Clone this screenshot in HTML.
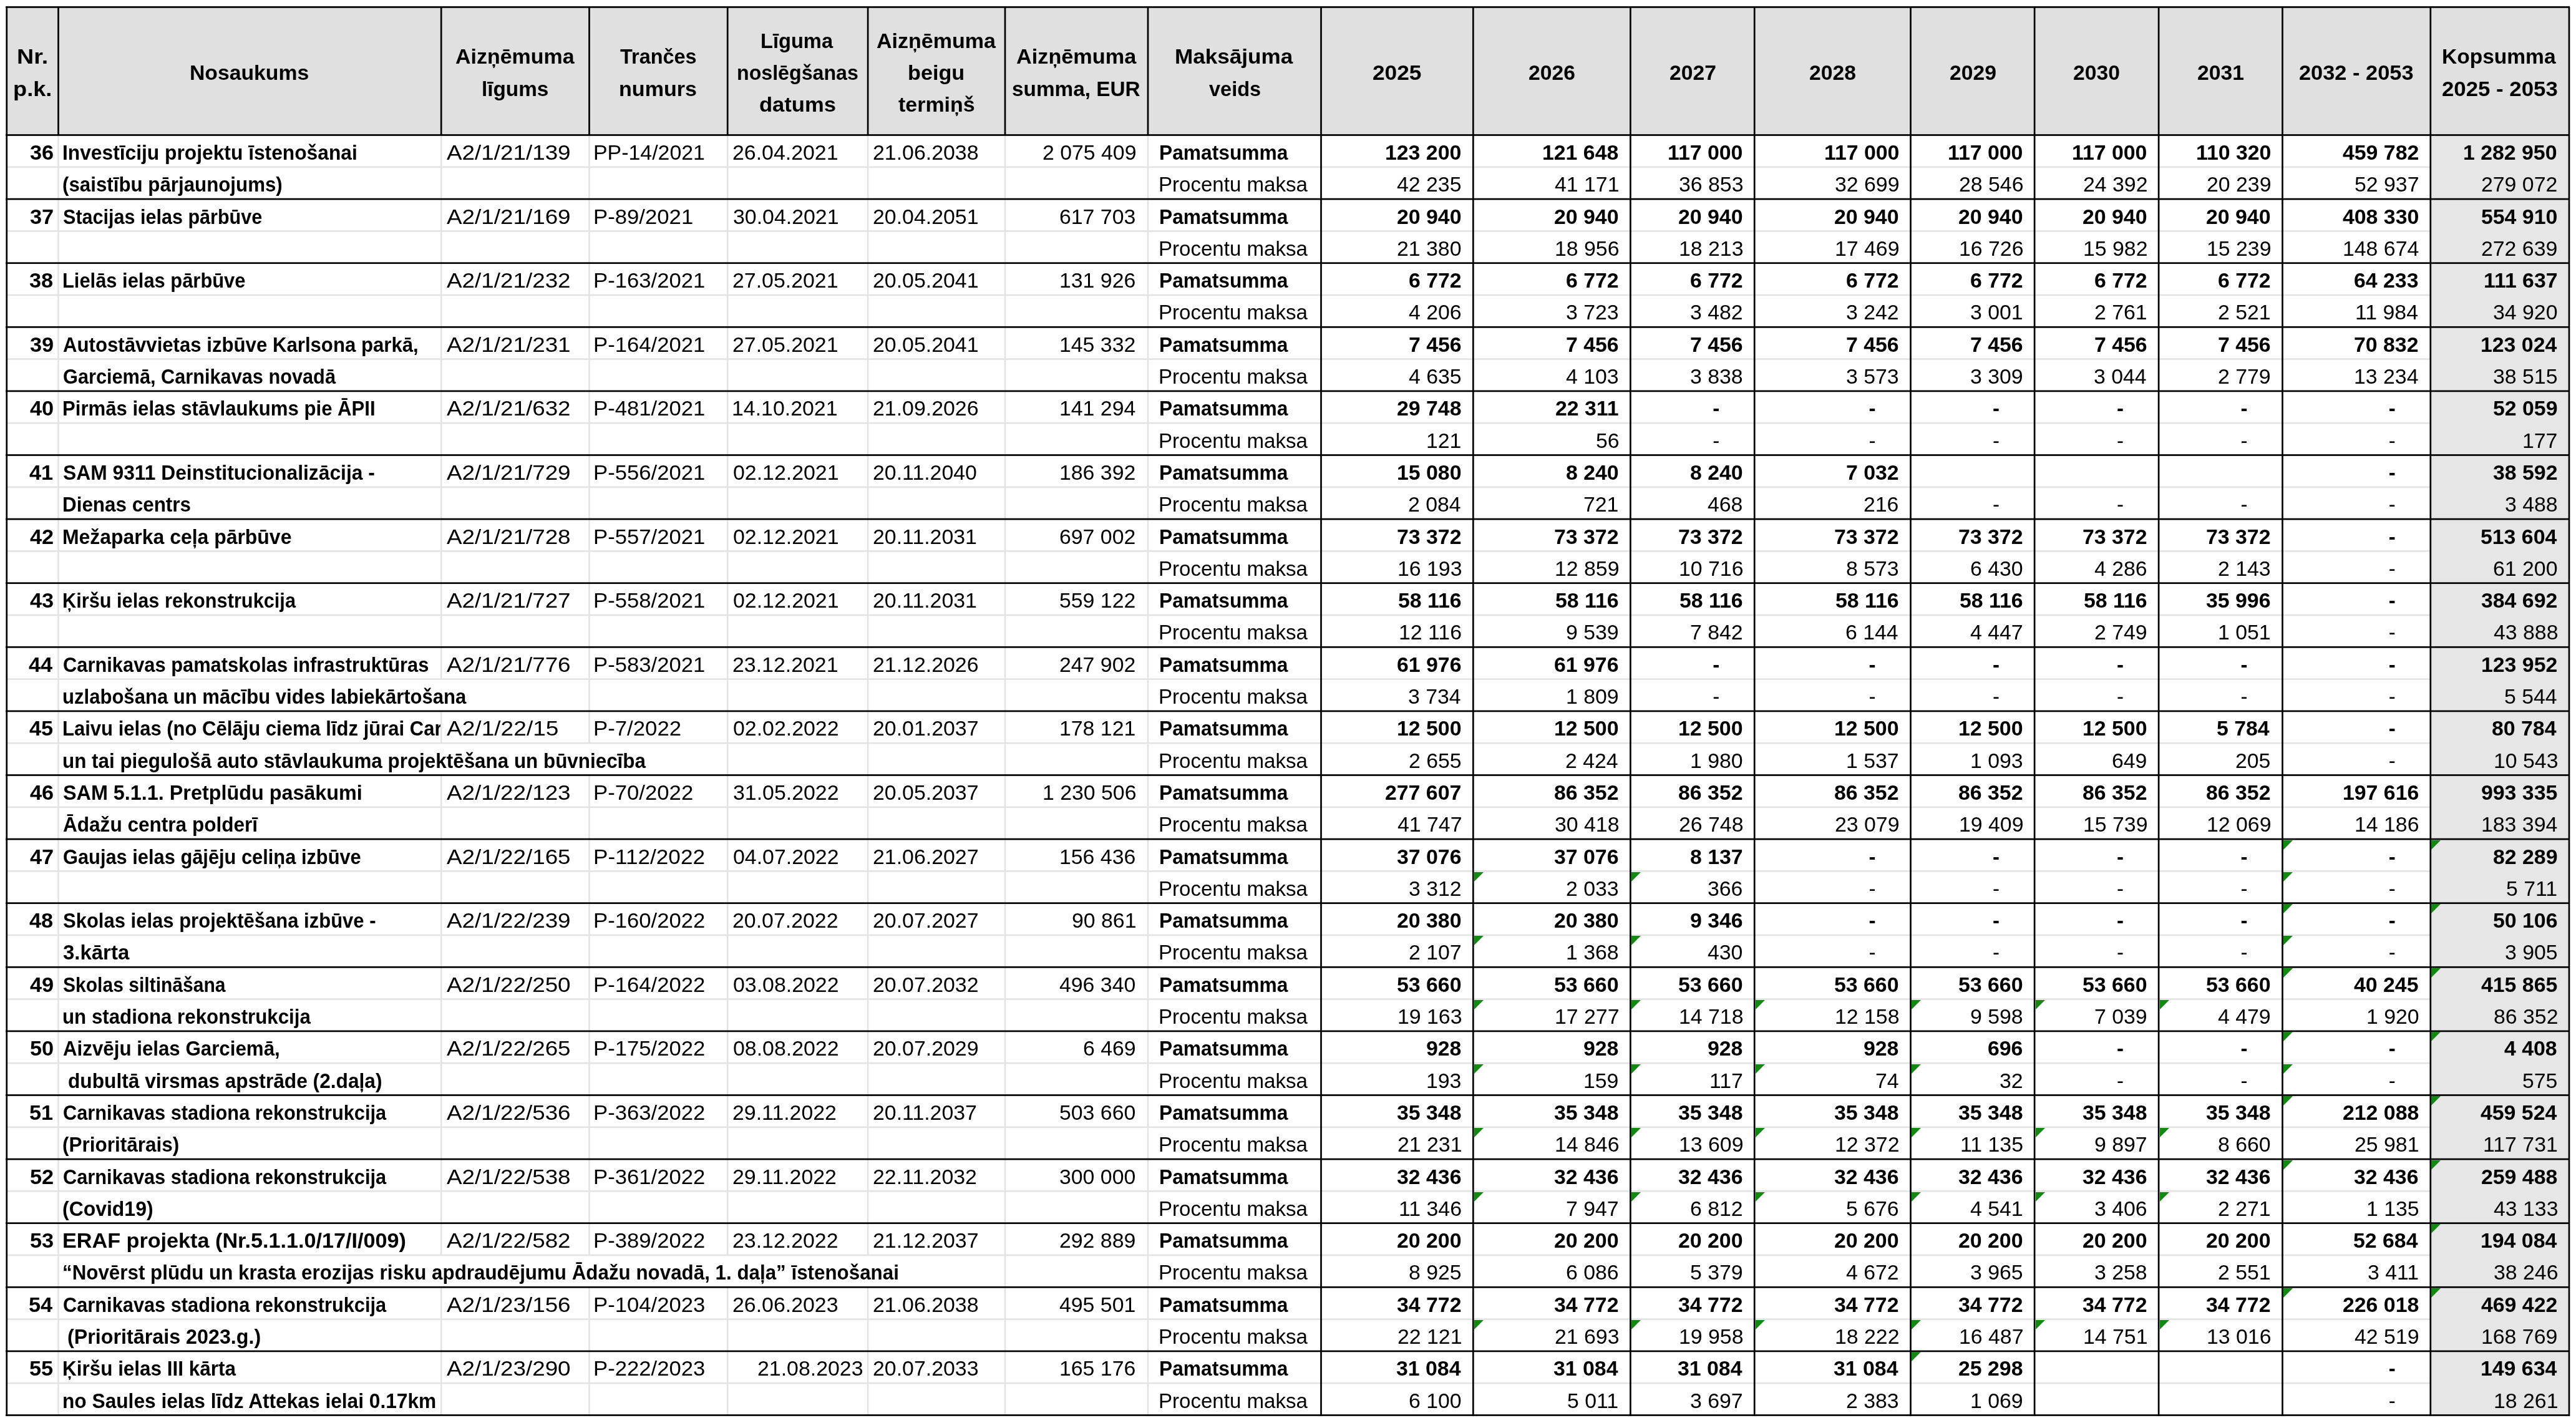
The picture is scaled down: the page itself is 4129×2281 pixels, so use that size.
<!DOCTYPE html>
<html><head><meta charset="utf-8"><style>
html,body{margin:0;padding:0;background:#fff}
body{width:4129px;height:2281px;position:relative;overflow:hidden}
body>div,.clip>div{position:absolute}
.clip{overflow:hidden}
.t{white-space:nowrap;font-family:"Liberation Sans",sans-serif;font-size:33px;line-height:40px;height:40px;color:#000;transform-origin:0 0}
.b{font-weight:bold}
.r{font-weight:normal}
</style></head><body>
<div style="left:11px;top:11px;width:4107px;height:206px;background:#e0e0e0"></div>
<div style="left:3896px;top:217px;width:222px;height:2052px;background:#e6e6e6"></div>
<div style="left:9px;top:10px;width:4110px;height:1px;background:rgba(0,0,0,0.950)"></div>
<div style="left:9px;top:11px;width:4110px;height:1px;background:rgba(0,0,0,1.000)"></div>
<div style="left:9px;top:12px;width:4110px;height:1px;background:rgba(0,0,0,0.750)"></div>
<div style="left:9px;top:215px;width:4110px;height:1px;background:rgba(0,0,0,0.850)"></div>
<div style="left:9px;top:216px;width:4110px;height:1px;background:rgba(0,0,0,1.000)"></div>
<div style="left:9px;top:217px;width:4110px;height:1px;background:rgba(0,0,0,0.850)"></div>
<div style="left:11px;top:266px;width:3885px;height:1px;background:rgb(241,241,241);mix-blend-mode:darken"></div>
<div style="left:11px;top:267px;width:3885px;height:2px;background:rgb(227,227,227);mix-blend-mode:darken"></div>
<div style="left:11px;top:269px;width:3885px;height:1px;background:rgb(252,252,252);mix-blend-mode:darken"></div>
<div style="left:11px;top:369px;width:3885px;height:1px;background:rgb(230,230,230);mix-blend-mode:darken"></div>
<div style="left:11px;top:370px;width:3885px;height:1px;background:rgb(227,227,227);mix-blend-mode:darken"></div>
<div style="left:11px;top:371px;width:3885px;height:1px;background:rgb(235,235,235);mix-blend-mode:darken"></div>
<div style="left:11px;top:471px;width:3885px;height:1px;background:rgb(247,247,247);mix-blend-mode:darken"></div>
<div style="left:11px;top:472px;width:3885px;height:2px;background:rgb(227,227,227);mix-blend-mode:darken"></div>
<div style="left:11px;top:474px;width:3885px;height:1px;background:rgb(247,247,247);mix-blend-mode:darken"></div>
<div style="left:11px;top:574px;width:3885px;height:1px;background:rgb(235,235,235);mix-blend-mode:darken"></div>
<div style="left:11px;top:575px;width:3885px;height:1px;background:rgb(227,227,227);mix-blend-mode:darken"></div>
<div style="left:11px;top:576px;width:3885px;height:1px;background:rgb(230,230,230);mix-blend-mode:darken"></div>
<div style="left:11px;top:676px;width:3885px;height:1px;background:rgb(252,252,252);mix-blend-mode:darken"></div>
<div style="left:11px;top:677px;width:3885px;height:2px;background:rgb(227,227,227);mix-blend-mode:darken"></div>
<div style="left:11px;top:679px;width:3885px;height:1px;background:rgb(241,241,241);mix-blend-mode:darken"></div>
<div style="left:11px;top:779px;width:3885px;height:1px;background:rgb(241,241,241);mix-blend-mode:darken"></div>
<div style="left:11px;top:780px;width:3885px;height:2px;background:rgb(227,227,227);mix-blend-mode:darken"></div>
<div style="left:11px;top:782px;width:3885px;height:1px;background:rgb(252,252,252);mix-blend-mode:darken"></div>
<div style="left:11px;top:882px;width:3885px;height:1px;background:rgb(230,230,230);mix-blend-mode:darken"></div>
<div style="left:11px;top:883px;width:3885px;height:1px;background:rgb(227,227,227);mix-blend-mode:darken"></div>
<div style="left:11px;top:884px;width:3885px;height:1px;background:rgb(235,235,235);mix-blend-mode:darken"></div>
<div style="left:11px;top:984px;width:3885px;height:1px;background:rgb(247,247,247);mix-blend-mode:darken"></div>
<div style="left:11px;top:985px;width:3885px;height:2px;background:rgb(227,227,227);mix-blend-mode:darken"></div>
<div style="left:11px;top:987px;width:3885px;height:1px;background:rgb(247,247,247);mix-blend-mode:darken"></div>
<div style="left:11px;top:1087px;width:3885px;height:1px;background:rgb(235,235,235);mix-blend-mode:darken"></div>
<div style="left:11px;top:1088px;width:3885px;height:1px;background:rgb(227,227,227);mix-blend-mode:darken"></div>
<div style="left:11px;top:1089px;width:3885px;height:1px;background:rgb(230,230,230);mix-blend-mode:darken"></div>
<div style="left:11px;top:1189px;width:3885px;height:1px;background:rgb(252,252,252);mix-blend-mode:darken"></div>
<div style="left:11px;top:1190px;width:3885px;height:2px;background:rgb(227,227,227);mix-blend-mode:darken"></div>
<div style="left:11px;top:1192px;width:3885px;height:1px;background:rgb(241,241,241);mix-blend-mode:darken"></div>
<div style="left:11px;top:1292px;width:3885px;height:1px;background:rgb(241,241,241);mix-blend-mode:darken"></div>
<div style="left:11px;top:1293px;width:3885px;height:2px;background:rgb(227,227,227);mix-blend-mode:darken"></div>
<div style="left:11px;top:1295px;width:3885px;height:1px;background:rgb(252,252,252);mix-blend-mode:darken"></div>
<div style="left:11px;top:1395px;width:3885px;height:1px;background:rgb(230,230,230);mix-blend-mode:darken"></div>
<div style="left:11px;top:1396px;width:3885px;height:1px;background:rgb(227,227,227);mix-blend-mode:darken"></div>
<div style="left:11px;top:1397px;width:3885px;height:1px;background:rgb(235,235,235);mix-blend-mode:darken"></div>
<div style="left:11px;top:1497px;width:3885px;height:1px;background:rgb(247,247,247);mix-blend-mode:darken"></div>
<div style="left:11px;top:1498px;width:3885px;height:2px;background:rgb(227,227,227);mix-blend-mode:darken"></div>
<div style="left:11px;top:1500px;width:3885px;height:1px;background:rgb(247,247,247);mix-blend-mode:darken"></div>
<div style="left:11px;top:1600px;width:3885px;height:1px;background:rgb(235,235,235);mix-blend-mode:darken"></div>
<div style="left:11px;top:1601px;width:3885px;height:1px;background:rgb(227,227,227);mix-blend-mode:darken"></div>
<div style="left:11px;top:1602px;width:3885px;height:1px;background:rgb(230,230,230);mix-blend-mode:darken"></div>
<div style="left:11px;top:1702px;width:3885px;height:1px;background:rgb(252,252,252);mix-blend-mode:darken"></div>
<div style="left:11px;top:1703px;width:3885px;height:2px;background:rgb(227,227,227);mix-blend-mode:darken"></div>
<div style="left:11px;top:1705px;width:3885px;height:1px;background:rgb(241,241,241);mix-blend-mode:darken"></div>
<div style="left:11px;top:1805px;width:3885px;height:1px;background:rgb(241,241,241);mix-blend-mode:darken"></div>
<div style="left:11px;top:1806px;width:3885px;height:2px;background:rgb(227,227,227);mix-blend-mode:darken"></div>
<div style="left:11px;top:1808px;width:3885px;height:1px;background:rgb(252,252,252);mix-blend-mode:darken"></div>
<div style="left:11px;top:1908px;width:3885px;height:1px;background:rgb(230,230,230);mix-blend-mode:darken"></div>
<div style="left:11px;top:1909px;width:3885px;height:1px;background:rgb(227,227,227);mix-blend-mode:darken"></div>
<div style="left:11px;top:1910px;width:3885px;height:1px;background:rgb(235,235,235);mix-blend-mode:darken"></div>
<div style="left:11px;top:2010px;width:3885px;height:1px;background:rgb(247,247,247);mix-blend-mode:darken"></div>
<div style="left:11px;top:2011px;width:3885px;height:2px;background:rgb(227,227,227);mix-blend-mode:darken"></div>
<div style="left:11px;top:2013px;width:3885px;height:1px;background:rgb(247,247,247);mix-blend-mode:darken"></div>
<div style="left:11px;top:2113px;width:3885px;height:1px;background:rgb(235,235,235);mix-blend-mode:darken"></div>
<div style="left:11px;top:2114px;width:3885px;height:1px;background:rgb(227,227,227);mix-blend-mode:darken"></div>
<div style="left:11px;top:2115px;width:3885px;height:1px;background:rgb(230,230,230);mix-blend-mode:darken"></div>
<div style="left:11px;top:2215px;width:3885px;height:1px;background:rgb(252,252,252);mix-blend-mode:darken"></div>
<div style="left:11px;top:2216px;width:3885px;height:2px;background:rgb(227,227,227);mix-blend-mode:darken"></div>
<div style="left:11px;top:2218px;width:3885px;height:1px;background:rgb(241,241,241);mix-blend-mode:darken"></div>
<div style="left:92px;top:217px;width:1px;height:51px;background:rgb(233,233,233);mix-blend-mode:darken"></div>
<div style="left:93px;top:217px;width:1px;height:51px;background:rgb(227,227,227);mix-blend-mode:darken"></div>
<div style="left:94px;top:217px;width:1px;height:51px;background:rgb(233,233,233);mix-blend-mode:darken"></div>
<div style="left:92px;top:268px;width:1px;height:51px;background:rgb(233,233,233);mix-blend-mode:darken"></div>
<div style="left:93px;top:268px;width:1px;height:51px;background:rgb(227,227,227);mix-blend-mode:darken"></div>
<div style="left:94px;top:268px;width:1px;height:51px;background:rgb(233,233,233);mix-blend-mode:darken"></div>
<div style="left:92px;top:319px;width:1px;height:51px;background:rgb(233,233,233);mix-blend-mode:darken"></div>
<div style="left:93px;top:319px;width:1px;height:51px;background:rgb(227,227,227);mix-blend-mode:darken"></div>
<div style="left:94px;top:319px;width:1px;height:51px;background:rgb(233,233,233);mix-blend-mode:darken"></div>
<div style="left:92px;top:370px;width:1px;height:52px;background:rgb(233,233,233);mix-blend-mode:darken"></div>
<div style="left:93px;top:370px;width:1px;height:52px;background:rgb(227,227,227);mix-blend-mode:darken"></div>
<div style="left:94px;top:370px;width:1px;height:52px;background:rgb(233,233,233);mix-blend-mode:darken"></div>
<div style="left:92px;top:422px;width:1px;height:51px;background:rgb(233,233,233);mix-blend-mode:darken"></div>
<div style="left:93px;top:422px;width:1px;height:51px;background:rgb(227,227,227);mix-blend-mode:darken"></div>
<div style="left:94px;top:422px;width:1px;height:51px;background:rgb(233,233,233);mix-blend-mode:darken"></div>
<div style="left:92px;top:473px;width:1px;height:51px;background:rgb(233,233,233);mix-blend-mode:darken"></div>
<div style="left:93px;top:473px;width:1px;height:51px;background:rgb(227,227,227);mix-blend-mode:darken"></div>
<div style="left:94px;top:473px;width:1px;height:51px;background:rgb(233,233,233);mix-blend-mode:darken"></div>
<div style="left:92px;top:524px;width:1px;height:52px;background:rgb(233,233,233);mix-blend-mode:darken"></div>
<div style="left:93px;top:524px;width:1px;height:52px;background:rgb(227,227,227);mix-blend-mode:darken"></div>
<div style="left:94px;top:524px;width:1px;height:52px;background:rgb(233,233,233);mix-blend-mode:darken"></div>
<div style="left:92px;top:576px;width:1px;height:51px;background:rgb(233,233,233);mix-blend-mode:darken"></div>
<div style="left:93px;top:576px;width:1px;height:51px;background:rgb(227,227,227);mix-blend-mode:darken"></div>
<div style="left:94px;top:576px;width:1px;height:51px;background:rgb(233,233,233);mix-blend-mode:darken"></div>
<div style="left:92px;top:627px;width:1px;height:51px;background:rgb(233,233,233);mix-blend-mode:darken"></div>
<div style="left:93px;top:627px;width:1px;height:51px;background:rgb(227,227,227);mix-blend-mode:darken"></div>
<div style="left:94px;top:627px;width:1px;height:51px;background:rgb(233,233,233);mix-blend-mode:darken"></div>
<div style="left:92px;top:678px;width:1px;height:52px;background:rgb(233,233,233);mix-blend-mode:darken"></div>
<div style="left:93px;top:678px;width:1px;height:52px;background:rgb(227,227,227);mix-blend-mode:darken"></div>
<div style="left:94px;top:678px;width:1px;height:52px;background:rgb(233,233,233);mix-blend-mode:darken"></div>
<div style="left:92px;top:730px;width:1px;height:51px;background:rgb(233,233,233);mix-blend-mode:darken"></div>
<div style="left:93px;top:730px;width:1px;height:51px;background:rgb(227,227,227);mix-blend-mode:darken"></div>
<div style="left:94px;top:730px;width:1px;height:51px;background:rgb(233,233,233);mix-blend-mode:darken"></div>
<div style="left:92px;top:781px;width:1px;height:51px;background:rgb(233,233,233);mix-blend-mode:darken"></div>
<div style="left:93px;top:781px;width:1px;height:51px;background:rgb(227,227,227);mix-blend-mode:darken"></div>
<div style="left:94px;top:781px;width:1px;height:51px;background:rgb(233,233,233);mix-blend-mode:darken"></div>
<div style="left:92px;top:832px;width:1px;height:51px;background:rgb(233,233,233);mix-blend-mode:darken"></div>
<div style="left:93px;top:832px;width:1px;height:51px;background:rgb(227,227,227);mix-blend-mode:darken"></div>
<div style="left:94px;top:832px;width:1px;height:51px;background:rgb(233,233,233);mix-blend-mode:darken"></div>
<div style="left:92px;top:883px;width:1px;height:52px;background:rgb(233,233,233);mix-blend-mode:darken"></div>
<div style="left:93px;top:883px;width:1px;height:52px;background:rgb(227,227,227);mix-blend-mode:darken"></div>
<div style="left:94px;top:883px;width:1px;height:52px;background:rgb(233,233,233);mix-blend-mode:darken"></div>
<div style="left:92px;top:935px;width:1px;height:51px;background:rgb(233,233,233);mix-blend-mode:darken"></div>
<div style="left:93px;top:935px;width:1px;height:51px;background:rgb(227,227,227);mix-blend-mode:darken"></div>
<div style="left:94px;top:935px;width:1px;height:51px;background:rgb(233,233,233);mix-blend-mode:darken"></div>
<div style="left:92px;top:986px;width:1px;height:51px;background:rgb(233,233,233);mix-blend-mode:darken"></div>
<div style="left:93px;top:986px;width:1px;height:51px;background:rgb(227,227,227);mix-blend-mode:darken"></div>
<div style="left:94px;top:986px;width:1px;height:51px;background:rgb(233,233,233);mix-blend-mode:darken"></div>
<div style="left:92px;top:1037px;width:1px;height:52px;background:rgb(233,233,233);mix-blend-mode:darken"></div>
<div style="left:93px;top:1037px;width:1px;height:52px;background:rgb(227,227,227);mix-blend-mode:darken"></div>
<div style="left:94px;top:1037px;width:1px;height:52px;background:rgb(233,233,233);mix-blend-mode:darken"></div>
<div style="left:92px;top:1089px;width:1px;height:51px;background:rgb(233,233,233);mix-blend-mode:darken"></div>
<div style="left:93px;top:1089px;width:1px;height:51px;background:rgb(227,227,227);mix-blend-mode:darken"></div>
<div style="left:94px;top:1089px;width:1px;height:51px;background:rgb(233,233,233);mix-blend-mode:darken"></div>
<div style="left:92px;top:1140px;width:1px;height:51px;background:rgb(233,233,233);mix-blend-mode:darken"></div>
<div style="left:93px;top:1140px;width:1px;height:51px;background:rgb(227,227,227);mix-blend-mode:darken"></div>
<div style="left:94px;top:1140px;width:1px;height:51px;background:rgb(233,233,233);mix-blend-mode:darken"></div>
<div style="left:92px;top:1191px;width:1px;height:52px;background:rgb(233,233,233);mix-blend-mode:darken"></div>
<div style="left:93px;top:1191px;width:1px;height:52px;background:rgb(227,227,227);mix-blend-mode:darken"></div>
<div style="left:94px;top:1191px;width:1px;height:52px;background:rgb(233,233,233);mix-blend-mode:darken"></div>
<div style="left:92px;top:1243px;width:1px;height:51px;background:rgb(233,233,233);mix-blend-mode:darken"></div>
<div style="left:93px;top:1243px;width:1px;height:51px;background:rgb(227,227,227);mix-blend-mode:darken"></div>
<div style="left:94px;top:1243px;width:1px;height:51px;background:rgb(233,233,233);mix-blend-mode:darken"></div>
<div style="left:92px;top:1294px;width:1px;height:51px;background:rgb(233,233,233);mix-blend-mode:darken"></div>
<div style="left:93px;top:1294px;width:1px;height:51px;background:rgb(227,227,227);mix-blend-mode:darken"></div>
<div style="left:94px;top:1294px;width:1px;height:51px;background:rgb(233,233,233);mix-blend-mode:darken"></div>
<div style="left:92px;top:1345px;width:1px;height:51px;background:rgb(233,233,233);mix-blend-mode:darken"></div>
<div style="left:93px;top:1345px;width:1px;height:51px;background:rgb(227,227,227);mix-blend-mode:darken"></div>
<div style="left:94px;top:1345px;width:1px;height:51px;background:rgb(233,233,233);mix-blend-mode:darken"></div>
<div style="left:92px;top:1396px;width:1px;height:52px;background:rgb(233,233,233);mix-blend-mode:darken"></div>
<div style="left:93px;top:1396px;width:1px;height:52px;background:rgb(227,227,227);mix-blend-mode:darken"></div>
<div style="left:94px;top:1396px;width:1px;height:52px;background:rgb(233,233,233);mix-blend-mode:darken"></div>
<div style="left:92px;top:1448px;width:1px;height:51px;background:rgb(233,233,233);mix-blend-mode:darken"></div>
<div style="left:93px;top:1448px;width:1px;height:51px;background:rgb(227,227,227);mix-blend-mode:darken"></div>
<div style="left:94px;top:1448px;width:1px;height:51px;background:rgb(233,233,233);mix-blend-mode:darken"></div>
<div style="left:92px;top:1499px;width:1px;height:51px;background:rgb(233,233,233);mix-blend-mode:darken"></div>
<div style="left:93px;top:1499px;width:1px;height:51px;background:rgb(227,227,227);mix-blend-mode:darken"></div>
<div style="left:94px;top:1499px;width:1px;height:51px;background:rgb(233,233,233);mix-blend-mode:darken"></div>
<div style="left:92px;top:1550px;width:1px;height:52px;background:rgb(233,233,233);mix-blend-mode:darken"></div>
<div style="left:93px;top:1550px;width:1px;height:52px;background:rgb(227,227,227);mix-blend-mode:darken"></div>
<div style="left:94px;top:1550px;width:1px;height:52px;background:rgb(233,233,233);mix-blend-mode:darken"></div>
<div style="left:92px;top:1602px;width:1px;height:51px;background:rgb(233,233,233);mix-blend-mode:darken"></div>
<div style="left:93px;top:1602px;width:1px;height:51px;background:rgb(227,227,227);mix-blend-mode:darken"></div>
<div style="left:94px;top:1602px;width:1px;height:51px;background:rgb(233,233,233);mix-blend-mode:darken"></div>
<div style="left:92px;top:1653px;width:1px;height:51px;background:rgb(233,233,233);mix-blend-mode:darken"></div>
<div style="left:93px;top:1653px;width:1px;height:51px;background:rgb(227,227,227);mix-blend-mode:darken"></div>
<div style="left:94px;top:1653px;width:1px;height:51px;background:rgb(233,233,233);mix-blend-mode:darken"></div>
<div style="left:92px;top:1704px;width:1px;height:52px;background:rgb(233,233,233);mix-blend-mode:darken"></div>
<div style="left:93px;top:1704px;width:1px;height:52px;background:rgb(227,227,227);mix-blend-mode:darken"></div>
<div style="left:94px;top:1704px;width:1px;height:52px;background:rgb(233,233,233);mix-blend-mode:darken"></div>
<div style="left:92px;top:1756px;width:1px;height:51px;background:rgb(233,233,233);mix-blend-mode:darken"></div>
<div style="left:93px;top:1756px;width:1px;height:51px;background:rgb(227,227,227);mix-blend-mode:darken"></div>
<div style="left:94px;top:1756px;width:1px;height:51px;background:rgb(233,233,233);mix-blend-mode:darken"></div>
<div style="left:92px;top:1807px;width:1px;height:51px;background:rgb(233,233,233);mix-blend-mode:darken"></div>
<div style="left:93px;top:1807px;width:1px;height:51px;background:rgb(227,227,227);mix-blend-mode:darken"></div>
<div style="left:94px;top:1807px;width:1px;height:51px;background:rgb(233,233,233);mix-blend-mode:darken"></div>
<div style="left:92px;top:1858px;width:1px;height:51px;background:rgb(233,233,233);mix-blend-mode:darken"></div>
<div style="left:93px;top:1858px;width:1px;height:51px;background:rgb(227,227,227);mix-blend-mode:darken"></div>
<div style="left:94px;top:1858px;width:1px;height:51px;background:rgb(233,233,233);mix-blend-mode:darken"></div>
<div style="left:92px;top:1909px;width:1px;height:52px;background:rgb(233,233,233);mix-blend-mode:darken"></div>
<div style="left:93px;top:1909px;width:1px;height:52px;background:rgb(227,227,227);mix-blend-mode:darken"></div>
<div style="left:94px;top:1909px;width:1px;height:52px;background:rgb(233,233,233);mix-blend-mode:darken"></div>
<div style="left:92px;top:1961px;width:1px;height:51px;background:rgb(233,233,233);mix-blend-mode:darken"></div>
<div style="left:93px;top:1961px;width:1px;height:51px;background:rgb(227,227,227);mix-blend-mode:darken"></div>
<div style="left:94px;top:1961px;width:1px;height:51px;background:rgb(233,233,233);mix-blend-mode:darken"></div>
<div style="left:92px;top:2012px;width:1px;height:51px;background:rgb(233,233,233);mix-blend-mode:darken"></div>
<div style="left:93px;top:2012px;width:1px;height:51px;background:rgb(227,227,227);mix-blend-mode:darken"></div>
<div style="left:94px;top:2012px;width:1px;height:51px;background:rgb(233,233,233);mix-blend-mode:darken"></div>
<div style="left:92px;top:2063px;width:1px;height:52px;background:rgb(233,233,233);mix-blend-mode:darken"></div>
<div style="left:93px;top:2063px;width:1px;height:52px;background:rgb(227,227,227);mix-blend-mode:darken"></div>
<div style="left:94px;top:2063px;width:1px;height:52px;background:rgb(233,233,233);mix-blend-mode:darken"></div>
<div style="left:92px;top:2115px;width:1px;height:51px;background:rgb(233,233,233);mix-blend-mode:darken"></div>
<div style="left:93px;top:2115px;width:1px;height:51px;background:rgb(227,227,227);mix-blend-mode:darken"></div>
<div style="left:94px;top:2115px;width:1px;height:51px;background:rgb(233,233,233);mix-blend-mode:darken"></div>
<div style="left:92px;top:2166px;width:1px;height:51px;background:rgb(233,233,233);mix-blend-mode:darken"></div>
<div style="left:93px;top:2166px;width:1px;height:51px;background:rgb(227,227,227);mix-blend-mode:darken"></div>
<div style="left:94px;top:2166px;width:1px;height:51px;background:rgb(233,233,233);mix-blend-mode:darken"></div>
<div style="left:92px;top:2217px;width:1px;height:52px;background:rgb(233,233,233);mix-blend-mode:darken"></div>
<div style="left:93px;top:2217px;width:1px;height:52px;background:rgb(227,227,227);mix-blend-mode:darken"></div>
<div style="left:94px;top:2217px;width:1px;height:52px;background:rgb(233,233,233);mix-blend-mode:darken"></div>
<div style="left:705px;top:217px;width:1px;height:51px;background:rgb(252,252,252);mix-blend-mode:darken"></div>
<div style="left:706px;top:217px;width:2px;height:51px;background:rgb(227,227,227);mix-blend-mode:darken"></div>
<div style="left:708px;top:217px;width:1px;height:51px;background:rgb(241,241,241);mix-blend-mode:darken"></div>
<div style="left:705px;top:268px;width:1px;height:51px;background:rgb(252,252,252);mix-blend-mode:darken"></div>
<div style="left:706px;top:268px;width:2px;height:51px;background:rgb(227,227,227);mix-blend-mode:darken"></div>
<div style="left:708px;top:268px;width:1px;height:51px;background:rgb(241,241,241);mix-blend-mode:darken"></div>
<div style="left:705px;top:319px;width:1px;height:51px;background:rgb(252,252,252);mix-blend-mode:darken"></div>
<div style="left:706px;top:319px;width:2px;height:51px;background:rgb(227,227,227);mix-blend-mode:darken"></div>
<div style="left:708px;top:319px;width:1px;height:51px;background:rgb(241,241,241);mix-blend-mode:darken"></div>
<div style="left:705px;top:370px;width:1px;height:52px;background:rgb(252,252,252);mix-blend-mode:darken"></div>
<div style="left:706px;top:370px;width:2px;height:52px;background:rgb(227,227,227);mix-blend-mode:darken"></div>
<div style="left:708px;top:370px;width:1px;height:52px;background:rgb(241,241,241);mix-blend-mode:darken"></div>
<div style="left:705px;top:422px;width:1px;height:51px;background:rgb(252,252,252);mix-blend-mode:darken"></div>
<div style="left:706px;top:422px;width:2px;height:51px;background:rgb(227,227,227);mix-blend-mode:darken"></div>
<div style="left:708px;top:422px;width:1px;height:51px;background:rgb(241,241,241);mix-blend-mode:darken"></div>
<div style="left:705px;top:473px;width:1px;height:51px;background:rgb(252,252,252);mix-blend-mode:darken"></div>
<div style="left:706px;top:473px;width:2px;height:51px;background:rgb(227,227,227);mix-blend-mode:darken"></div>
<div style="left:708px;top:473px;width:1px;height:51px;background:rgb(241,241,241);mix-blend-mode:darken"></div>
<div style="left:705px;top:524px;width:1px;height:52px;background:rgb(252,252,252);mix-blend-mode:darken"></div>
<div style="left:706px;top:524px;width:2px;height:52px;background:rgb(227,227,227);mix-blend-mode:darken"></div>
<div style="left:708px;top:524px;width:1px;height:52px;background:rgb(241,241,241);mix-blend-mode:darken"></div>
<div style="left:705px;top:576px;width:1px;height:51px;background:rgb(252,252,252);mix-blend-mode:darken"></div>
<div style="left:706px;top:576px;width:2px;height:51px;background:rgb(227,227,227);mix-blend-mode:darken"></div>
<div style="left:708px;top:576px;width:1px;height:51px;background:rgb(241,241,241);mix-blend-mode:darken"></div>
<div style="left:705px;top:627px;width:1px;height:51px;background:rgb(252,252,252);mix-blend-mode:darken"></div>
<div style="left:706px;top:627px;width:2px;height:51px;background:rgb(227,227,227);mix-blend-mode:darken"></div>
<div style="left:708px;top:627px;width:1px;height:51px;background:rgb(241,241,241);mix-blend-mode:darken"></div>
<div style="left:705px;top:678px;width:1px;height:52px;background:rgb(252,252,252);mix-blend-mode:darken"></div>
<div style="left:706px;top:678px;width:2px;height:52px;background:rgb(227,227,227);mix-blend-mode:darken"></div>
<div style="left:708px;top:678px;width:1px;height:52px;background:rgb(241,241,241);mix-blend-mode:darken"></div>
<div style="left:705px;top:730px;width:1px;height:51px;background:rgb(252,252,252);mix-blend-mode:darken"></div>
<div style="left:706px;top:730px;width:2px;height:51px;background:rgb(227,227,227);mix-blend-mode:darken"></div>
<div style="left:708px;top:730px;width:1px;height:51px;background:rgb(241,241,241);mix-blend-mode:darken"></div>
<div style="left:705px;top:781px;width:1px;height:51px;background:rgb(252,252,252);mix-blend-mode:darken"></div>
<div style="left:706px;top:781px;width:2px;height:51px;background:rgb(227,227,227);mix-blend-mode:darken"></div>
<div style="left:708px;top:781px;width:1px;height:51px;background:rgb(241,241,241);mix-blend-mode:darken"></div>
<div style="left:705px;top:832px;width:1px;height:51px;background:rgb(252,252,252);mix-blend-mode:darken"></div>
<div style="left:706px;top:832px;width:2px;height:51px;background:rgb(227,227,227);mix-blend-mode:darken"></div>
<div style="left:708px;top:832px;width:1px;height:51px;background:rgb(241,241,241);mix-blend-mode:darken"></div>
<div style="left:705px;top:883px;width:1px;height:52px;background:rgb(252,252,252);mix-blend-mode:darken"></div>
<div style="left:706px;top:883px;width:2px;height:52px;background:rgb(227,227,227);mix-blend-mode:darken"></div>
<div style="left:708px;top:883px;width:1px;height:52px;background:rgb(241,241,241);mix-blend-mode:darken"></div>
<div style="left:705px;top:935px;width:1px;height:51px;background:rgb(252,252,252);mix-blend-mode:darken"></div>
<div style="left:706px;top:935px;width:2px;height:51px;background:rgb(227,227,227);mix-blend-mode:darken"></div>
<div style="left:708px;top:935px;width:1px;height:51px;background:rgb(241,241,241);mix-blend-mode:darken"></div>
<div style="left:705px;top:986px;width:1px;height:51px;background:rgb(252,252,252);mix-blend-mode:darken"></div>
<div style="left:706px;top:986px;width:2px;height:51px;background:rgb(227,227,227);mix-blend-mode:darken"></div>
<div style="left:708px;top:986px;width:1px;height:51px;background:rgb(241,241,241);mix-blend-mode:darken"></div>
<div style="left:705px;top:1037px;width:1px;height:52px;background:rgb(252,252,252);mix-blend-mode:darken"></div>
<div style="left:706px;top:1037px;width:2px;height:52px;background:rgb(227,227,227);mix-blend-mode:darken"></div>
<div style="left:708px;top:1037px;width:1px;height:52px;background:rgb(241,241,241);mix-blend-mode:darken"></div>
<div style="left:705px;top:1140px;width:1px;height:51px;background:rgb(252,252,252);mix-blend-mode:darken"></div>
<div style="left:706px;top:1140px;width:2px;height:51px;background:rgb(227,227,227);mix-blend-mode:darken"></div>
<div style="left:708px;top:1140px;width:1px;height:51px;background:rgb(241,241,241);mix-blend-mode:darken"></div>
<div style="left:705px;top:1243px;width:1px;height:51px;background:rgb(252,252,252);mix-blend-mode:darken"></div>
<div style="left:706px;top:1243px;width:2px;height:51px;background:rgb(227,227,227);mix-blend-mode:darken"></div>
<div style="left:708px;top:1243px;width:1px;height:51px;background:rgb(241,241,241);mix-blend-mode:darken"></div>
<div style="left:705px;top:1294px;width:1px;height:51px;background:rgb(252,252,252);mix-blend-mode:darken"></div>
<div style="left:706px;top:1294px;width:2px;height:51px;background:rgb(227,227,227);mix-blend-mode:darken"></div>
<div style="left:708px;top:1294px;width:1px;height:51px;background:rgb(241,241,241);mix-blend-mode:darken"></div>
<div style="left:705px;top:1345px;width:1px;height:51px;background:rgb(252,252,252);mix-blend-mode:darken"></div>
<div style="left:706px;top:1345px;width:2px;height:51px;background:rgb(227,227,227);mix-blend-mode:darken"></div>
<div style="left:708px;top:1345px;width:1px;height:51px;background:rgb(241,241,241);mix-blend-mode:darken"></div>
<div style="left:705px;top:1396px;width:1px;height:52px;background:rgb(252,252,252);mix-blend-mode:darken"></div>
<div style="left:706px;top:1396px;width:2px;height:52px;background:rgb(227,227,227);mix-blend-mode:darken"></div>
<div style="left:708px;top:1396px;width:1px;height:52px;background:rgb(241,241,241);mix-blend-mode:darken"></div>
<div style="left:705px;top:1448px;width:1px;height:51px;background:rgb(252,252,252);mix-blend-mode:darken"></div>
<div style="left:706px;top:1448px;width:2px;height:51px;background:rgb(227,227,227);mix-blend-mode:darken"></div>
<div style="left:708px;top:1448px;width:1px;height:51px;background:rgb(241,241,241);mix-blend-mode:darken"></div>
<div style="left:705px;top:1499px;width:1px;height:51px;background:rgb(252,252,252);mix-blend-mode:darken"></div>
<div style="left:706px;top:1499px;width:2px;height:51px;background:rgb(227,227,227);mix-blend-mode:darken"></div>
<div style="left:708px;top:1499px;width:1px;height:51px;background:rgb(241,241,241);mix-blend-mode:darken"></div>
<div style="left:705px;top:1550px;width:1px;height:52px;background:rgb(252,252,252);mix-blend-mode:darken"></div>
<div style="left:706px;top:1550px;width:2px;height:52px;background:rgb(227,227,227);mix-blend-mode:darken"></div>
<div style="left:708px;top:1550px;width:1px;height:52px;background:rgb(241,241,241);mix-blend-mode:darken"></div>
<div style="left:705px;top:1602px;width:1px;height:51px;background:rgb(252,252,252);mix-blend-mode:darken"></div>
<div style="left:706px;top:1602px;width:2px;height:51px;background:rgb(227,227,227);mix-blend-mode:darken"></div>
<div style="left:708px;top:1602px;width:1px;height:51px;background:rgb(241,241,241);mix-blend-mode:darken"></div>
<div style="left:705px;top:1653px;width:1px;height:51px;background:rgb(252,252,252);mix-blend-mode:darken"></div>
<div style="left:706px;top:1653px;width:2px;height:51px;background:rgb(227,227,227);mix-blend-mode:darken"></div>
<div style="left:708px;top:1653px;width:1px;height:51px;background:rgb(241,241,241);mix-blend-mode:darken"></div>
<div style="left:705px;top:1704px;width:1px;height:52px;background:rgb(252,252,252);mix-blend-mode:darken"></div>
<div style="left:706px;top:1704px;width:2px;height:52px;background:rgb(227,227,227);mix-blend-mode:darken"></div>
<div style="left:708px;top:1704px;width:1px;height:52px;background:rgb(241,241,241);mix-blend-mode:darken"></div>
<div style="left:705px;top:1756px;width:1px;height:51px;background:rgb(252,252,252);mix-blend-mode:darken"></div>
<div style="left:706px;top:1756px;width:2px;height:51px;background:rgb(227,227,227);mix-blend-mode:darken"></div>
<div style="left:708px;top:1756px;width:1px;height:51px;background:rgb(241,241,241);mix-blend-mode:darken"></div>
<div style="left:705px;top:1807px;width:1px;height:51px;background:rgb(252,252,252);mix-blend-mode:darken"></div>
<div style="left:706px;top:1807px;width:2px;height:51px;background:rgb(227,227,227);mix-blend-mode:darken"></div>
<div style="left:708px;top:1807px;width:1px;height:51px;background:rgb(241,241,241);mix-blend-mode:darken"></div>
<div style="left:705px;top:1858px;width:1px;height:51px;background:rgb(252,252,252);mix-blend-mode:darken"></div>
<div style="left:706px;top:1858px;width:2px;height:51px;background:rgb(227,227,227);mix-blend-mode:darken"></div>
<div style="left:708px;top:1858px;width:1px;height:51px;background:rgb(241,241,241);mix-blend-mode:darken"></div>
<div style="left:705px;top:1909px;width:1px;height:52px;background:rgb(252,252,252);mix-blend-mode:darken"></div>
<div style="left:706px;top:1909px;width:2px;height:52px;background:rgb(227,227,227);mix-blend-mode:darken"></div>
<div style="left:708px;top:1909px;width:1px;height:52px;background:rgb(241,241,241);mix-blend-mode:darken"></div>
<div style="left:705px;top:1961px;width:1px;height:51px;background:rgb(252,252,252);mix-blend-mode:darken"></div>
<div style="left:706px;top:1961px;width:2px;height:51px;background:rgb(227,227,227);mix-blend-mode:darken"></div>
<div style="left:708px;top:1961px;width:1px;height:51px;background:rgb(241,241,241);mix-blend-mode:darken"></div>
<div style="left:705px;top:2063px;width:1px;height:52px;background:rgb(252,252,252);mix-blend-mode:darken"></div>
<div style="left:706px;top:2063px;width:2px;height:52px;background:rgb(227,227,227);mix-blend-mode:darken"></div>
<div style="left:708px;top:2063px;width:1px;height:52px;background:rgb(241,241,241);mix-blend-mode:darken"></div>
<div style="left:705px;top:2115px;width:1px;height:51px;background:rgb(252,252,252);mix-blend-mode:darken"></div>
<div style="left:706px;top:2115px;width:2px;height:51px;background:rgb(227,227,227);mix-blend-mode:darken"></div>
<div style="left:708px;top:2115px;width:1px;height:51px;background:rgb(241,241,241);mix-blend-mode:darken"></div>
<div style="left:705px;top:2166px;width:1px;height:51px;background:rgb(252,252,252);mix-blend-mode:darken"></div>
<div style="left:706px;top:2166px;width:2px;height:51px;background:rgb(227,227,227);mix-blend-mode:darken"></div>
<div style="left:708px;top:2166px;width:1px;height:51px;background:rgb(241,241,241);mix-blend-mode:darken"></div>
<div style="left:705px;top:2217px;width:1px;height:52px;background:rgb(252,252,252);mix-blend-mode:darken"></div>
<div style="left:706px;top:2217px;width:2px;height:52px;background:rgb(227,227,227);mix-blend-mode:darken"></div>
<div style="left:708px;top:2217px;width:1px;height:52px;background:rgb(241,241,241);mix-blend-mode:darken"></div>
<div style="left:943px;top:217px;width:1px;height:51px;background:rgb(233,233,233);mix-blend-mode:darken"></div>
<div style="left:944px;top:217px;width:1px;height:51px;background:rgb(227,227,227);mix-blend-mode:darken"></div>
<div style="left:945px;top:217px;width:1px;height:51px;background:rgb(233,233,233);mix-blend-mode:darken"></div>
<div style="left:943px;top:268px;width:1px;height:51px;background:rgb(233,233,233);mix-blend-mode:darken"></div>
<div style="left:944px;top:268px;width:1px;height:51px;background:rgb(227,227,227);mix-blend-mode:darken"></div>
<div style="left:945px;top:268px;width:1px;height:51px;background:rgb(233,233,233);mix-blend-mode:darken"></div>
<div style="left:943px;top:319px;width:1px;height:51px;background:rgb(233,233,233);mix-blend-mode:darken"></div>
<div style="left:944px;top:319px;width:1px;height:51px;background:rgb(227,227,227);mix-blend-mode:darken"></div>
<div style="left:945px;top:319px;width:1px;height:51px;background:rgb(233,233,233);mix-blend-mode:darken"></div>
<div style="left:943px;top:370px;width:1px;height:52px;background:rgb(233,233,233);mix-blend-mode:darken"></div>
<div style="left:944px;top:370px;width:1px;height:52px;background:rgb(227,227,227);mix-blend-mode:darken"></div>
<div style="left:945px;top:370px;width:1px;height:52px;background:rgb(233,233,233);mix-blend-mode:darken"></div>
<div style="left:943px;top:422px;width:1px;height:51px;background:rgb(233,233,233);mix-blend-mode:darken"></div>
<div style="left:944px;top:422px;width:1px;height:51px;background:rgb(227,227,227);mix-blend-mode:darken"></div>
<div style="left:945px;top:422px;width:1px;height:51px;background:rgb(233,233,233);mix-blend-mode:darken"></div>
<div style="left:943px;top:473px;width:1px;height:51px;background:rgb(233,233,233);mix-blend-mode:darken"></div>
<div style="left:944px;top:473px;width:1px;height:51px;background:rgb(227,227,227);mix-blend-mode:darken"></div>
<div style="left:945px;top:473px;width:1px;height:51px;background:rgb(233,233,233);mix-blend-mode:darken"></div>
<div style="left:943px;top:524px;width:1px;height:52px;background:rgb(233,233,233);mix-blend-mode:darken"></div>
<div style="left:944px;top:524px;width:1px;height:52px;background:rgb(227,227,227);mix-blend-mode:darken"></div>
<div style="left:945px;top:524px;width:1px;height:52px;background:rgb(233,233,233);mix-blend-mode:darken"></div>
<div style="left:943px;top:576px;width:1px;height:51px;background:rgb(233,233,233);mix-blend-mode:darken"></div>
<div style="left:944px;top:576px;width:1px;height:51px;background:rgb(227,227,227);mix-blend-mode:darken"></div>
<div style="left:945px;top:576px;width:1px;height:51px;background:rgb(233,233,233);mix-blend-mode:darken"></div>
<div style="left:943px;top:627px;width:1px;height:51px;background:rgb(233,233,233);mix-blend-mode:darken"></div>
<div style="left:944px;top:627px;width:1px;height:51px;background:rgb(227,227,227);mix-blend-mode:darken"></div>
<div style="left:945px;top:627px;width:1px;height:51px;background:rgb(233,233,233);mix-blend-mode:darken"></div>
<div style="left:943px;top:678px;width:1px;height:52px;background:rgb(233,233,233);mix-blend-mode:darken"></div>
<div style="left:944px;top:678px;width:1px;height:52px;background:rgb(227,227,227);mix-blend-mode:darken"></div>
<div style="left:945px;top:678px;width:1px;height:52px;background:rgb(233,233,233);mix-blend-mode:darken"></div>
<div style="left:943px;top:730px;width:1px;height:51px;background:rgb(233,233,233);mix-blend-mode:darken"></div>
<div style="left:944px;top:730px;width:1px;height:51px;background:rgb(227,227,227);mix-blend-mode:darken"></div>
<div style="left:945px;top:730px;width:1px;height:51px;background:rgb(233,233,233);mix-blend-mode:darken"></div>
<div style="left:943px;top:781px;width:1px;height:51px;background:rgb(233,233,233);mix-blend-mode:darken"></div>
<div style="left:944px;top:781px;width:1px;height:51px;background:rgb(227,227,227);mix-blend-mode:darken"></div>
<div style="left:945px;top:781px;width:1px;height:51px;background:rgb(233,233,233);mix-blend-mode:darken"></div>
<div style="left:943px;top:832px;width:1px;height:51px;background:rgb(233,233,233);mix-blend-mode:darken"></div>
<div style="left:944px;top:832px;width:1px;height:51px;background:rgb(227,227,227);mix-blend-mode:darken"></div>
<div style="left:945px;top:832px;width:1px;height:51px;background:rgb(233,233,233);mix-blend-mode:darken"></div>
<div style="left:943px;top:883px;width:1px;height:52px;background:rgb(233,233,233);mix-blend-mode:darken"></div>
<div style="left:944px;top:883px;width:1px;height:52px;background:rgb(227,227,227);mix-blend-mode:darken"></div>
<div style="left:945px;top:883px;width:1px;height:52px;background:rgb(233,233,233);mix-blend-mode:darken"></div>
<div style="left:943px;top:935px;width:1px;height:51px;background:rgb(233,233,233);mix-blend-mode:darken"></div>
<div style="left:944px;top:935px;width:1px;height:51px;background:rgb(227,227,227);mix-blend-mode:darken"></div>
<div style="left:945px;top:935px;width:1px;height:51px;background:rgb(233,233,233);mix-blend-mode:darken"></div>
<div style="left:943px;top:986px;width:1px;height:51px;background:rgb(233,233,233);mix-blend-mode:darken"></div>
<div style="left:944px;top:986px;width:1px;height:51px;background:rgb(227,227,227);mix-blend-mode:darken"></div>
<div style="left:945px;top:986px;width:1px;height:51px;background:rgb(233,233,233);mix-blend-mode:darken"></div>
<div style="left:943px;top:1037px;width:1px;height:52px;background:rgb(233,233,233);mix-blend-mode:darken"></div>
<div style="left:944px;top:1037px;width:1px;height:52px;background:rgb(227,227,227);mix-blend-mode:darken"></div>
<div style="left:945px;top:1037px;width:1px;height:52px;background:rgb(233,233,233);mix-blend-mode:darken"></div>
<div style="left:943px;top:1089px;width:1px;height:51px;background:rgb(233,233,233);mix-blend-mode:darken"></div>
<div style="left:944px;top:1089px;width:1px;height:51px;background:rgb(227,227,227);mix-blend-mode:darken"></div>
<div style="left:945px;top:1089px;width:1px;height:51px;background:rgb(233,233,233);mix-blend-mode:darken"></div>
<div style="left:943px;top:1140px;width:1px;height:51px;background:rgb(233,233,233);mix-blend-mode:darken"></div>
<div style="left:944px;top:1140px;width:1px;height:51px;background:rgb(227,227,227);mix-blend-mode:darken"></div>
<div style="left:945px;top:1140px;width:1px;height:51px;background:rgb(233,233,233);mix-blend-mode:darken"></div>
<div style="left:943px;top:1243px;width:1px;height:51px;background:rgb(233,233,233);mix-blend-mode:darken"></div>
<div style="left:944px;top:1243px;width:1px;height:51px;background:rgb(227,227,227);mix-blend-mode:darken"></div>
<div style="left:945px;top:1243px;width:1px;height:51px;background:rgb(233,233,233);mix-blend-mode:darken"></div>
<div style="left:943px;top:1294px;width:1px;height:51px;background:rgb(233,233,233);mix-blend-mode:darken"></div>
<div style="left:944px;top:1294px;width:1px;height:51px;background:rgb(227,227,227);mix-blend-mode:darken"></div>
<div style="left:945px;top:1294px;width:1px;height:51px;background:rgb(233,233,233);mix-blend-mode:darken"></div>
<div style="left:943px;top:1345px;width:1px;height:51px;background:rgb(233,233,233);mix-blend-mode:darken"></div>
<div style="left:944px;top:1345px;width:1px;height:51px;background:rgb(227,227,227);mix-blend-mode:darken"></div>
<div style="left:945px;top:1345px;width:1px;height:51px;background:rgb(233,233,233);mix-blend-mode:darken"></div>
<div style="left:943px;top:1396px;width:1px;height:52px;background:rgb(233,233,233);mix-blend-mode:darken"></div>
<div style="left:944px;top:1396px;width:1px;height:52px;background:rgb(227,227,227);mix-blend-mode:darken"></div>
<div style="left:945px;top:1396px;width:1px;height:52px;background:rgb(233,233,233);mix-blend-mode:darken"></div>
<div style="left:943px;top:1448px;width:1px;height:51px;background:rgb(233,233,233);mix-blend-mode:darken"></div>
<div style="left:944px;top:1448px;width:1px;height:51px;background:rgb(227,227,227);mix-blend-mode:darken"></div>
<div style="left:945px;top:1448px;width:1px;height:51px;background:rgb(233,233,233);mix-blend-mode:darken"></div>
<div style="left:943px;top:1499px;width:1px;height:51px;background:rgb(233,233,233);mix-blend-mode:darken"></div>
<div style="left:944px;top:1499px;width:1px;height:51px;background:rgb(227,227,227);mix-blend-mode:darken"></div>
<div style="left:945px;top:1499px;width:1px;height:51px;background:rgb(233,233,233);mix-blend-mode:darken"></div>
<div style="left:943px;top:1550px;width:1px;height:52px;background:rgb(233,233,233);mix-blend-mode:darken"></div>
<div style="left:944px;top:1550px;width:1px;height:52px;background:rgb(227,227,227);mix-blend-mode:darken"></div>
<div style="left:945px;top:1550px;width:1px;height:52px;background:rgb(233,233,233);mix-blend-mode:darken"></div>
<div style="left:943px;top:1602px;width:1px;height:51px;background:rgb(233,233,233);mix-blend-mode:darken"></div>
<div style="left:944px;top:1602px;width:1px;height:51px;background:rgb(227,227,227);mix-blend-mode:darken"></div>
<div style="left:945px;top:1602px;width:1px;height:51px;background:rgb(233,233,233);mix-blend-mode:darken"></div>
<div style="left:943px;top:1653px;width:1px;height:51px;background:rgb(233,233,233);mix-blend-mode:darken"></div>
<div style="left:944px;top:1653px;width:1px;height:51px;background:rgb(227,227,227);mix-blend-mode:darken"></div>
<div style="left:945px;top:1653px;width:1px;height:51px;background:rgb(233,233,233);mix-blend-mode:darken"></div>
<div style="left:943px;top:1704px;width:1px;height:52px;background:rgb(233,233,233);mix-blend-mode:darken"></div>
<div style="left:944px;top:1704px;width:1px;height:52px;background:rgb(227,227,227);mix-blend-mode:darken"></div>
<div style="left:945px;top:1704px;width:1px;height:52px;background:rgb(233,233,233);mix-blend-mode:darken"></div>
<div style="left:943px;top:1756px;width:1px;height:51px;background:rgb(233,233,233);mix-blend-mode:darken"></div>
<div style="left:944px;top:1756px;width:1px;height:51px;background:rgb(227,227,227);mix-blend-mode:darken"></div>
<div style="left:945px;top:1756px;width:1px;height:51px;background:rgb(233,233,233);mix-blend-mode:darken"></div>
<div style="left:943px;top:1807px;width:1px;height:51px;background:rgb(233,233,233);mix-blend-mode:darken"></div>
<div style="left:944px;top:1807px;width:1px;height:51px;background:rgb(227,227,227);mix-blend-mode:darken"></div>
<div style="left:945px;top:1807px;width:1px;height:51px;background:rgb(233,233,233);mix-blend-mode:darken"></div>
<div style="left:943px;top:1858px;width:1px;height:51px;background:rgb(233,233,233);mix-blend-mode:darken"></div>
<div style="left:944px;top:1858px;width:1px;height:51px;background:rgb(227,227,227);mix-blend-mode:darken"></div>
<div style="left:945px;top:1858px;width:1px;height:51px;background:rgb(233,233,233);mix-blend-mode:darken"></div>
<div style="left:943px;top:1909px;width:1px;height:52px;background:rgb(233,233,233);mix-blend-mode:darken"></div>
<div style="left:944px;top:1909px;width:1px;height:52px;background:rgb(227,227,227);mix-blend-mode:darken"></div>
<div style="left:945px;top:1909px;width:1px;height:52px;background:rgb(233,233,233);mix-blend-mode:darken"></div>
<div style="left:943px;top:1961px;width:1px;height:51px;background:rgb(233,233,233);mix-blend-mode:darken"></div>
<div style="left:944px;top:1961px;width:1px;height:51px;background:rgb(227,227,227);mix-blend-mode:darken"></div>
<div style="left:945px;top:1961px;width:1px;height:51px;background:rgb(233,233,233);mix-blend-mode:darken"></div>
<div style="left:943px;top:2063px;width:1px;height:52px;background:rgb(233,233,233);mix-blend-mode:darken"></div>
<div style="left:944px;top:2063px;width:1px;height:52px;background:rgb(227,227,227);mix-blend-mode:darken"></div>
<div style="left:945px;top:2063px;width:1px;height:52px;background:rgb(233,233,233);mix-blend-mode:darken"></div>
<div style="left:943px;top:2115px;width:1px;height:51px;background:rgb(233,233,233);mix-blend-mode:darken"></div>
<div style="left:944px;top:2115px;width:1px;height:51px;background:rgb(227,227,227);mix-blend-mode:darken"></div>
<div style="left:945px;top:2115px;width:1px;height:51px;background:rgb(233,233,233);mix-blend-mode:darken"></div>
<div style="left:943px;top:2166px;width:1px;height:51px;background:rgb(233,233,233);mix-blend-mode:darken"></div>
<div style="left:944px;top:2166px;width:1px;height:51px;background:rgb(227,227,227);mix-blend-mode:darken"></div>
<div style="left:945px;top:2166px;width:1px;height:51px;background:rgb(233,233,233);mix-blend-mode:darken"></div>
<div style="left:943px;top:2217px;width:1px;height:52px;background:rgb(233,233,233);mix-blend-mode:darken"></div>
<div style="left:944px;top:2217px;width:1px;height:52px;background:rgb(227,227,227);mix-blend-mode:darken"></div>
<div style="left:945px;top:2217px;width:1px;height:52px;background:rgb(233,233,233);mix-blend-mode:darken"></div>
<div style="left:1164px;top:217px;width:1px;height:51px;background:rgb(252,252,252);mix-blend-mode:darken"></div>
<div style="left:1165px;top:217px;width:2px;height:51px;background:rgb(227,227,227);mix-blend-mode:darken"></div>
<div style="left:1167px;top:217px;width:1px;height:51px;background:rgb(241,241,241);mix-blend-mode:darken"></div>
<div style="left:1164px;top:268px;width:1px;height:51px;background:rgb(252,252,252);mix-blend-mode:darken"></div>
<div style="left:1165px;top:268px;width:2px;height:51px;background:rgb(227,227,227);mix-blend-mode:darken"></div>
<div style="left:1167px;top:268px;width:1px;height:51px;background:rgb(241,241,241);mix-blend-mode:darken"></div>
<div style="left:1164px;top:319px;width:1px;height:51px;background:rgb(252,252,252);mix-blend-mode:darken"></div>
<div style="left:1165px;top:319px;width:2px;height:51px;background:rgb(227,227,227);mix-blend-mode:darken"></div>
<div style="left:1167px;top:319px;width:1px;height:51px;background:rgb(241,241,241);mix-blend-mode:darken"></div>
<div style="left:1164px;top:370px;width:1px;height:52px;background:rgb(252,252,252);mix-blend-mode:darken"></div>
<div style="left:1165px;top:370px;width:2px;height:52px;background:rgb(227,227,227);mix-blend-mode:darken"></div>
<div style="left:1167px;top:370px;width:1px;height:52px;background:rgb(241,241,241);mix-blend-mode:darken"></div>
<div style="left:1164px;top:422px;width:1px;height:51px;background:rgb(252,252,252);mix-blend-mode:darken"></div>
<div style="left:1165px;top:422px;width:2px;height:51px;background:rgb(227,227,227);mix-blend-mode:darken"></div>
<div style="left:1167px;top:422px;width:1px;height:51px;background:rgb(241,241,241);mix-blend-mode:darken"></div>
<div style="left:1164px;top:473px;width:1px;height:51px;background:rgb(252,252,252);mix-blend-mode:darken"></div>
<div style="left:1165px;top:473px;width:2px;height:51px;background:rgb(227,227,227);mix-blend-mode:darken"></div>
<div style="left:1167px;top:473px;width:1px;height:51px;background:rgb(241,241,241);mix-blend-mode:darken"></div>
<div style="left:1164px;top:524px;width:1px;height:52px;background:rgb(252,252,252);mix-blend-mode:darken"></div>
<div style="left:1165px;top:524px;width:2px;height:52px;background:rgb(227,227,227);mix-blend-mode:darken"></div>
<div style="left:1167px;top:524px;width:1px;height:52px;background:rgb(241,241,241);mix-blend-mode:darken"></div>
<div style="left:1164px;top:576px;width:1px;height:51px;background:rgb(252,252,252);mix-blend-mode:darken"></div>
<div style="left:1165px;top:576px;width:2px;height:51px;background:rgb(227,227,227);mix-blend-mode:darken"></div>
<div style="left:1167px;top:576px;width:1px;height:51px;background:rgb(241,241,241);mix-blend-mode:darken"></div>
<div style="left:1164px;top:627px;width:1px;height:51px;background:rgb(252,252,252);mix-blend-mode:darken"></div>
<div style="left:1165px;top:627px;width:2px;height:51px;background:rgb(227,227,227);mix-blend-mode:darken"></div>
<div style="left:1167px;top:627px;width:1px;height:51px;background:rgb(241,241,241);mix-blend-mode:darken"></div>
<div style="left:1164px;top:678px;width:1px;height:52px;background:rgb(252,252,252);mix-blend-mode:darken"></div>
<div style="left:1165px;top:678px;width:2px;height:52px;background:rgb(227,227,227);mix-blend-mode:darken"></div>
<div style="left:1167px;top:678px;width:1px;height:52px;background:rgb(241,241,241);mix-blend-mode:darken"></div>
<div style="left:1164px;top:730px;width:1px;height:51px;background:rgb(252,252,252);mix-blend-mode:darken"></div>
<div style="left:1165px;top:730px;width:2px;height:51px;background:rgb(227,227,227);mix-blend-mode:darken"></div>
<div style="left:1167px;top:730px;width:1px;height:51px;background:rgb(241,241,241);mix-blend-mode:darken"></div>
<div style="left:1164px;top:781px;width:1px;height:51px;background:rgb(252,252,252);mix-blend-mode:darken"></div>
<div style="left:1165px;top:781px;width:2px;height:51px;background:rgb(227,227,227);mix-blend-mode:darken"></div>
<div style="left:1167px;top:781px;width:1px;height:51px;background:rgb(241,241,241);mix-blend-mode:darken"></div>
<div style="left:1164px;top:832px;width:1px;height:51px;background:rgb(252,252,252);mix-blend-mode:darken"></div>
<div style="left:1165px;top:832px;width:2px;height:51px;background:rgb(227,227,227);mix-blend-mode:darken"></div>
<div style="left:1167px;top:832px;width:1px;height:51px;background:rgb(241,241,241);mix-blend-mode:darken"></div>
<div style="left:1164px;top:883px;width:1px;height:52px;background:rgb(252,252,252);mix-blend-mode:darken"></div>
<div style="left:1165px;top:883px;width:2px;height:52px;background:rgb(227,227,227);mix-blend-mode:darken"></div>
<div style="left:1167px;top:883px;width:1px;height:52px;background:rgb(241,241,241);mix-blend-mode:darken"></div>
<div style="left:1164px;top:935px;width:1px;height:51px;background:rgb(252,252,252);mix-blend-mode:darken"></div>
<div style="left:1165px;top:935px;width:2px;height:51px;background:rgb(227,227,227);mix-blend-mode:darken"></div>
<div style="left:1167px;top:935px;width:1px;height:51px;background:rgb(241,241,241);mix-blend-mode:darken"></div>
<div style="left:1164px;top:986px;width:1px;height:51px;background:rgb(252,252,252);mix-blend-mode:darken"></div>
<div style="left:1165px;top:986px;width:2px;height:51px;background:rgb(227,227,227);mix-blend-mode:darken"></div>
<div style="left:1167px;top:986px;width:1px;height:51px;background:rgb(241,241,241);mix-blend-mode:darken"></div>
<div style="left:1164px;top:1037px;width:1px;height:52px;background:rgb(252,252,252);mix-blend-mode:darken"></div>
<div style="left:1165px;top:1037px;width:2px;height:52px;background:rgb(227,227,227);mix-blend-mode:darken"></div>
<div style="left:1167px;top:1037px;width:1px;height:52px;background:rgb(241,241,241);mix-blend-mode:darken"></div>
<div style="left:1164px;top:1089px;width:1px;height:51px;background:rgb(252,252,252);mix-blend-mode:darken"></div>
<div style="left:1165px;top:1089px;width:2px;height:51px;background:rgb(227,227,227);mix-blend-mode:darken"></div>
<div style="left:1167px;top:1089px;width:1px;height:51px;background:rgb(241,241,241);mix-blend-mode:darken"></div>
<div style="left:1164px;top:1140px;width:1px;height:51px;background:rgb(252,252,252);mix-blend-mode:darken"></div>
<div style="left:1165px;top:1140px;width:2px;height:51px;background:rgb(227,227,227);mix-blend-mode:darken"></div>
<div style="left:1167px;top:1140px;width:1px;height:51px;background:rgb(241,241,241);mix-blend-mode:darken"></div>
<div style="left:1164px;top:1191px;width:1px;height:52px;background:rgb(252,252,252);mix-blend-mode:darken"></div>
<div style="left:1165px;top:1191px;width:2px;height:52px;background:rgb(227,227,227);mix-blend-mode:darken"></div>
<div style="left:1167px;top:1191px;width:1px;height:52px;background:rgb(241,241,241);mix-blend-mode:darken"></div>
<div style="left:1164px;top:1243px;width:1px;height:51px;background:rgb(252,252,252);mix-blend-mode:darken"></div>
<div style="left:1165px;top:1243px;width:2px;height:51px;background:rgb(227,227,227);mix-blend-mode:darken"></div>
<div style="left:1167px;top:1243px;width:1px;height:51px;background:rgb(241,241,241);mix-blend-mode:darken"></div>
<div style="left:1164px;top:1294px;width:1px;height:51px;background:rgb(252,252,252);mix-blend-mode:darken"></div>
<div style="left:1165px;top:1294px;width:2px;height:51px;background:rgb(227,227,227);mix-blend-mode:darken"></div>
<div style="left:1167px;top:1294px;width:1px;height:51px;background:rgb(241,241,241);mix-blend-mode:darken"></div>
<div style="left:1164px;top:1345px;width:1px;height:51px;background:rgb(252,252,252);mix-blend-mode:darken"></div>
<div style="left:1165px;top:1345px;width:2px;height:51px;background:rgb(227,227,227);mix-blend-mode:darken"></div>
<div style="left:1167px;top:1345px;width:1px;height:51px;background:rgb(241,241,241);mix-blend-mode:darken"></div>
<div style="left:1164px;top:1396px;width:1px;height:52px;background:rgb(252,252,252);mix-blend-mode:darken"></div>
<div style="left:1165px;top:1396px;width:2px;height:52px;background:rgb(227,227,227);mix-blend-mode:darken"></div>
<div style="left:1167px;top:1396px;width:1px;height:52px;background:rgb(241,241,241);mix-blend-mode:darken"></div>
<div style="left:1164px;top:1448px;width:1px;height:51px;background:rgb(252,252,252);mix-blend-mode:darken"></div>
<div style="left:1165px;top:1448px;width:2px;height:51px;background:rgb(227,227,227);mix-blend-mode:darken"></div>
<div style="left:1167px;top:1448px;width:1px;height:51px;background:rgb(241,241,241);mix-blend-mode:darken"></div>
<div style="left:1164px;top:1499px;width:1px;height:51px;background:rgb(252,252,252);mix-blend-mode:darken"></div>
<div style="left:1165px;top:1499px;width:2px;height:51px;background:rgb(227,227,227);mix-blend-mode:darken"></div>
<div style="left:1167px;top:1499px;width:1px;height:51px;background:rgb(241,241,241);mix-blend-mode:darken"></div>
<div style="left:1164px;top:1550px;width:1px;height:52px;background:rgb(252,252,252);mix-blend-mode:darken"></div>
<div style="left:1165px;top:1550px;width:2px;height:52px;background:rgb(227,227,227);mix-blend-mode:darken"></div>
<div style="left:1167px;top:1550px;width:1px;height:52px;background:rgb(241,241,241);mix-blend-mode:darken"></div>
<div style="left:1164px;top:1602px;width:1px;height:51px;background:rgb(252,252,252);mix-blend-mode:darken"></div>
<div style="left:1165px;top:1602px;width:2px;height:51px;background:rgb(227,227,227);mix-blend-mode:darken"></div>
<div style="left:1167px;top:1602px;width:1px;height:51px;background:rgb(241,241,241);mix-blend-mode:darken"></div>
<div style="left:1164px;top:1653px;width:1px;height:51px;background:rgb(252,252,252);mix-blend-mode:darken"></div>
<div style="left:1165px;top:1653px;width:2px;height:51px;background:rgb(227,227,227);mix-blend-mode:darken"></div>
<div style="left:1167px;top:1653px;width:1px;height:51px;background:rgb(241,241,241);mix-blend-mode:darken"></div>
<div style="left:1164px;top:1704px;width:1px;height:52px;background:rgb(252,252,252);mix-blend-mode:darken"></div>
<div style="left:1165px;top:1704px;width:2px;height:52px;background:rgb(227,227,227);mix-blend-mode:darken"></div>
<div style="left:1167px;top:1704px;width:1px;height:52px;background:rgb(241,241,241);mix-blend-mode:darken"></div>
<div style="left:1164px;top:1756px;width:1px;height:51px;background:rgb(252,252,252);mix-blend-mode:darken"></div>
<div style="left:1165px;top:1756px;width:2px;height:51px;background:rgb(227,227,227);mix-blend-mode:darken"></div>
<div style="left:1167px;top:1756px;width:1px;height:51px;background:rgb(241,241,241);mix-blend-mode:darken"></div>
<div style="left:1164px;top:1807px;width:1px;height:51px;background:rgb(252,252,252);mix-blend-mode:darken"></div>
<div style="left:1165px;top:1807px;width:2px;height:51px;background:rgb(227,227,227);mix-blend-mode:darken"></div>
<div style="left:1167px;top:1807px;width:1px;height:51px;background:rgb(241,241,241);mix-blend-mode:darken"></div>
<div style="left:1164px;top:1858px;width:1px;height:51px;background:rgb(252,252,252);mix-blend-mode:darken"></div>
<div style="left:1165px;top:1858px;width:2px;height:51px;background:rgb(227,227,227);mix-blend-mode:darken"></div>
<div style="left:1167px;top:1858px;width:1px;height:51px;background:rgb(241,241,241);mix-blend-mode:darken"></div>
<div style="left:1164px;top:1909px;width:1px;height:52px;background:rgb(252,252,252);mix-blend-mode:darken"></div>
<div style="left:1165px;top:1909px;width:2px;height:52px;background:rgb(227,227,227);mix-blend-mode:darken"></div>
<div style="left:1167px;top:1909px;width:1px;height:52px;background:rgb(241,241,241);mix-blend-mode:darken"></div>
<div style="left:1164px;top:1961px;width:1px;height:51px;background:rgb(252,252,252);mix-blend-mode:darken"></div>
<div style="left:1165px;top:1961px;width:2px;height:51px;background:rgb(227,227,227);mix-blend-mode:darken"></div>
<div style="left:1167px;top:1961px;width:1px;height:51px;background:rgb(241,241,241);mix-blend-mode:darken"></div>
<div style="left:1164px;top:2063px;width:1px;height:52px;background:rgb(252,252,252);mix-blend-mode:darken"></div>
<div style="left:1165px;top:2063px;width:2px;height:52px;background:rgb(227,227,227);mix-blend-mode:darken"></div>
<div style="left:1167px;top:2063px;width:1px;height:52px;background:rgb(241,241,241);mix-blend-mode:darken"></div>
<div style="left:1164px;top:2115px;width:1px;height:51px;background:rgb(252,252,252);mix-blend-mode:darken"></div>
<div style="left:1165px;top:2115px;width:2px;height:51px;background:rgb(227,227,227);mix-blend-mode:darken"></div>
<div style="left:1167px;top:2115px;width:1px;height:51px;background:rgb(241,241,241);mix-blend-mode:darken"></div>
<div style="left:1164px;top:2166px;width:1px;height:51px;background:rgb(252,252,252);mix-blend-mode:darken"></div>
<div style="left:1165px;top:2166px;width:2px;height:51px;background:rgb(227,227,227);mix-blend-mode:darken"></div>
<div style="left:1167px;top:2166px;width:1px;height:51px;background:rgb(241,241,241);mix-blend-mode:darken"></div>
<div style="left:1164px;top:2217px;width:1px;height:52px;background:rgb(252,252,252);mix-blend-mode:darken"></div>
<div style="left:1165px;top:2217px;width:2px;height:52px;background:rgb(227,227,227);mix-blend-mode:darken"></div>
<div style="left:1167px;top:2217px;width:1px;height:52px;background:rgb(241,241,241);mix-blend-mode:darken"></div>
<div style="left:1389px;top:217px;width:1px;height:51px;background:rgb(249,249,249);mix-blend-mode:darken"></div>
<div style="left:1390px;top:217px;width:2px;height:51px;background:rgb(227,227,227);mix-blend-mode:darken"></div>
<div style="left:1392px;top:217px;width:1px;height:51px;background:rgb(244,244,244);mix-blend-mode:darken"></div>
<div style="left:1389px;top:268px;width:1px;height:51px;background:rgb(249,249,249);mix-blend-mode:darken"></div>
<div style="left:1390px;top:268px;width:2px;height:51px;background:rgb(227,227,227);mix-blend-mode:darken"></div>
<div style="left:1392px;top:268px;width:1px;height:51px;background:rgb(244,244,244);mix-blend-mode:darken"></div>
<div style="left:1389px;top:319px;width:1px;height:51px;background:rgb(249,249,249);mix-blend-mode:darken"></div>
<div style="left:1390px;top:319px;width:2px;height:51px;background:rgb(227,227,227);mix-blend-mode:darken"></div>
<div style="left:1392px;top:319px;width:1px;height:51px;background:rgb(244,244,244);mix-blend-mode:darken"></div>
<div style="left:1389px;top:370px;width:1px;height:52px;background:rgb(249,249,249);mix-blend-mode:darken"></div>
<div style="left:1390px;top:370px;width:2px;height:52px;background:rgb(227,227,227);mix-blend-mode:darken"></div>
<div style="left:1392px;top:370px;width:1px;height:52px;background:rgb(244,244,244);mix-blend-mode:darken"></div>
<div style="left:1389px;top:422px;width:1px;height:51px;background:rgb(249,249,249);mix-blend-mode:darken"></div>
<div style="left:1390px;top:422px;width:2px;height:51px;background:rgb(227,227,227);mix-blend-mode:darken"></div>
<div style="left:1392px;top:422px;width:1px;height:51px;background:rgb(244,244,244);mix-blend-mode:darken"></div>
<div style="left:1389px;top:473px;width:1px;height:51px;background:rgb(249,249,249);mix-blend-mode:darken"></div>
<div style="left:1390px;top:473px;width:2px;height:51px;background:rgb(227,227,227);mix-blend-mode:darken"></div>
<div style="left:1392px;top:473px;width:1px;height:51px;background:rgb(244,244,244);mix-blend-mode:darken"></div>
<div style="left:1389px;top:524px;width:1px;height:52px;background:rgb(249,249,249);mix-blend-mode:darken"></div>
<div style="left:1390px;top:524px;width:2px;height:52px;background:rgb(227,227,227);mix-blend-mode:darken"></div>
<div style="left:1392px;top:524px;width:1px;height:52px;background:rgb(244,244,244);mix-blend-mode:darken"></div>
<div style="left:1389px;top:576px;width:1px;height:51px;background:rgb(249,249,249);mix-blend-mode:darken"></div>
<div style="left:1390px;top:576px;width:2px;height:51px;background:rgb(227,227,227);mix-blend-mode:darken"></div>
<div style="left:1392px;top:576px;width:1px;height:51px;background:rgb(244,244,244);mix-blend-mode:darken"></div>
<div style="left:1389px;top:627px;width:1px;height:51px;background:rgb(249,249,249);mix-blend-mode:darken"></div>
<div style="left:1390px;top:627px;width:2px;height:51px;background:rgb(227,227,227);mix-blend-mode:darken"></div>
<div style="left:1392px;top:627px;width:1px;height:51px;background:rgb(244,244,244);mix-blend-mode:darken"></div>
<div style="left:1389px;top:678px;width:1px;height:52px;background:rgb(249,249,249);mix-blend-mode:darken"></div>
<div style="left:1390px;top:678px;width:2px;height:52px;background:rgb(227,227,227);mix-blend-mode:darken"></div>
<div style="left:1392px;top:678px;width:1px;height:52px;background:rgb(244,244,244);mix-blend-mode:darken"></div>
<div style="left:1389px;top:730px;width:1px;height:51px;background:rgb(249,249,249);mix-blend-mode:darken"></div>
<div style="left:1390px;top:730px;width:2px;height:51px;background:rgb(227,227,227);mix-blend-mode:darken"></div>
<div style="left:1392px;top:730px;width:1px;height:51px;background:rgb(244,244,244);mix-blend-mode:darken"></div>
<div style="left:1389px;top:781px;width:1px;height:51px;background:rgb(249,249,249);mix-blend-mode:darken"></div>
<div style="left:1390px;top:781px;width:2px;height:51px;background:rgb(227,227,227);mix-blend-mode:darken"></div>
<div style="left:1392px;top:781px;width:1px;height:51px;background:rgb(244,244,244);mix-blend-mode:darken"></div>
<div style="left:1389px;top:832px;width:1px;height:51px;background:rgb(249,249,249);mix-blend-mode:darken"></div>
<div style="left:1390px;top:832px;width:2px;height:51px;background:rgb(227,227,227);mix-blend-mode:darken"></div>
<div style="left:1392px;top:832px;width:1px;height:51px;background:rgb(244,244,244);mix-blend-mode:darken"></div>
<div style="left:1389px;top:883px;width:1px;height:52px;background:rgb(249,249,249);mix-blend-mode:darken"></div>
<div style="left:1390px;top:883px;width:2px;height:52px;background:rgb(227,227,227);mix-blend-mode:darken"></div>
<div style="left:1392px;top:883px;width:1px;height:52px;background:rgb(244,244,244);mix-blend-mode:darken"></div>
<div style="left:1389px;top:935px;width:1px;height:51px;background:rgb(249,249,249);mix-blend-mode:darken"></div>
<div style="left:1390px;top:935px;width:2px;height:51px;background:rgb(227,227,227);mix-blend-mode:darken"></div>
<div style="left:1392px;top:935px;width:1px;height:51px;background:rgb(244,244,244);mix-blend-mode:darken"></div>
<div style="left:1389px;top:986px;width:1px;height:51px;background:rgb(249,249,249);mix-blend-mode:darken"></div>
<div style="left:1390px;top:986px;width:2px;height:51px;background:rgb(227,227,227);mix-blend-mode:darken"></div>
<div style="left:1392px;top:986px;width:1px;height:51px;background:rgb(244,244,244);mix-blend-mode:darken"></div>
<div style="left:1389px;top:1037px;width:1px;height:52px;background:rgb(249,249,249);mix-blend-mode:darken"></div>
<div style="left:1390px;top:1037px;width:2px;height:52px;background:rgb(227,227,227);mix-blend-mode:darken"></div>
<div style="left:1392px;top:1037px;width:1px;height:52px;background:rgb(244,244,244);mix-blend-mode:darken"></div>
<div style="left:1389px;top:1089px;width:1px;height:51px;background:rgb(249,249,249);mix-blend-mode:darken"></div>
<div style="left:1390px;top:1089px;width:2px;height:51px;background:rgb(227,227,227);mix-blend-mode:darken"></div>
<div style="left:1392px;top:1089px;width:1px;height:51px;background:rgb(244,244,244);mix-blend-mode:darken"></div>
<div style="left:1389px;top:1140px;width:1px;height:51px;background:rgb(249,249,249);mix-blend-mode:darken"></div>
<div style="left:1390px;top:1140px;width:2px;height:51px;background:rgb(227,227,227);mix-blend-mode:darken"></div>
<div style="left:1392px;top:1140px;width:1px;height:51px;background:rgb(244,244,244);mix-blend-mode:darken"></div>
<div style="left:1389px;top:1191px;width:1px;height:52px;background:rgb(249,249,249);mix-blend-mode:darken"></div>
<div style="left:1390px;top:1191px;width:2px;height:52px;background:rgb(227,227,227);mix-blend-mode:darken"></div>
<div style="left:1392px;top:1191px;width:1px;height:52px;background:rgb(244,244,244);mix-blend-mode:darken"></div>
<div style="left:1389px;top:1243px;width:1px;height:51px;background:rgb(249,249,249);mix-blend-mode:darken"></div>
<div style="left:1390px;top:1243px;width:2px;height:51px;background:rgb(227,227,227);mix-blend-mode:darken"></div>
<div style="left:1392px;top:1243px;width:1px;height:51px;background:rgb(244,244,244);mix-blend-mode:darken"></div>
<div style="left:1389px;top:1294px;width:1px;height:51px;background:rgb(249,249,249);mix-blend-mode:darken"></div>
<div style="left:1390px;top:1294px;width:2px;height:51px;background:rgb(227,227,227);mix-blend-mode:darken"></div>
<div style="left:1392px;top:1294px;width:1px;height:51px;background:rgb(244,244,244);mix-blend-mode:darken"></div>
<div style="left:1389px;top:1345px;width:1px;height:51px;background:rgb(249,249,249);mix-blend-mode:darken"></div>
<div style="left:1390px;top:1345px;width:2px;height:51px;background:rgb(227,227,227);mix-blend-mode:darken"></div>
<div style="left:1392px;top:1345px;width:1px;height:51px;background:rgb(244,244,244);mix-blend-mode:darken"></div>
<div style="left:1389px;top:1396px;width:1px;height:52px;background:rgb(249,249,249);mix-blend-mode:darken"></div>
<div style="left:1390px;top:1396px;width:2px;height:52px;background:rgb(227,227,227);mix-blend-mode:darken"></div>
<div style="left:1392px;top:1396px;width:1px;height:52px;background:rgb(244,244,244);mix-blend-mode:darken"></div>
<div style="left:1389px;top:1448px;width:1px;height:51px;background:rgb(249,249,249);mix-blend-mode:darken"></div>
<div style="left:1390px;top:1448px;width:2px;height:51px;background:rgb(227,227,227);mix-blend-mode:darken"></div>
<div style="left:1392px;top:1448px;width:1px;height:51px;background:rgb(244,244,244);mix-blend-mode:darken"></div>
<div style="left:1389px;top:1499px;width:1px;height:51px;background:rgb(249,249,249);mix-blend-mode:darken"></div>
<div style="left:1390px;top:1499px;width:2px;height:51px;background:rgb(227,227,227);mix-blend-mode:darken"></div>
<div style="left:1392px;top:1499px;width:1px;height:51px;background:rgb(244,244,244);mix-blend-mode:darken"></div>
<div style="left:1389px;top:1550px;width:1px;height:52px;background:rgb(249,249,249);mix-blend-mode:darken"></div>
<div style="left:1390px;top:1550px;width:2px;height:52px;background:rgb(227,227,227);mix-blend-mode:darken"></div>
<div style="left:1392px;top:1550px;width:1px;height:52px;background:rgb(244,244,244);mix-blend-mode:darken"></div>
<div style="left:1389px;top:1602px;width:1px;height:51px;background:rgb(249,249,249);mix-blend-mode:darken"></div>
<div style="left:1390px;top:1602px;width:2px;height:51px;background:rgb(227,227,227);mix-blend-mode:darken"></div>
<div style="left:1392px;top:1602px;width:1px;height:51px;background:rgb(244,244,244);mix-blend-mode:darken"></div>
<div style="left:1389px;top:1653px;width:1px;height:51px;background:rgb(249,249,249);mix-blend-mode:darken"></div>
<div style="left:1390px;top:1653px;width:2px;height:51px;background:rgb(227,227,227);mix-blend-mode:darken"></div>
<div style="left:1392px;top:1653px;width:1px;height:51px;background:rgb(244,244,244);mix-blend-mode:darken"></div>
<div style="left:1389px;top:1704px;width:1px;height:52px;background:rgb(249,249,249);mix-blend-mode:darken"></div>
<div style="left:1390px;top:1704px;width:2px;height:52px;background:rgb(227,227,227);mix-blend-mode:darken"></div>
<div style="left:1392px;top:1704px;width:1px;height:52px;background:rgb(244,244,244);mix-blend-mode:darken"></div>
<div style="left:1389px;top:1756px;width:1px;height:51px;background:rgb(249,249,249);mix-blend-mode:darken"></div>
<div style="left:1390px;top:1756px;width:2px;height:51px;background:rgb(227,227,227);mix-blend-mode:darken"></div>
<div style="left:1392px;top:1756px;width:1px;height:51px;background:rgb(244,244,244);mix-blend-mode:darken"></div>
<div style="left:1389px;top:1807px;width:1px;height:51px;background:rgb(249,249,249);mix-blend-mode:darken"></div>
<div style="left:1390px;top:1807px;width:2px;height:51px;background:rgb(227,227,227);mix-blend-mode:darken"></div>
<div style="left:1392px;top:1807px;width:1px;height:51px;background:rgb(244,244,244);mix-blend-mode:darken"></div>
<div style="left:1389px;top:1858px;width:1px;height:51px;background:rgb(249,249,249);mix-blend-mode:darken"></div>
<div style="left:1390px;top:1858px;width:2px;height:51px;background:rgb(227,227,227);mix-blend-mode:darken"></div>
<div style="left:1392px;top:1858px;width:1px;height:51px;background:rgb(244,244,244);mix-blend-mode:darken"></div>
<div style="left:1389px;top:1909px;width:1px;height:52px;background:rgb(249,249,249);mix-blend-mode:darken"></div>
<div style="left:1390px;top:1909px;width:2px;height:52px;background:rgb(227,227,227);mix-blend-mode:darken"></div>
<div style="left:1392px;top:1909px;width:1px;height:52px;background:rgb(244,244,244);mix-blend-mode:darken"></div>
<div style="left:1389px;top:1961px;width:1px;height:51px;background:rgb(249,249,249);mix-blend-mode:darken"></div>
<div style="left:1390px;top:1961px;width:2px;height:51px;background:rgb(227,227,227);mix-blend-mode:darken"></div>
<div style="left:1392px;top:1961px;width:1px;height:51px;background:rgb(244,244,244);mix-blend-mode:darken"></div>
<div style="left:1389px;top:2063px;width:1px;height:52px;background:rgb(249,249,249);mix-blend-mode:darken"></div>
<div style="left:1390px;top:2063px;width:2px;height:52px;background:rgb(227,227,227);mix-blend-mode:darken"></div>
<div style="left:1392px;top:2063px;width:1px;height:52px;background:rgb(244,244,244);mix-blend-mode:darken"></div>
<div style="left:1389px;top:2115px;width:1px;height:51px;background:rgb(249,249,249);mix-blend-mode:darken"></div>
<div style="left:1390px;top:2115px;width:2px;height:51px;background:rgb(227,227,227);mix-blend-mode:darken"></div>
<div style="left:1392px;top:2115px;width:1px;height:51px;background:rgb(244,244,244);mix-blend-mode:darken"></div>
<div style="left:1389px;top:2166px;width:1px;height:51px;background:rgb(249,249,249);mix-blend-mode:darken"></div>
<div style="left:1390px;top:2166px;width:2px;height:51px;background:rgb(227,227,227);mix-blend-mode:darken"></div>
<div style="left:1392px;top:2166px;width:1px;height:51px;background:rgb(244,244,244);mix-blend-mode:darken"></div>
<div style="left:1389px;top:2217px;width:1px;height:52px;background:rgb(249,249,249);mix-blend-mode:darken"></div>
<div style="left:1390px;top:2217px;width:2px;height:52px;background:rgb(227,227,227);mix-blend-mode:darken"></div>
<div style="left:1392px;top:2217px;width:1px;height:52px;background:rgb(244,244,244);mix-blend-mode:darken"></div>
<div style="left:1609px;top:217px;width:1px;height:51px;background:rgb(247,247,247);mix-blend-mode:darken"></div>
<div style="left:1610px;top:217px;width:2px;height:51px;background:rgb(227,227,227);mix-blend-mode:darken"></div>
<div style="left:1612px;top:217px;width:1px;height:51px;background:rgb(247,247,247);mix-blend-mode:darken"></div>
<div style="left:1609px;top:268px;width:1px;height:51px;background:rgb(247,247,247);mix-blend-mode:darken"></div>
<div style="left:1610px;top:268px;width:2px;height:51px;background:rgb(227,227,227);mix-blend-mode:darken"></div>
<div style="left:1612px;top:268px;width:1px;height:51px;background:rgb(247,247,247);mix-blend-mode:darken"></div>
<div style="left:1609px;top:319px;width:1px;height:51px;background:rgb(247,247,247);mix-blend-mode:darken"></div>
<div style="left:1610px;top:319px;width:2px;height:51px;background:rgb(227,227,227);mix-blend-mode:darken"></div>
<div style="left:1612px;top:319px;width:1px;height:51px;background:rgb(247,247,247);mix-blend-mode:darken"></div>
<div style="left:1609px;top:370px;width:1px;height:52px;background:rgb(247,247,247);mix-blend-mode:darken"></div>
<div style="left:1610px;top:370px;width:2px;height:52px;background:rgb(227,227,227);mix-blend-mode:darken"></div>
<div style="left:1612px;top:370px;width:1px;height:52px;background:rgb(247,247,247);mix-blend-mode:darken"></div>
<div style="left:1609px;top:422px;width:1px;height:51px;background:rgb(247,247,247);mix-blend-mode:darken"></div>
<div style="left:1610px;top:422px;width:2px;height:51px;background:rgb(227,227,227);mix-blend-mode:darken"></div>
<div style="left:1612px;top:422px;width:1px;height:51px;background:rgb(247,247,247);mix-blend-mode:darken"></div>
<div style="left:1609px;top:473px;width:1px;height:51px;background:rgb(247,247,247);mix-blend-mode:darken"></div>
<div style="left:1610px;top:473px;width:2px;height:51px;background:rgb(227,227,227);mix-blend-mode:darken"></div>
<div style="left:1612px;top:473px;width:1px;height:51px;background:rgb(247,247,247);mix-blend-mode:darken"></div>
<div style="left:1609px;top:524px;width:1px;height:52px;background:rgb(247,247,247);mix-blend-mode:darken"></div>
<div style="left:1610px;top:524px;width:2px;height:52px;background:rgb(227,227,227);mix-blend-mode:darken"></div>
<div style="left:1612px;top:524px;width:1px;height:52px;background:rgb(247,247,247);mix-blend-mode:darken"></div>
<div style="left:1609px;top:576px;width:1px;height:51px;background:rgb(247,247,247);mix-blend-mode:darken"></div>
<div style="left:1610px;top:576px;width:2px;height:51px;background:rgb(227,227,227);mix-blend-mode:darken"></div>
<div style="left:1612px;top:576px;width:1px;height:51px;background:rgb(247,247,247);mix-blend-mode:darken"></div>
<div style="left:1609px;top:627px;width:1px;height:51px;background:rgb(247,247,247);mix-blend-mode:darken"></div>
<div style="left:1610px;top:627px;width:2px;height:51px;background:rgb(227,227,227);mix-blend-mode:darken"></div>
<div style="left:1612px;top:627px;width:1px;height:51px;background:rgb(247,247,247);mix-blend-mode:darken"></div>
<div style="left:1609px;top:678px;width:1px;height:52px;background:rgb(247,247,247);mix-blend-mode:darken"></div>
<div style="left:1610px;top:678px;width:2px;height:52px;background:rgb(227,227,227);mix-blend-mode:darken"></div>
<div style="left:1612px;top:678px;width:1px;height:52px;background:rgb(247,247,247);mix-blend-mode:darken"></div>
<div style="left:1609px;top:730px;width:1px;height:51px;background:rgb(247,247,247);mix-blend-mode:darken"></div>
<div style="left:1610px;top:730px;width:2px;height:51px;background:rgb(227,227,227);mix-blend-mode:darken"></div>
<div style="left:1612px;top:730px;width:1px;height:51px;background:rgb(247,247,247);mix-blend-mode:darken"></div>
<div style="left:1609px;top:781px;width:1px;height:51px;background:rgb(247,247,247);mix-blend-mode:darken"></div>
<div style="left:1610px;top:781px;width:2px;height:51px;background:rgb(227,227,227);mix-blend-mode:darken"></div>
<div style="left:1612px;top:781px;width:1px;height:51px;background:rgb(247,247,247);mix-blend-mode:darken"></div>
<div style="left:1609px;top:832px;width:1px;height:51px;background:rgb(247,247,247);mix-blend-mode:darken"></div>
<div style="left:1610px;top:832px;width:2px;height:51px;background:rgb(227,227,227);mix-blend-mode:darken"></div>
<div style="left:1612px;top:832px;width:1px;height:51px;background:rgb(247,247,247);mix-blend-mode:darken"></div>
<div style="left:1609px;top:883px;width:1px;height:52px;background:rgb(247,247,247);mix-blend-mode:darken"></div>
<div style="left:1610px;top:883px;width:2px;height:52px;background:rgb(227,227,227);mix-blend-mode:darken"></div>
<div style="left:1612px;top:883px;width:1px;height:52px;background:rgb(247,247,247);mix-blend-mode:darken"></div>
<div style="left:1609px;top:935px;width:1px;height:51px;background:rgb(247,247,247);mix-blend-mode:darken"></div>
<div style="left:1610px;top:935px;width:2px;height:51px;background:rgb(227,227,227);mix-blend-mode:darken"></div>
<div style="left:1612px;top:935px;width:1px;height:51px;background:rgb(247,247,247);mix-blend-mode:darken"></div>
<div style="left:1609px;top:986px;width:1px;height:51px;background:rgb(247,247,247);mix-blend-mode:darken"></div>
<div style="left:1610px;top:986px;width:2px;height:51px;background:rgb(227,227,227);mix-blend-mode:darken"></div>
<div style="left:1612px;top:986px;width:1px;height:51px;background:rgb(247,247,247);mix-blend-mode:darken"></div>
<div style="left:1609px;top:1037px;width:1px;height:52px;background:rgb(247,247,247);mix-blend-mode:darken"></div>
<div style="left:1610px;top:1037px;width:2px;height:52px;background:rgb(227,227,227);mix-blend-mode:darken"></div>
<div style="left:1612px;top:1037px;width:1px;height:52px;background:rgb(247,247,247);mix-blend-mode:darken"></div>
<div style="left:1609px;top:1089px;width:1px;height:51px;background:rgb(247,247,247);mix-blend-mode:darken"></div>
<div style="left:1610px;top:1089px;width:2px;height:51px;background:rgb(227,227,227);mix-blend-mode:darken"></div>
<div style="left:1612px;top:1089px;width:1px;height:51px;background:rgb(247,247,247);mix-blend-mode:darken"></div>
<div style="left:1609px;top:1140px;width:1px;height:51px;background:rgb(247,247,247);mix-blend-mode:darken"></div>
<div style="left:1610px;top:1140px;width:2px;height:51px;background:rgb(227,227,227);mix-blend-mode:darken"></div>
<div style="left:1612px;top:1140px;width:1px;height:51px;background:rgb(247,247,247);mix-blend-mode:darken"></div>
<div style="left:1609px;top:1191px;width:1px;height:52px;background:rgb(247,247,247);mix-blend-mode:darken"></div>
<div style="left:1610px;top:1191px;width:2px;height:52px;background:rgb(227,227,227);mix-blend-mode:darken"></div>
<div style="left:1612px;top:1191px;width:1px;height:52px;background:rgb(247,247,247);mix-blend-mode:darken"></div>
<div style="left:1609px;top:1243px;width:1px;height:51px;background:rgb(247,247,247);mix-blend-mode:darken"></div>
<div style="left:1610px;top:1243px;width:2px;height:51px;background:rgb(227,227,227);mix-blend-mode:darken"></div>
<div style="left:1612px;top:1243px;width:1px;height:51px;background:rgb(247,247,247);mix-blend-mode:darken"></div>
<div style="left:1609px;top:1294px;width:1px;height:51px;background:rgb(247,247,247);mix-blend-mode:darken"></div>
<div style="left:1610px;top:1294px;width:2px;height:51px;background:rgb(227,227,227);mix-blend-mode:darken"></div>
<div style="left:1612px;top:1294px;width:1px;height:51px;background:rgb(247,247,247);mix-blend-mode:darken"></div>
<div style="left:1609px;top:1345px;width:1px;height:51px;background:rgb(247,247,247);mix-blend-mode:darken"></div>
<div style="left:1610px;top:1345px;width:2px;height:51px;background:rgb(227,227,227);mix-blend-mode:darken"></div>
<div style="left:1612px;top:1345px;width:1px;height:51px;background:rgb(247,247,247);mix-blend-mode:darken"></div>
<div style="left:1609px;top:1396px;width:1px;height:52px;background:rgb(247,247,247);mix-blend-mode:darken"></div>
<div style="left:1610px;top:1396px;width:2px;height:52px;background:rgb(227,227,227);mix-blend-mode:darken"></div>
<div style="left:1612px;top:1396px;width:1px;height:52px;background:rgb(247,247,247);mix-blend-mode:darken"></div>
<div style="left:1609px;top:1448px;width:1px;height:51px;background:rgb(247,247,247);mix-blend-mode:darken"></div>
<div style="left:1610px;top:1448px;width:2px;height:51px;background:rgb(227,227,227);mix-blend-mode:darken"></div>
<div style="left:1612px;top:1448px;width:1px;height:51px;background:rgb(247,247,247);mix-blend-mode:darken"></div>
<div style="left:1609px;top:1499px;width:1px;height:51px;background:rgb(247,247,247);mix-blend-mode:darken"></div>
<div style="left:1610px;top:1499px;width:2px;height:51px;background:rgb(227,227,227);mix-blend-mode:darken"></div>
<div style="left:1612px;top:1499px;width:1px;height:51px;background:rgb(247,247,247);mix-blend-mode:darken"></div>
<div style="left:1609px;top:1550px;width:1px;height:52px;background:rgb(247,247,247);mix-blend-mode:darken"></div>
<div style="left:1610px;top:1550px;width:2px;height:52px;background:rgb(227,227,227);mix-blend-mode:darken"></div>
<div style="left:1612px;top:1550px;width:1px;height:52px;background:rgb(247,247,247);mix-blend-mode:darken"></div>
<div style="left:1609px;top:1602px;width:1px;height:51px;background:rgb(247,247,247);mix-blend-mode:darken"></div>
<div style="left:1610px;top:1602px;width:2px;height:51px;background:rgb(227,227,227);mix-blend-mode:darken"></div>
<div style="left:1612px;top:1602px;width:1px;height:51px;background:rgb(247,247,247);mix-blend-mode:darken"></div>
<div style="left:1609px;top:1653px;width:1px;height:51px;background:rgb(247,247,247);mix-blend-mode:darken"></div>
<div style="left:1610px;top:1653px;width:2px;height:51px;background:rgb(227,227,227);mix-blend-mode:darken"></div>
<div style="left:1612px;top:1653px;width:1px;height:51px;background:rgb(247,247,247);mix-blend-mode:darken"></div>
<div style="left:1609px;top:1704px;width:1px;height:52px;background:rgb(247,247,247);mix-blend-mode:darken"></div>
<div style="left:1610px;top:1704px;width:2px;height:52px;background:rgb(227,227,227);mix-blend-mode:darken"></div>
<div style="left:1612px;top:1704px;width:1px;height:52px;background:rgb(247,247,247);mix-blend-mode:darken"></div>
<div style="left:1609px;top:1756px;width:1px;height:51px;background:rgb(247,247,247);mix-blend-mode:darken"></div>
<div style="left:1610px;top:1756px;width:2px;height:51px;background:rgb(227,227,227);mix-blend-mode:darken"></div>
<div style="left:1612px;top:1756px;width:1px;height:51px;background:rgb(247,247,247);mix-blend-mode:darken"></div>
<div style="left:1609px;top:1807px;width:1px;height:51px;background:rgb(247,247,247);mix-blend-mode:darken"></div>
<div style="left:1610px;top:1807px;width:2px;height:51px;background:rgb(227,227,227);mix-blend-mode:darken"></div>
<div style="left:1612px;top:1807px;width:1px;height:51px;background:rgb(247,247,247);mix-blend-mode:darken"></div>
<div style="left:1609px;top:1858px;width:1px;height:51px;background:rgb(247,247,247);mix-blend-mode:darken"></div>
<div style="left:1610px;top:1858px;width:2px;height:51px;background:rgb(227,227,227);mix-blend-mode:darken"></div>
<div style="left:1612px;top:1858px;width:1px;height:51px;background:rgb(247,247,247);mix-blend-mode:darken"></div>
<div style="left:1609px;top:1909px;width:1px;height:52px;background:rgb(247,247,247);mix-blend-mode:darken"></div>
<div style="left:1610px;top:1909px;width:2px;height:52px;background:rgb(227,227,227);mix-blend-mode:darken"></div>
<div style="left:1612px;top:1909px;width:1px;height:52px;background:rgb(247,247,247);mix-blend-mode:darken"></div>
<div style="left:1609px;top:1961px;width:1px;height:51px;background:rgb(247,247,247);mix-blend-mode:darken"></div>
<div style="left:1610px;top:1961px;width:2px;height:51px;background:rgb(227,227,227);mix-blend-mode:darken"></div>
<div style="left:1612px;top:1961px;width:1px;height:51px;background:rgb(247,247,247);mix-blend-mode:darken"></div>
<div style="left:1609px;top:2012px;width:1px;height:51px;background:rgb(247,247,247);mix-blend-mode:darken"></div>
<div style="left:1610px;top:2012px;width:2px;height:51px;background:rgb(227,227,227);mix-blend-mode:darken"></div>
<div style="left:1612px;top:2012px;width:1px;height:51px;background:rgb(247,247,247);mix-blend-mode:darken"></div>
<div style="left:1609px;top:2063px;width:1px;height:52px;background:rgb(247,247,247);mix-blend-mode:darken"></div>
<div style="left:1610px;top:2063px;width:2px;height:52px;background:rgb(227,227,227);mix-blend-mode:darken"></div>
<div style="left:1612px;top:2063px;width:1px;height:52px;background:rgb(247,247,247);mix-blend-mode:darken"></div>
<div style="left:1609px;top:2115px;width:1px;height:51px;background:rgb(247,247,247);mix-blend-mode:darken"></div>
<div style="left:1610px;top:2115px;width:2px;height:51px;background:rgb(227,227,227);mix-blend-mode:darken"></div>
<div style="left:1612px;top:2115px;width:1px;height:51px;background:rgb(247,247,247);mix-blend-mode:darken"></div>
<div style="left:1609px;top:2166px;width:1px;height:51px;background:rgb(247,247,247);mix-blend-mode:darken"></div>
<div style="left:1610px;top:2166px;width:2px;height:51px;background:rgb(227,227,227);mix-blend-mode:darken"></div>
<div style="left:1612px;top:2166px;width:1px;height:51px;background:rgb(247,247,247);mix-blend-mode:darken"></div>
<div style="left:1609px;top:2217px;width:1px;height:52px;background:rgb(247,247,247);mix-blend-mode:darken"></div>
<div style="left:1610px;top:2217px;width:2px;height:52px;background:rgb(227,227,227);mix-blend-mode:darken"></div>
<div style="left:1612px;top:2217px;width:1px;height:52px;background:rgb(247,247,247);mix-blend-mode:darken"></div>
<div style="left:1838px;top:217px;width:1px;height:51px;background:rgb(247,247,247);mix-blend-mode:darken"></div>
<div style="left:1839px;top:217px;width:2px;height:51px;background:rgb(227,227,227);mix-blend-mode:darken"></div>
<div style="left:1841px;top:217px;width:1px;height:51px;background:rgb(247,247,247);mix-blend-mode:darken"></div>
<div style="left:1838px;top:268px;width:1px;height:51px;background:rgb(247,247,247);mix-blend-mode:darken"></div>
<div style="left:1839px;top:268px;width:2px;height:51px;background:rgb(227,227,227);mix-blend-mode:darken"></div>
<div style="left:1841px;top:268px;width:1px;height:51px;background:rgb(247,247,247);mix-blend-mode:darken"></div>
<div style="left:1838px;top:319px;width:1px;height:51px;background:rgb(247,247,247);mix-blend-mode:darken"></div>
<div style="left:1839px;top:319px;width:2px;height:51px;background:rgb(227,227,227);mix-blend-mode:darken"></div>
<div style="left:1841px;top:319px;width:1px;height:51px;background:rgb(247,247,247);mix-blend-mode:darken"></div>
<div style="left:1838px;top:370px;width:1px;height:52px;background:rgb(247,247,247);mix-blend-mode:darken"></div>
<div style="left:1839px;top:370px;width:2px;height:52px;background:rgb(227,227,227);mix-blend-mode:darken"></div>
<div style="left:1841px;top:370px;width:1px;height:52px;background:rgb(247,247,247);mix-blend-mode:darken"></div>
<div style="left:1838px;top:422px;width:1px;height:51px;background:rgb(247,247,247);mix-blend-mode:darken"></div>
<div style="left:1839px;top:422px;width:2px;height:51px;background:rgb(227,227,227);mix-blend-mode:darken"></div>
<div style="left:1841px;top:422px;width:1px;height:51px;background:rgb(247,247,247);mix-blend-mode:darken"></div>
<div style="left:1838px;top:473px;width:1px;height:51px;background:rgb(247,247,247);mix-blend-mode:darken"></div>
<div style="left:1839px;top:473px;width:2px;height:51px;background:rgb(227,227,227);mix-blend-mode:darken"></div>
<div style="left:1841px;top:473px;width:1px;height:51px;background:rgb(247,247,247);mix-blend-mode:darken"></div>
<div style="left:1838px;top:524px;width:1px;height:52px;background:rgb(247,247,247);mix-blend-mode:darken"></div>
<div style="left:1839px;top:524px;width:2px;height:52px;background:rgb(227,227,227);mix-blend-mode:darken"></div>
<div style="left:1841px;top:524px;width:1px;height:52px;background:rgb(247,247,247);mix-blend-mode:darken"></div>
<div style="left:1838px;top:576px;width:1px;height:51px;background:rgb(247,247,247);mix-blend-mode:darken"></div>
<div style="left:1839px;top:576px;width:2px;height:51px;background:rgb(227,227,227);mix-blend-mode:darken"></div>
<div style="left:1841px;top:576px;width:1px;height:51px;background:rgb(247,247,247);mix-blend-mode:darken"></div>
<div style="left:1838px;top:627px;width:1px;height:51px;background:rgb(247,247,247);mix-blend-mode:darken"></div>
<div style="left:1839px;top:627px;width:2px;height:51px;background:rgb(227,227,227);mix-blend-mode:darken"></div>
<div style="left:1841px;top:627px;width:1px;height:51px;background:rgb(247,247,247);mix-blend-mode:darken"></div>
<div style="left:1838px;top:678px;width:1px;height:52px;background:rgb(247,247,247);mix-blend-mode:darken"></div>
<div style="left:1839px;top:678px;width:2px;height:52px;background:rgb(227,227,227);mix-blend-mode:darken"></div>
<div style="left:1841px;top:678px;width:1px;height:52px;background:rgb(247,247,247);mix-blend-mode:darken"></div>
<div style="left:1838px;top:730px;width:1px;height:51px;background:rgb(247,247,247);mix-blend-mode:darken"></div>
<div style="left:1839px;top:730px;width:2px;height:51px;background:rgb(227,227,227);mix-blend-mode:darken"></div>
<div style="left:1841px;top:730px;width:1px;height:51px;background:rgb(247,247,247);mix-blend-mode:darken"></div>
<div style="left:1838px;top:781px;width:1px;height:51px;background:rgb(247,247,247);mix-blend-mode:darken"></div>
<div style="left:1839px;top:781px;width:2px;height:51px;background:rgb(227,227,227);mix-blend-mode:darken"></div>
<div style="left:1841px;top:781px;width:1px;height:51px;background:rgb(247,247,247);mix-blend-mode:darken"></div>
<div style="left:1838px;top:832px;width:1px;height:51px;background:rgb(247,247,247);mix-blend-mode:darken"></div>
<div style="left:1839px;top:832px;width:2px;height:51px;background:rgb(227,227,227);mix-blend-mode:darken"></div>
<div style="left:1841px;top:832px;width:1px;height:51px;background:rgb(247,247,247);mix-blend-mode:darken"></div>
<div style="left:1838px;top:883px;width:1px;height:52px;background:rgb(247,247,247);mix-blend-mode:darken"></div>
<div style="left:1839px;top:883px;width:2px;height:52px;background:rgb(227,227,227);mix-blend-mode:darken"></div>
<div style="left:1841px;top:883px;width:1px;height:52px;background:rgb(247,247,247);mix-blend-mode:darken"></div>
<div style="left:1838px;top:935px;width:1px;height:51px;background:rgb(247,247,247);mix-blend-mode:darken"></div>
<div style="left:1839px;top:935px;width:2px;height:51px;background:rgb(227,227,227);mix-blend-mode:darken"></div>
<div style="left:1841px;top:935px;width:1px;height:51px;background:rgb(247,247,247);mix-blend-mode:darken"></div>
<div style="left:1838px;top:986px;width:1px;height:51px;background:rgb(247,247,247);mix-blend-mode:darken"></div>
<div style="left:1839px;top:986px;width:2px;height:51px;background:rgb(227,227,227);mix-blend-mode:darken"></div>
<div style="left:1841px;top:986px;width:1px;height:51px;background:rgb(247,247,247);mix-blend-mode:darken"></div>
<div style="left:1838px;top:1037px;width:1px;height:52px;background:rgb(247,247,247);mix-blend-mode:darken"></div>
<div style="left:1839px;top:1037px;width:2px;height:52px;background:rgb(227,227,227);mix-blend-mode:darken"></div>
<div style="left:1841px;top:1037px;width:1px;height:52px;background:rgb(247,247,247);mix-blend-mode:darken"></div>
<div style="left:1838px;top:1089px;width:1px;height:51px;background:rgb(247,247,247);mix-blend-mode:darken"></div>
<div style="left:1839px;top:1089px;width:2px;height:51px;background:rgb(227,227,227);mix-blend-mode:darken"></div>
<div style="left:1841px;top:1089px;width:1px;height:51px;background:rgb(247,247,247);mix-blend-mode:darken"></div>
<div style="left:1838px;top:1140px;width:1px;height:51px;background:rgb(247,247,247);mix-blend-mode:darken"></div>
<div style="left:1839px;top:1140px;width:2px;height:51px;background:rgb(227,227,227);mix-blend-mode:darken"></div>
<div style="left:1841px;top:1140px;width:1px;height:51px;background:rgb(247,247,247);mix-blend-mode:darken"></div>
<div style="left:1838px;top:1191px;width:1px;height:52px;background:rgb(247,247,247);mix-blend-mode:darken"></div>
<div style="left:1839px;top:1191px;width:2px;height:52px;background:rgb(227,227,227);mix-blend-mode:darken"></div>
<div style="left:1841px;top:1191px;width:1px;height:52px;background:rgb(247,247,247);mix-blend-mode:darken"></div>
<div style="left:1838px;top:1243px;width:1px;height:51px;background:rgb(247,247,247);mix-blend-mode:darken"></div>
<div style="left:1839px;top:1243px;width:2px;height:51px;background:rgb(227,227,227);mix-blend-mode:darken"></div>
<div style="left:1841px;top:1243px;width:1px;height:51px;background:rgb(247,247,247);mix-blend-mode:darken"></div>
<div style="left:1838px;top:1294px;width:1px;height:51px;background:rgb(247,247,247);mix-blend-mode:darken"></div>
<div style="left:1839px;top:1294px;width:2px;height:51px;background:rgb(227,227,227);mix-blend-mode:darken"></div>
<div style="left:1841px;top:1294px;width:1px;height:51px;background:rgb(247,247,247);mix-blend-mode:darken"></div>
<div style="left:1838px;top:1345px;width:1px;height:51px;background:rgb(247,247,247);mix-blend-mode:darken"></div>
<div style="left:1839px;top:1345px;width:2px;height:51px;background:rgb(227,227,227);mix-blend-mode:darken"></div>
<div style="left:1841px;top:1345px;width:1px;height:51px;background:rgb(247,247,247);mix-blend-mode:darken"></div>
<div style="left:1838px;top:1396px;width:1px;height:52px;background:rgb(247,247,247);mix-blend-mode:darken"></div>
<div style="left:1839px;top:1396px;width:2px;height:52px;background:rgb(227,227,227);mix-blend-mode:darken"></div>
<div style="left:1841px;top:1396px;width:1px;height:52px;background:rgb(247,247,247);mix-blend-mode:darken"></div>
<div style="left:1838px;top:1448px;width:1px;height:51px;background:rgb(247,247,247);mix-blend-mode:darken"></div>
<div style="left:1839px;top:1448px;width:2px;height:51px;background:rgb(227,227,227);mix-blend-mode:darken"></div>
<div style="left:1841px;top:1448px;width:1px;height:51px;background:rgb(247,247,247);mix-blend-mode:darken"></div>
<div style="left:1838px;top:1499px;width:1px;height:51px;background:rgb(247,247,247);mix-blend-mode:darken"></div>
<div style="left:1839px;top:1499px;width:2px;height:51px;background:rgb(227,227,227);mix-blend-mode:darken"></div>
<div style="left:1841px;top:1499px;width:1px;height:51px;background:rgb(247,247,247);mix-blend-mode:darken"></div>
<div style="left:1838px;top:1550px;width:1px;height:52px;background:rgb(247,247,247);mix-blend-mode:darken"></div>
<div style="left:1839px;top:1550px;width:2px;height:52px;background:rgb(227,227,227);mix-blend-mode:darken"></div>
<div style="left:1841px;top:1550px;width:1px;height:52px;background:rgb(247,247,247);mix-blend-mode:darken"></div>
<div style="left:1838px;top:1602px;width:1px;height:51px;background:rgb(247,247,247);mix-blend-mode:darken"></div>
<div style="left:1839px;top:1602px;width:2px;height:51px;background:rgb(227,227,227);mix-blend-mode:darken"></div>
<div style="left:1841px;top:1602px;width:1px;height:51px;background:rgb(247,247,247);mix-blend-mode:darken"></div>
<div style="left:1838px;top:1653px;width:1px;height:51px;background:rgb(247,247,247);mix-blend-mode:darken"></div>
<div style="left:1839px;top:1653px;width:2px;height:51px;background:rgb(227,227,227);mix-blend-mode:darken"></div>
<div style="left:1841px;top:1653px;width:1px;height:51px;background:rgb(247,247,247);mix-blend-mode:darken"></div>
<div style="left:1838px;top:1704px;width:1px;height:52px;background:rgb(247,247,247);mix-blend-mode:darken"></div>
<div style="left:1839px;top:1704px;width:2px;height:52px;background:rgb(227,227,227);mix-blend-mode:darken"></div>
<div style="left:1841px;top:1704px;width:1px;height:52px;background:rgb(247,247,247);mix-blend-mode:darken"></div>
<div style="left:1838px;top:1756px;width:1px;height:51px;background:rgb(247,247,247);mix-blend-mode:darken"></div>
<div style="left:1839px;top:1756px;width:2px;height:51px;background:rgb(227,227,227);mix-blend-mode:darken"></div>
<div style="left:1841px;top:1756px;width:1px;height:51px;background:rgb(247,247,247);mix-blend-mode:darken"></div>
<div style="left:1838px;top:1807px;width:1px;height:51px;background:rgb(247,247,247);mix-blend-mode:darken"></div>
<div style="left:1839px;top:1807px;width:2px;height:51px;background:rgb(227,227,227);mix-blend-mode:darken"></div>
<div style="left:1841px;top:1807px;width:1px;height:51px;background:rgb(247,247,247);mix-blend-mode:darken"></div>
<div style="left:1838px;top:1858px;width:1px;height:51px;background:rgb(247,247,247);mix-blend-mode:darken"></div>
<div style="left:1839px;top:1858px;width:2px;height:51px;background:rgb(227,227,227);mix-blend-mode:darken"></div>
<div style="left:1841px;top:1858px;width:1px;height:51px;background:rgb(247,247,247);mix-blend-mode:darken"></div>
<div style="left:1838px;top:1909px;width:1px;height:52px;background:rgb(247,247,247);mix-blend-mode:darken"></div>
<div style="left:1839px;top:1909px;width:2px;height:52px;background:rgb(227,227,227);mix-blend-mode:darken"></div>
<div style="left:1841px;top:1909px;width:1px;height:52px;background:rgb(247,247,247);mix-blend-mode:darken"></div>
<div style="left:1838px;top:1961px;width:1px;height:51px;background:rgb(247,247,247);mix-blend-mode:darken"></div>
<div style="left:1839px;top:1961px;width:2px;height:51px;background:rgb(227,227,227);mix-blend-mode:darken"></div>
<div style="left:1841px;top:1961px;width:1px;height:51px;background:rgb(247,247,247);mix-blend-mode:darken"></div>
<div style="left:1838px;top:2012px;width:1px;height:51px;background:rgb(247,247,247);mix-blend-mode:darken"></div>
<div style="left:1839px;top:2012px;width:2px;height:51px;background:rgb(227,227,227);mix-blend-mode:darken"></div>
<div style="left:1841px;top:2012px;width:1px;height:51px;background:rgb(247,247,247);mix-blend-mode:darken"></div>
<div style="left:1838px;top:2063px;width:1px;height:52px;background:rgb(247,247,247);mix-blend-mode:darken"></div>
<div style="left:1839px;top:2063px;width:2px;height:52px;background:rgb(227,227,227);mix-blend-mode:darken"></div>
<div style="left:1841px;top:2063px;width:1px;height:52px;background:rgb(247,247,247);mix-blend-mode:darken"></div>
<div style="left:1838px;top:2115px;width:1px;height:51px;background:rgb(247,247,247);mix-blend-mode:darken"></div>
<div style="left:1839px;top:2115px;width:2px;height:51px;background:rgb(227,227,227);mix-blend-mode:darken"></div>
<div style="left:1841px;top:2115px;width:1px;height:51px;background:rgb(247,247,247);mix-blend-mode:darken"></div>
<div style="left:1838px;top:2166px;width:1px;height:51px;background:rgb(247,247,247);mix-blend-mode:darken"></div>
<div style="left:1839px;top:2166px;width:2px;height:51px;background:rgb(227,227,227);mix-blend-mode:darken"></div>
<div style="left:1841px;top:2166px;width:1px;height:51px;background:rgb(247,247,247);mix-blend-mode:darken"></div>
<div style="left:1838px;top:2217px;width:1px;height:52px;background:rgb(247,247,247);mix-blend-mode:darken"></div>
<div style="left:1839px;top:2217px;width:2px;height:52px;background:rgb(227,227,227);mix-blend-mode:darken"></div>
<div style="left:1841px;top:2217px;width:1px;height:52px;background:rgb(247,247,247);mix-blend-mode:darken"></div>
<div style="left:9px;top:317px;width:4110px;height:1px;background:rgba(0,0,0,0.250)"></div>
<div style="left:9px;top:318px;width:4110px;height:2px;background:rgba(0,0,0,1.000)"></div>
<div style="left:9px;top:320px;width:4110px;height:1px;background:rgba(0,0,0,0.450)"></div>
<div style="left:9px;top:420px;width:4110px;height:1px;background:rgba(0,0,0,0.650)"></div>
<div style="left:9px;top:421px;width:4110px;height:2px;background:rgba(0,0,0,1.000)"></div>
<div style="left:9px;top:423px;width:4110px;height:1px;background:rgba(0,0,0,0.050)"></div>
<div style="left:9px;top:522px;width:4110px;height:1px;background:rgba(0,0,0,0.050)"></div>
<div style="left:9px;top:523px;width:4110px;height:2px;background:rgba(0,0,0,1.000)"></div>
<div style="left:9px;top:525px;width:4110px;height:1px;background:rgba(0,0,0,0.650)"></div>
<div style="left:9px;top:625px;width:4110px;height:1px;background:rgba(0,0,0,0.450)"></div>
<div style="left:9px;top:626px;width:4110px;height:2px;background:rgba(0,0,0,1.000)"></div>
<div style="left:9px;top:628px;width:4110px;height:1px;background:rgba(0,0,0,0.250)"></div>
<div style="left:9px;top:728px;width:4110px;height:1px;background:rgba(0,0,0,0.850)"></div>
<div style="left:9px;top:729px;width:4110px;height:1px;background:rgba(0,0,0,1.000)"></div>
<div style="left:9px;top:730px;width:4110px;height:1px;background:rgba(0,0,0,0.850)"></div>
<div style="left:9px;top:830px;width:4110px;height:1px;background:rgba(0,0,0,0.250)"></div>
<div style="left:9px;top:831px;width:4110px;height:2px;background:rgba(0,0,0,1.000)"></div>
<div style="left:9px;top:833px;width:4110px;height:1px;background:rgba(0,0,0,0.450)"></div>
<div style="left:9px;top:933px;width:4110px;height:1px;background:rgba(0,0,0,0.650)"></div>
<div style="left:9px;top:934px;width:4110px;height:2px;background:rgba(0,0,0,1.000)"></div>
<div style="left:9px;top:936px;width:4110px;height:1px;background:rgba(0,0,0,0.050)"></div>
<div style="left:9px;top:1035px;width:4110px;height:1px;background:rgba(0,0,0,0.050)"></div>
<div style="left:9px;top:1036px;width:4110px;height:2px;background:rgba(0,0,0,1.000)"></div>
<div style="left:9px;top:1038px;width:4110px;height:1px;background:rgba(0,0,0,0.650)"></div>
<div style="left:9px;top:1138px;width:4110px;height:1px;background:rgba(0,0,0,0.450)"></div>
<div style="left:9px;top:1139px;width:4110px;height:2px;background:rgba(0,0,0,1.000)"></div>
<div style="left:9px;top:1141px;width:4110px;height:1px;background:rgba(0,0,0,0.250)"></div>
<div style="left:9px;top:1241px;width:4110px;height:1px;background:rgba(0,0,0,0.850)"></div>
<div style="left:9px;top:1242px;width:4110px;height:1px;background:rgba(0,0,0,1.000)"></div>
<div style="left:9px;top:1243px;width:4110px;height:1px;background:rgba(0,0,0,0.850)"></div>
<div style="left:9px;top:1343px;width:4110px;height:1px;background:rgba(0,0,0,0.250)"></div>
<div style="left:9px;top:1344px;width:4110px;height:2px;background:rgba(0,0,0,1.000)"></div>
<div style="left:9px;top:1346px;width:4110px;height:1px;background:rgba(0,0,0,0.450)"></div>
<div style="left:9px;top:1446px;width:4110px;height:1px;background:rgba(0,0,0,0.650)"></div>
<div style="left:9px;top:1447px;width:4110px;height:2px;background:rgba(0,0,0,1.000)"></div>
<div style="left:9px;top:1449px;width:4110px;height:1px;background:rgba(0,0,0,0.050)"></div>
<div style="left:9px;top:1548px;width:4110px;height:1px;background:rgba(0,0,0,0.050)"></div>
<div style="left:9px;top:1549px;width:4110px;height:2px;background:rgba(0,0,0,1.000)"></div>
<div style="left:9px;top:1551px;width:4110px;height:1px;background:rgba(0,0,0,0.650)"></div>
<div style="left:9px;top:1651px;width:4110px;height:1px;background:rgba(0,0,0,0.450)"></div>
<div style="left:9px;top:1652px;width:4110px;height:2px;background:rgba(0,0,0,1.000)"></div>
<div style="left:9px;top:1654px;width:4110px;height:1px;background:rgba(0,0,0,0.250)"></div>
<div style="left:9px;top:1754px;width:4110px;height:1px;background:rgba(0,0,0,0.850)"></div>
<div style="left:9px;top:1755px;width:4110px;height:1px;background:rgba(0,0,0,1.000)"></div>
<div style="left:9px;top:1756px;width:4110px;height:1px;background:rgba(0,0,0,0.850)"></div>
<div style="left:9px;top:1856px;width:4110px;height:1px;background:rgba(0,0,0,0.250)"></div>
<div style="left:9px;top:1857px;width:4110px;height:2px;background:rgba(0,0,0,1.000)"></div>
<div style="left:9px;top:1859px;width:4110px;height:1px;background:rgba(0,0,0,0.450)"></div>
<div style="left:9px;top:1959px;width:4110px;height:1px;background:rgba(0,0,0,0.650)"></div>
<div style="left:9px;top:1960px;width:4110px;height:2px;background:rgba(0,0,0,1.000)"></div>
<div style="left:9px;top:1962px;width:4110px;height:1px;background:rgba(0,0,0,0.050)"></div>
<div style="left:9px;top:2061px;width:4110px;height:1px;background:rgba(0,0,0,0.050)"></div>
<div style="left:9px;top:2062px;width:4110px;height:2px;background:rgba(0,0,0,1.000)"></div>
<div style="left:9px;top:2064px;width:4110px;height:1px;background:rgba(0,0,0,0.650)"></div>
<div style="left:9px;top:2164px;width:4110px;height:1px;background:rgba(0,0,0,0.450)"></div>
<div style="left:9px;top:2165px;width:4110px;height:2px;background:rgba(0,0,0,1.000)"></div>
<div style="left:9px;top:2167px;width:4110px;height:1px;background:rgba(0,0,0,0.250)"></div>
<div style="left:9px;top:2267px;width:4110px;height:1px;background:rgba(0,0,0,0.850)"></div>
<div style="left:9px;top:2268px;width:4110px;height:1px;background:rgba(0,0,0,1.000)"></div>
<div style="left:9px;top:2269px;width:4110px;height:1px;background:rgba(0,0,0,0.850)"></div>
<div style="left:9px;top:11px;width:1px;height:2259px;background:rgba(0,0,0,0.600)"></div>
<div style="left:10px;top:11px;width:2px;height:2259px;background:rgba(0,0,0,1.000)"></div>
<div style="left:12px;top:11px;width:1px;height:2259px;background:rgba(0,0,0,0.100)"></div>
<div style="left:92px;top:11px;width:1px;height:206px;background:rgba(0,0,0,0.850)"></div>
<div style="left:93px;top:11px;width:1px;height:206px;background:rgba(0,0,0,1.000)"></div>
<div style="left:94px;top:11px;width:1px;height:206px;background:rgba(0,0,0,0.850)"></div>
<div style="left:705px;top:11px;width:1px;height:206px;background:rgba(0,0,0,0.150)"></div>
<div style="left:706px;top:11px;width:2px;height:206px;background:rgba(0,0,0,1.000)"></div>
<div style="left:708px;top:11px;width:1px;height:206px;background:rgba(0,0,0,0.550)"></div>
<div style="left:943px;top:11px;width:1px;height:206px;background:rgba(0,0,0,0.850)"></div>
<div style="left:944px;top:11px;width:1px;height:206px;background:rgba(0,0,0,1.000)"></div>
<div style="left:945px;top:11px;width:1px;height:206px;background:rgba(0,0,0,0.850)"></div>
<div style="left:1164px;top:11px;width:1px;height:206px;background:rgba(0,0,0,0.150)"></div>
<div style="left:1165px;top:11px;width:2px;height:206px;background:rgba(0,0,0,1.000)"></div>
<div style="left:1167px;top:11px;width:1px;height:206px;background:rgba(0,0,0,0.550)"></div>
<div style="left:1389px;top:11px;width:1px;height:206px;background:rgba(0,0,0,0.250)"></div>
<div style="left:1390px;top:11px;width:2px;height:206px;background:rgba(0,0,0,1.000)"></div>
<div style="left:1392px;top:11px;width:1px;height:206px;background:rgba(0,0,0,0.450)"></div>
<div style="left:1609px;top:11px;width:1px;height:206px;background:rgba(0,0,0,0.350)"></div>
<div style="left:1610px;top:11px;width:2px;height:206px;background:rgba(0,0,0,1.000)"></div>
<div style="left:1612px;top:11px;width:1px;height:206px;background:rgba(0,0,0,0.350)"></div>
<div style="left:1838px;top:11px;width:1px;height:206px;background:rgba(0,0,0,0.350)"></div>
<div style="left:1839px;top:11px;width:2px;height:206px;background:rgba(0,0,0,1.000)"></div>
<div style="left:1841px;top:11px;width:1px;height:206px;background:rgba(0,0,0,0.350)"></div>
<div style="left:2116px;top:11px;width:1px;height:2259px;background:rgba(0,0,0,0.850)"></div>
<div style="left:2117px;top:11px;width:1px;height:2259px;background:rgba(0,0,0,1.000)"></div>
<div style="left:2118px;top:11px;width:1px;height:2259px;background:rgba(0,0,0,0.850)"></div>
<div style="left:2359px;top:11px;width:1px;height:2259px;background:rgba(0,0,0,0.050)"></div>
<div style="left:2360px;top:11px;width:2px;height:2259px;background:rgba(0,0,0,1.000)"></div>
<div style="left:2362px;top:11px;width:1px;height:2259px;background:rgba(0,0,0,0.650)"></div>
<div style="left:2612px;top:11px;width:1px;height:2259px;background:rgba(0,0,0,0.950)"></div>
<div style="left:2613px;top:11px;width:1px;height:2259px;background:rgba(0,0,0,1.000)"></div>
<div style="left:2614px;top:11px;width:1px;height:2259px;background:rgba(0,0,0,0.750)"></div>
<div style="left:2810px;top:11px;width:1px;height:2259px;background:rgba(0,0,0,0.150)"></div>
<div style="left:2811px;top:11px;width:2px;height:2259px;background:rgba(0,0,0,1.000)"></div>
<div style="left:2813px;top:11px;width:1px;height:2259px;background:rgba(0,0,0,0.550)"></div>
<div style="left:3061px;top:11px;width:1px;height:2259px;background:rgba(0,0,0,0.850)"></div>
<div style="left:3062px;top:11px;width:1px;height:2259px;background:rgba(0,0,0,1.000)"></div>
<div style="left:3063px;top:11px;width:1px;height:2259px;background:rgba(0,0,0,0.850)"></div>
<div style="left:3259px;top:11px;width:1px;height:2259px;background:rgba(0,0,0,0.250)"></div>
<div style="left:3260px;top:11px;width:2px;height:2259px;background:rgba(0,0,0,1.000)"></div>
<div style="left:3262px;top:11px;width:1px;height:2259px;background:rgba(0,0,0,0.450)"></div>
<div style="left:3458px;top:11px;width:1px;height:2259px;background:rgba(0,0,0,0.250)"></div>
<div style="left:3459px;top:11px;width:2px;height:2259px;background:rgba(0,0,0,1.000)"></div>
<div style="left:3461px;top:11px;width:1px;height:2259px;background:rgba(0,0,0,0.450)"></div>
<div style="left:3657px;top:11px;width:1px;height:2259px;background:rgba(0,0,0,0.850)"></div>
<div style="left:3658px;top:11px;width:1px;height:2259px;background:rgba(0,0,0,1.000)"></div>
<div style="left:3659px;top:11px;width:1px;height:2259px;background:rgba(0,0,0,0.850)"></div>
<div style="left:3894px;top:11px;width:1px;height:2259px;background:rgba(0,0,0,0.550)"></div>
<div style="left:3895px;top:11px;width:2px;height:2259px;background:rgba(0,0,0,1.000)"></div>
<div style="left:3897px;top:11px;width:1px;height:2259px;background:rgba(0,0,0,0.150)"></div>
<div style="left:4116px;top:11px;width:1px;height:2259px;background:rgba(0,0,0,0.350)"></div>
<div style="left:4117px;top:11px;width:2px;height:2259px;background:rgba(0,0,0,1.000)"></div>
<div style="left:4119px;top:11px;width:1px;height:2259px;background:rgba(0,0,0,0.350)"></div>
<div class="t b" style="left:27.04px;top:71.40px;transform:scaleX(1.1400);">Nr.</div>
<div class="t b" style="left:20.83px;top:122.75px;transform:scaleX(1.0981);">p.k.</div>
<div class="t b" style="left:304.26px;top:97.00px;transform:scaleX(1.0223);">Nosaukums</div>
<div class="t b" style="left:730.17px;top:71.40px;transform:scaleX(1.0288);">Aizņēmuma</div>
<div class="t b" style="left:771.83px;top:122.75px;transform:scaleX(1.0097);">līgums</div>
<div class="t b" style="left:994.40px;top:71.40px;transform:scaleX(0.9831);">Trančes</div>
<div class="t b" style="left:992.33px;top:122.75px;transform:scaleX(1.0331);">numurs</div>
<div class="t b" style="left:1219.32px;top:46.00px;transform:scaleX(0.9888);">Līguma</div>
<div class="t b" style="left:1180.70px;top:97.30px;transform:scaleX(0.9746);">noslēgšanas</div>
<div class="t b" style="left:1217.35px;top:147.80px;transform:scaleX(1.0478);">datums</div>
<div class="t b" style="left:1405.17px;top:46.00px;transform:scaleX(1.0310);">Aizņēmuma</div>
<div class="t b" style="left:1455.48px;top:97.30px;transform:scaleX(1.0357);">beigu</div>
<div class="t b" style="left:1440.35px;top:147.80px;transform:scaleX(1.0288);">termiņš</div>
<div class="t b" style="left:1628.96px;top:71.40px;transform:scaleX(1.0380);">Aizņēmuma</div>
<div class="t b" style="left:1622.49px;top:122.75px;transform:scaleX(1.0099);">summa, EUR</div>
<div class="t b" style="left:1883.07px;top:71.40px;transform:scaleX(1.0631);">Maksājuma</div>
<div class="t b" style="left:1937.85px;top:122.75px;transform:scaleX(0.9855);">veids</div>
<div class="t b" style="left:2200.38px;top:97.00px;transform:scaleX(1.0690);">2025</div>
<div class="t b" style="left:2450.12px;top:97.00px;transform:scaleX(1.0200);">2026</div>
<div class="t b" style="left:2675.57px;top:97.00px;transform:scaleX(1.0200);">2027</div>
<div class="t b" style="left:2900.12px;top:97.00px;transform:scaleX(1.0200);">2028</div>
<div class="t b" style="left:3124.57px;top:97.00px;transform:scaleX(1.0200);">2029</div>
<div class="t b" style="left:3323.37px;top:97.00px;transform:scaleX(1.0200);">2030</div>
<div class="t b" style="left:3521.56px;top:97.00px;transform:scaleX(1.0200);">2031</div>
<div class="t b" style="left:3685.46px;top:97.00px;transform:scaleX(1.0420);">2032 - 2053</div>
<div class="t b" style="left:3914.47px;top:71.40px;transform:scaleX(1.0157);">Kopsumma</div>
<div class="t b" style="left:3914.10px;top:122.75px;transform:scaleX(1.0546);">2025 - 2053</div>
<div class="t b" style="left:48.20px;top:224.90px;transform:scaleX(1.0400);">36</div>
<div class="t b" style="left:99.88px;top:224.90px;transform:scaleX(0.9620);">Investīciju projektu īstenošanai</div>
<div class="t b" style="left:99.90px;top:276.20px;transform:scaleX(0.9477);">(saistību pārjaunojums)</div>
<div class="t r" style="left:715.70px;top:224.90px;transform:scaleX(1.1158);">A2/1/21/139</div>
<div class="t r" style="left:950.62px;top:224.90px;transform:scaleX(1.0265);">PP-14/2021</div>
<div class="t r" style="left:1173.55px;top:224.90px;transform:scaleX(1.0260);">26.04.2021</div>
<div class="t r" style="left:1398.75px;top:224.90px;transform:scaleX(1.0260);">21.06.2038</div>
<div class="t r" style="left:1670.58px;top:224.90px;transform:scaleX(1.0250);">2 075 409</div>
<div class="t b" style="left:1857.58px;top:224.90px;transform:scaleX(0.9615);">Pamatsumma</div>
<div class="t r" style="left:1856.79px;top:276.20px;transform:scaleX(1.0017);">Procentu maksa</div>
<div class="t b" style="left:2220.35px;top:224.90px;transform:scaleX(1.0250);">123 200</div>
<div class="t r" style="left:2238.80px;top:276.20px;transform:scaleX(1.0250);">42 235</div>
<div class="t b" style="left:2472.45px;top:224.90px;transform:scaleX(1.0250);">121 648</div>
<div class="t r" style="left:2491.93px;top:276.20px;transform:scaleX(1.0250);">41 171</div>
<div class="t b" style="left:2673.30px;top:224.90px;transform:scaleX(1.0250);">117 000</div>
<div class="t r" style="left:2690.72px;top:276.20px;transform:scaleX(1.0250);">36 853</div>
<div class="t b" style="left:2923.60px;top:224.90px;transform:scaleX(1.0250);">117 000</div>
<div class="t r" style="left:2941.03px;top:276.20px;transform:scaleX(1.0250);">32 699</div>
<div class="t b" style="left:3122.20px;top:224.90px;transform:scaleX(1.0250);">117 000</div>
<div class="t r" style="left:3139.62px;top:276.20px;transform:scaleX(1.0250);">28 546</div>
<div class="t b" style="left:3321.20px;top:224.90px;transform:scaleX(1.0250);">117 000</div>
<div class="t r" style="left:3338.62px;top:276.20px;transform:scaleX(1.0250);">24 392</div>
<div class="t b" style="left:3519.60px;top:224.90px;transform:scaleX(1.0250);">110 320</div>
<div class="t r" style="left:3537.03px;top:276.20px;transform:scaleX(1.0250);">20 239</div>
<div class="t b" style="left:3754.85px;top:224.90px;transform:scaleX(1.0250);">459 782</div>
<div class="t r" style="left:3774.33px;top:276.20px;transform:scaleX(1.0250);">52 937</div>
<div class="t b" style="left:3948.35px;top:224.90px;transform:scaleX(1.0250);">1 282 950</div>
<div class="t r" style="left:3977.05px;top:276.20px;transform:scaleX(1.0250);">279 072</div>
<div class="t b" style="left:48.20px;top:327.50px;transform:scaleX(1.0400);">37</div>
<div class="t b" style="left:100.87px;top:327.50px;transform:scaleX(0.9257);">Stacijas ielas pārbūve</div>
<div class="t r" style="left:715.70px;top:327.50px;transform:scaleX(1.1158);">A2/1/21/169</div>
<div class="t r" style="left:950.54px;top:327.50px;transform:scaleX(1.0520);">P-89/2021</div>
<div class="t r" style="left:1174.57px;top:327.50px;transform:scaleX(1.0260);">30.04.2021</div>
<div class="t r" style="left:1398.75px;top:327.50px;transform:scaleX(1.0260);">20.04.2051</div>
<div class="t r" style="left:1698.25px;top:327.50px;transform:scaleX(1.0250);">617 703</div>
<div class="t b" style="left:1857.58px;top:327.50px;transform:scaleX(0.9615);">Pamatsumma</div>
<div class="t r" style="left:1856.79px;top:378.80px;transform:scaleX(1.0017);">Procentu maksa</div>
<div class="t b" style="left:2238.80px;top:327.50px;transform:scaleX(1.0250);">20 940</div>
<div class="t r" style="left:2238.80px;top:378.80px;transform:scaleX(1.0250);">21 380</div>
<div class="t b" style="left:2490.90px;top:327.50px;transform:scaleX(1.0250);">20 940</div>
<div class="t r" style="left:2491.93px;top:378.80px;transform:scaleX(1.0250);">18 956</div>
<div class="t b" style="left:2689.70px;top:327.50px;transform:scaleX(1.0250);">20 940</div>
<div class="t r" style="left:2690.72px;top:378.80px;transform:scaleX(1.0250);">18 213</div>
<div class="t b" style="left:2940.00px;top:327.50px;transform:scaleX(1.0250);">20 940</div>
<div class="t r" style="left:2941.03px;top:378.80px;transform:scaleX(1.0250);">17 469</div>
<div class="t b" style="left:3138.60px;top:327.50px;transform:scaleX(1.0250);">20 940</div>
<div class="t r" style="left:3139.62px;top:378.80px;transform:scaleX(1.0250);">16 726</div>
<div class="t b" style="left:3337.60px;top:327.50px;transform:scaleX(1.0250);">20 940</div>
<div class="t r" style="left:3338.62px;top:378.80px;transform:scaleX(1.0250);">15 982</div>
<div class="t b" style="left:3536.00px;top:327.50px;transform:scaleX(1.0250);">20 940</div>
<div class="t r" style="left:3537.03px;top:378.80px;transform:scaleX(1.0250);">15 239</div>
<div class="t b" style="left:3754.85px;top:327.50px;transform:scaleX(1.0250);">408 330</div>
<div class="t r" style="left:3754.85px;top:378.80px;transform:scaleX(1.0250);">148 674</div>
<div class="t b" style="left:3977.05px;top:327.50px;transform:scaleX(1.0250);">554 910</div>
<div class="t r" style="left:3977.05px;top:378.80px;transform:scaleX(1.0250);">272 639</div>
<div class="t b" style="left:47.16px;top:430.10px;transform:scaleX(1.0400);">38</div>
<div class="t b" style="left:99.93px;top:430.10px;transform:scaleX(0.9355);">Lielās ielas pārbūve</div>
<div class="t r" style="left:715.70px;top:430.10px;transform:scaleX(1.1158);">A2/1/21/232</div>
<div class="t r" style="left:950.55px;top:430.10px;transform:scaleX(1.0512);">P-163/2021</div>
<div class="t r" style="left:1173.55px;top:430.10px;transform:scaleX(1.0260);">27.05.2021</div>
<div class="t r" style="left:1398.75px;top:430.10px;transform:scaleX(1.0260);">20.05.2041</div>
<div class="t r" style="left:1698.25px;top:430.10px;transform:scaleX(1.0250);">131 926</div>
<div class="t b" style="left:1857.58px;top:430.10px;transform:scaleX(0.9615);">Pamatsumma</div>
<div class="t r" style="left:1856.79px;top:481.40px;transform:scaleX(1.0017);">Procentu maksa</div>
<div class="t b" style="left:2258.28px;top:430.10px;transform:scaleX(1.0250);">6 772</div>
<div class="t r" style="left:2258.28px;top:481.40px;transform:scaleX(1.0250);">4 206</div>
<div class="t b" style="left:2510.38px;top:430.10px;transform:scaleX(1.0250);">6 772</div>
<div class="t r" style="left:2510.38px;top:481.40px;transform:scaleX(1.0250);">3 723</div>
<div class="t b" style="left:2709.17px;top:430.10px;transform:scaleX(1.0250);">6 772</div>
<div class="t r" style="left:2709.17px;top:481.40px;transform:scaleX(1.0250);">3 482</div>
<div class="t b" style="left:2959.47px;top:430.10px;transform:scaleX(1.0250);">6 772</div>
<div class="t r" style="left:2959.47px;top:481.40px;transform:scaleX(1.0250);">3 242</div>
<div class="t b" style="left:3158.07px;top:430.10px;transform:scaleX(1.0250);">6 772</div>
<div class="t r" style="left:3158.07px;top:481.40px;transform:scaleX(1.0250);">3 001</div>
<div class="t b" style="left:3357.07px;top:430.10px;transform:scaleX(1.0250);">6 772</div>
<div class="t r" style="left:3357.07px;top:481.40px;transform:scaleX(1.0250);">2 761</div>
<div class="t b" style="left:3555.47px;top:430.10px;transform:scaleX(1.0250);">6 772</div>
<div class="t r" style="left:3555.47px;top:481.40px;transform:scaleX(1.0250);">2 521</div>
<div class="t b" style="left:3773.30px;top:430.10px;transform:scaleX(1.0250);">64 233</div>
<div class="t r" style="left:3775.35px;top:481.40px;transform:scaleX(1.0250);">11 984</div>
<div class="t b" style="left:3981.15px;top:430.10px;transform:scaleX(1.0250);">111 637</div>
<div class="t r" style="left:3995.50px;top:481.40px;transform:scaleX(1.0250);">34 920</div>
<div class="t b" style="left:48.20px;top:532.70px;transform:scaleX(1.0400);">39</div>
<div class="t b" style="left:100.86px;top:532.70px;transform:scaleX(0.9442);">Autostāvvietas izbūve Karlsona parkā,</div>
<div class="t b" style="left:100.87px;top:584.00px;transform:scaleX(0.9305);">Garciemā, Carnikavas novadā</div>
<div class="t r" style="left:715.70px;top:532.70px;transform:scaleX(1.1158);">A2/1/21/231</div>
<div class="t r" style="left:950.55px;top:532.70px;transform:scaleX(1.0512);">P-164/2021</div>
<div class="t r" style="left:1173.55px;top:532.70px;transform:scaleX(1.0260);">27.05.2021</div>
<div class="t r" style="left:1398.75px;top:532.70px;transform:scaleX(1.0260);">20.05.2041</div>
<div class="t r" style="left:1698.25px;top:532.70px;transform:scaleX(1.0250);">145 332</div>
<div class="t b" style="left:1857.58px;top:532.70px;transform:scaleX(0.9615);">Pamatsumma</div>
<div class="t r" style="left:1856.79px;top:584.00px;transform:scaleX(1.0017);">Procentu maksa</div>
<div class="t b" style="left:2258.28px;top:532.70px;transform:scaleX(1.0250);">7 456</div>
<div class="t r" style="left:2258.28px;top:584.00px;transform:scaleX(1.0250);">4 635</div>
<div class="t b" style="left:2510.38px;top:532.70px;transform:scaleX(1.0250);">7 456</div>
<div class="t r" style="left:2510.38px;top:584.00px;transform:scaleX(1.0250);">4 103</div>
<div class="t b" style="left:2709.17px;top:532.70px;transform:scaleX(1.0250);">7 456</div>
<div class="t r" style="left:2709.17px;top:584.00px;transform:scaleX(1.0250);">3 838</div>
<div class="t b" style="left:2959.47px;top:532.70px;transform:scaleX(1.0250);">7 456</div>
<div class="t r" style="left:2959.47px;top:584.00px;transform:scaleX(1.0250);">3 573</div>
<div class="t b" style="left:3158.07px;top:532.70px;transform:scaleX(1.0250);">7 456</div>
<div class="t r" style="left:3158.07px;top:584.00px;transform:scaleX(1.0250);">3 309</div>
<div class="t b" style="left:3357.07px;top:532.70px;transform:scaleX(1.0250);">7 456</div>
<div class="t r" style="left:3356.05px;top:584.00px;transform:scaleX(1.0250);">3 044</div>
<div class="t b" style="left:3555.47px;top:532.70px;transform:scaleX(1.0250);">7 456</div>
<div class="t r" style="left:3555.47px;top:584.00px;transform:scaleX(1.0250);">2 779</div>
<div class="t b" style="left:3773.30px;top:532.70px;transform:scaleX(1.0250);">70 832</div>
<div class="t r" style="left:3773.30px;top:584.00px;transform:scaleX(1.0250);">13 234</div>
<div class="t b" style="left:3976.03px;top:532.70px;transform:scaleX(1.0250);">123 024</div>
<div class="t r" style="left:3995.50px;top:584.00px;transform:scaleX(1.0250);">38 515</div>
<div class="t b" style="left:48.20px;top:635.30px;transform:scaleX(1.0400);">40</div>
<div class="t b" style="left:99.91px;top:635.30px;transform:scaleX(0.9430);">Pirmās ielas stāvlaukums pie ĀPII</div>
<div class="t r" style="left:715.70px;top:635.30px;transform:scaleX(1.1158);">A2/1/21/632</div>
<div class="t r" style="left:950.55px;top:635.30px;transform:scaleX(1.0512);">P-481/2021</div>
<div class="t r" style="left:1172.52px;top:635.30px;transform:scaleX(1.0260);">14.10.2021</div>
<div class="t r" style="left:1398.75px;top:635.30px;transform:scaleX(1.0260);">21.09.2026</div>
<div class="t r" style="left:1698.25px;top:635.30px;transform:scaleX(1.0250);">141 294</div>
<div class="t b" style="left:1857.58px;top:635.30px;transform:scaleX(0.9615);">Pamatsumma</div>
<div class="t r" style="left:1856.79px;top:686.60px;transform:scaleX(1.0017);">Procentu maksa</div>
<div class="t b" style="left:2238.80px;top:635.30px;transform:scaleX(1.0250);">29 748</div>
<div class="t r" style="left:2285.95px;top:686.60px;transform:scaleX(1.0250);">121</div>
<div class="t b" style="left:2492.95px;top:635.30px;transform:scaleX(1.0250);">22 311</div>
<div class="t r" style="left:2557.53px;top:686.60px;transform:scaleX(1.0250);">56</div>
<div class="t b" style="left:2745.20px;top:635.30px;">-</div>
<div class="t r" style="left:2745.20px;top:686.60px;">-</div>
<div class="t b" style="left:2995.50px;top:635.30px;">-</div>
<div class="t r" style="left:2995.50px;top:686.60px;">-</div>
<div class="t b" style="left:3194.10px;top:635.30px;">-</div>
<div class="t r" style="left:3194.10px;top:686.60px;">-</div>
<div class="t b" style="left:3393.10px;top:635.30px;">-</div>
<div class="t r" style="left:3393.10px;top:686.60px;">-</div>
<div class="t b" style="left:3591.50px;top:635.30px;">-</div>
<div class="t r" style="left:3591.50px;top:686.60px;">-</div>
<div class="t b" style="left:3828.80px;top:635.30px;">-</div>
<div class="t r" style="left:3828.80px;top:686.60px;">-</div>
<div class="t b" style="left:3995.50px;top:635.30px;transform:scaleX(1.0250);">52 059</div>
<div class="t r" style="left:4042.65px;top:686.60px;transform:scaleX(1.0250);">177</div>
<div class="t b" style="left:47.16px;top:737.90px;transform:scaleX(1.0400);">41</div>
<div class="t b" style="left:100.84px;top:737.90px;transform:scaleX(0.9631);">SAM 9311 Deinstitucionalizācija -</div>
<div class="t b" style="left:99.90px;top:789.20px;transform:scaleX(0.9516);">Dienas centrs</div>
<div class="t r" style="left:715.70px;top:737.90px;transform:scaleX(1.1158);">A2/1/21/729</div>
<div class="t r" style="left:950.55px;top:737.90px;transform:scaleX(1.0512);">P-556/2021</div>
<div class="t r" style="left:1174.57px;top:737.90px;transform:scaleX(1.0260);">02.12.2021</div>
<div class="t r" style="left:1398.75px;top:737.90px;transform:scaleX(1.0260);">20.11.2040</div>
<div class="t r" style="left:1698.25px;top:737.90px;transform:scaleX(1.0250);">186 392</div>
<div class="t b" style="left:1857.58px;top:737.90px;transform:scaleX(0.9615);">Pamatsumma</div>
<div class="t r" style="left:1856.79px;top:789.20px;transform:scaleX(1.0017);">Procentu maksa</div>
<div class="t b" style="left:2238.80px;top:737.90px;transform:scaleX(1.0250);">15 080</div>
<div class="t r" style="left:2257.25px;top:789.20px;transform:scaleX(1.0250);">2 084</div>
<div class="t b" style="left:2510.38px;top:737.90px;transform:scaleX(1.0250);">8 240</div>
<div class="t r" style="left:2538.05px;top:789.20px;transform:scaleX(1.0250);">721</div>
<div class="t b" style="left:2709.17px;top:737.90px;transform:scaleX(1.0250);">8 240</div>
<div class="t r" style="left:2736.85px;top:789.20px;transform:scaleX(1.0250);">468</div>
<div class="t b" style="left:2959.47px;top:737.90px;transform:scaleX(1.0250);">7 032</div>
<div class="t r" style="left:2987.15px;top:789.20px;transform:scaleX(1.0250);">216</div>
<div class="t r" style="left:3194.10px;top:789.20px;">-</div>
<div class="t r" style="left:3393.10px;top:789.20px;">-</div>
<div class="t r" style="left:3591.50px;top:789.20px;">-</div>
<div class="t b" style="left:3828.80px;top:737.90px;">-</div>
<div class="t r" style="left:3828.80px;top:789.20px;">-</div>
<div class="t b" style="left:3995.50px;top:737.90px;transform:scaleX(1.0250);">38 592</div>
<div class="t r" style="left:4014.97px;top:789.20px;transform:scaleX(1.0250);">3 488</div>
<div class="t b" style="left:48.20px;top:840.50px;transform:scaleX(1.0400);">42</div>
<div class="t b" style="left:99.86px;top:840.50px;transform:scaleX(0.9676);">Mežaparka ceļa pārbūve</div>
<div class="t r" style="left:715.70px;top:840.50px;transform:scaleX(1.1158);">A2/1/21/728</div>
<div class="t r" style="left:950.55px;top:840.50px;transform:scaleX(1.0512);">P-557/2021</div>
<div class="t r" style="left:1174.57px;top:840.50px;transform:scaleX(1.0260);">02.12.2021</div>
<div class="t r" style="left:1398.75px;top:840.50px;transform:scaleX(1.0260);">20.11.2031</div>
<div class="t r" style="left:1698.25px;top:840.50px;transform:scaleX(1.0250);">697 002</div>
<div class="t b" style="left:1857.58px;top:840.50px;transform:scaleX(0.9615);">Pamatsumma</div>
<div class="t r" style="left:1856.79px;top:891.80px;transform:scaleX(1.0017);">Procentu maksa</div>
<div class="t b" style="left:2238.80px;top:840.50px;transform:scaleX(1.0250);">73 372</div>
<div class="t r" style="left:2239.83px;top:891.80px;transform:scaleX(1.0250);">16 193</div>
<div class="t b" style="left:2490.90px;top:840.50px;transform:scaleX(1.0250);">73 372</div>
<div class="t r" style="left:2491.93px;top:891.80px;transform:scaleX(1.0250);">12 859</div>
<div class="t b" style="left:2689.70px;top:840.50px;transform:scaleX(1.0250);">73 372</div>
<div class="t r" style="left:2690.72px;top:891.80px;transform:scaleX(1.0250);">10 716</div>
<div class="t b" style="left:2940.00px;top:840.50px;transform:scaleX(1.0250);">73 372</div>
<div class="t r" style="left:2959.47px;top:891.80px;transform:scaleX(1.0250);">8 573</div>
<div class="t b" style="left:3138.60px;top:840.50px;transform:scaleX(1.0250);">73 372</div>
<div class="t r" style="left:3158.07px;top:891.80px;transform:scaleX(1.0250);">6 430</div>
<div class="t b" style="left:3337.60px;top:840.50px;transform:scaleX(1.0250);">73 372</div>
<div class="t r" style="left:3357.07px;top:891.80px;transform:scaleX(1.0250);">4 286</div>
<div class="t b" style="left:3536.00px;top:840.50px;transform:scaleX(1.0250);">73 372</div>
<div class="t r" style="left:3555.47px;top:891.80px;transform:scaleX(1.0250);">2 143</div>
<div class="t b" style="left:3828.80px;top:840.50px;">-</div>
<div class="t r" style="left:3828.80px;top:891.80px;">-</div>
<div class="t b" style="left:3976.03px;top:840.50px;transform:scaleX(1.0250);">513 604</div>
<div class="t r" style="left:3995.50px;top:891.80px;transform:scaleX(1.0250);">61 200</div>
<div class="t b" style="left:48.20px;top:943.10px;transform:scaleX(1.0400);">43</div>
<div class="t b" style="left:99.94px;top:943.10px;transform:scaleX(0.9310);">Ķiršu ielas rekonstrukcija</div>
<div class="t r" style="left:715.70px;top:943.10px;transform:scaleX(1.1158);">A2/1/21/727</div>
<div class="t r" style="left:950.55px;top:943.10px;transform:scaleX(1.0512);">P-558/2021</div>
<div class="t r" style="left:1174.57px;top:943.10px;transform:scaleX(1.0260);">02.12.2021</div>
<div class="t r" style="left:1398.75px;top:943.10px;transform:scaleX(1.0260);">20.11.2031</div>
<div class="t r" style="left:1698.25px;top:943.10px;transform:scaleX(1.0250);">559 122</div>
<div class="t b" style="left:1857.58px;top:943.10px;transform:scaleX(0.9615);">Pamatsumma</div>
<div class="t r" style="left:1856.79px;top:994.40px;transform:scaleX(1.0017);">Procentu maksa</div>
<div class="t b" style="left:2240.85px;top:943.10px;transform:scaleX(1.0250);">58 116</div>
<div class="t r" style="left:2241.88px;top:994.40px;transform:scaleX(1.0250);">12 116</div>
<div class="t b" style="left:2492.95px;top:943.10px;transform:scaleX(1.0250);">58 116</div>
<div class="t r" style="left:2510.38px;top:994.40px;transform:scaleX(1.0250);">9 539</div>
<div class="t b" style="left:2691.75px;top:943.10px;transform:scaleX(1.0250);">58 116</div>
<div class="t r" style="left:2709.17px;top:994.40px;transform:scaleX(1.0250);">7 842</div>
<div class="t b" style="left:2942.05px;top:943.10px;transform:scaleX(1.0250);">58 116</div>
<div class="t r" style="left:2958.45px;top:994.40px;transform:scaleX(1.0250);">6 144</div>
<div class="t b" style="left:3140.65px;top:943.10px;transform:scaleX(1.0250);">58 116</div>
<div class="t r" style="left:3158.07px;top:994.40px;transform:scaleX(1.0250);">4 447</div>
<div class="t b" style="left:3339.65px;top:943.10px;transform:scaleX(1.0250);">58 116</div>
<div class="t r" style="left:3357.07px;top:994.40px;transform:scaleX(1.0250);">2 749</div>
<div class="t b" style="left:3536.00px;top:943.10px;transform:scaleX(1.0250);">35 996</div>
<div class="t r" style="left:3555.47px;top:994.40px;transform:scaleX(1.0250);">1 051</div>
<div class="t b" style="left:3828.80px;top:943.10px;">-</div>
<div class="t r" style="left:3828.80px;top:994.40px;">-</div>
<div class="t b" style="left:3977.05px;top:943.10px;transform:scaleX(1.0250);">384 692</div>
<div class="t r" style="left:3996.53px;top:994.40px;transform:scaleX(1.0250);">43 888</div>
<div class="t b" style="left:46.12px;top:1045.70px;transform:scaleX(1.0400);">44</div>
<div class="t b" style="left:100.87px;top:1045.70px;transform:scaleX(0.9347);">Carnikavas pamatskolas infrastruktūras</div>
<div class="t b" style="left:99.92px;top:1097.00px;transform:scaleX(0.9413);">uzlabošana un mācību vides labiekārtošana</div>
<div class="t r" style="left:715.70px;top:1045.70px;transform:scaleX(1.1158);">A2/1/21/776</div>
<div class="t r" style="left:950.55px;top:1045.70px;transform:scaleX(1.0512);">P-583/2021</div>
<div class="t r" style="left:1173.55px;top:1045.70px;transform:scaleX(1.0260);">23.12.2021</div>
<div class="t r" style="left:1398.75px;top:1045.70px;transform:scaleX(1.0260);">21.12.2026</div>
<div class="t r" style="left:1698.25px;top:1045.70px;transform:scaleX(1.0250);">247 902</div>
<div class="t b" style="left:1857.58px;top:1045.70px;transform:scaleX(0.9615);">Pamatsumma</div>
<div class="t r" style="left:1856.79px;top:1097.00px;transform:scaleX(1.0017);">Procentu maksa</div>
<div class="t b" style="left:2238.80px;top:1045.70px;transform:scaleX(1.0250);">61 976</div>
<div class="t r" style="left:2257.25px;top:1097.00px;transform:scaleX(1.0250);">3 734</div>
<div class="t b" style="left:2490.90px;top:1045.70px;transform:scaleX(1.0250);">61 976</div>
<div class="t r" style="left:2510.38px;top:1097.00px;transform:scaleX(1.0250);">1 809</div>
<div class="t b" style="left:2745.20px;top:1045.70px;">-</div>
<div class="t r" style="left:2745.20px;top:1097.00px;">-</div>
<div class="t b" style="left:2995.50px;top:1045.70px;">-</div>
<div class="t r" style="left:2995.50px;top:1097.00px;">-</div>
<div class="t b" style="left:3194.10px;top:1045.70px;">-</div>
<div class="t r" style="left:3194.10px;top:1097.00px;">-</div>
<div class="t b" style="left:3393.10px;top:1045.70px;">-</div>
<div class="t r" style="left:3393.10px;top:1097.00px;">-</div>
<div class="t b" style="left:3591.50px;top:1045.70px;">-</div>
<div class="t r" style="left:3591.50px;top:1097.00px;">-</div>
<div class="t b" style="left:3828.80px;top:1045.70px;">-</div>
<div class="t r" style="left:3828.80px;top:1097.00px;">-</div>
<div class="t b" style="left:3977.05px;top:1045.70px;transform:scaleX(1.0250);">123 952</div>
<div class="t r" style="left:4013.95px;top:1097.00px;transform:scaleX(1.0250);">5 544</div>
<div class="t b" style="left:47.16px;top:1148.30px;transform:scaleX(1.0400);">45</div>
<div class="clip" style="left:0px;top:1148.30px;width:706.00px;height:40px"><div class="t b" style="left:99.92px;top:0px;transform:scaleX(0.9400);">Laivu ielas (no Cēlāju ciema līdz jūrai Carnikavā)</div></div>
<div class="t b" style="left:99.90px;top:1199.60px;transform:scaleX(0.9512);">un tai piegulošā auto stāvlaukuma projektēšana un būvniecība</div>
<div class="t r" style="left:715.70px;top:1148.30px;transform:scaleX(1.1241);">A2/1/22/15</div>
<div class="t r" style="left:950.54px;top:1148.30px;transform:scaleX(1.0535);">P-7/2022</div>
<div class="t r" style="left:1174.57px;top:1148.30px;transform:scaleX(1.0260);">02.02.2022</div>
<div class="t r" style="left:1398.75px;top:1148.30px;transform:scaleX(1.0260);">20.01.2037</div>
<div class="t r" style="left:1698.25px;top:1148.30px;transform:scaleX(1.0250);">178 121</div>
<div class="t b" style="left:1857.58px;top:1148.30px;transform:scaleX(0.9615);">Pamatsumma</div>
<div class="t r" style="left:1856.79px;top:1199.60px;transform:scaleX(1.0017);">Procentu maksa</div>
<div class="t b" style="left:2238.80px;top:1148.30px;transform:scaleX(1.0250);">12 500</div>
<div class="t r" style="left:2258.28px;top:1199.60px;transform:scaleX(1.0250);">2 655</div>
<div class="t b" style="left:2490.90px;top:1148.30px;transform:scaleX(1.0250);">12 500</div>
<div class="t r" style="left:2509.35px;top:1199.60px;transform:scaleX(1.0250);">2 424</div>
<div class="t b" style="left:2689.70px;top:1148.30px;transform:scaleX(1.0250);">12 500</div>
<div class="t r" style="left:2709.17px;top:1199.60px;transform:scaleX(1.0250);">1 980</div>
<div class="t b" style="left:2940.00px;top:1148.30px;transform:scaleX(1.0250);">12 500</div>
<div class="t r" style="left:2959.47px;top:1199.60px;transform:scaleX(1.0250);">1 537</div>
<div class="t b" style="left:3138.60px;top:1148.30px;transform:scaleX(1.0250);">12 500</div>
<div class="t r" style="left:3158.07px;top:1199.60px;transform:scaleX(1.0250);">1 093</div>
<div class="t b" style="left:3337.60px;top:1148.30px;transform:scaleX(1.0250);">12 500</div>
<div class="t r" style="left:3384.75px;top:1199.60px;transform:scaleX(1.0250);">649</div>
<div class="t b" style="left:3553.43px;top:1148.30px;transform:scaleX(1.0250);">5 784</div>
<div class="t r" style="left:3583.15px;top:1199.60px;transform:scaleX(1.0250);">205</div>
<div class="t b" style="left:3828.80px;top:1148.30px;">-</div>
<div class="t r" style="left:3828.80px;top:1199.60px;">-</div>
<div class="t b" style="left:3994.47px;top:1148.30px;transform:scaleX(1.0250);">80 784</div>
<div class="t r" style="left:3996.53px;top:1199.60px;transform:scaleX(1.0250);">10 543</div>
<div class="t b" style="left:48.20px;top:1250.90px;transform:scaleX(1.0400);">46</div>
<div class="t b" style="left:100.82px;top:1250.90px;transform:scaleX(0.9800);">SAM 5.1.1. Pretplūdu pasākumi</div>
<div class="t b" style="left:100.84px;top:1302.20px;transform:scaleX(0.9561);">Ādažu centra polderī</div>
<div class="t r" style="left:715.70px;top:1250.90px;transform:scaleX(1.1158);">A2/1/22/123</div>
<div class="t r" style="left:950.54px;top:1250.90px;transform:scaleX(1.0520);">P-70/2022</div>
<div class="t r" style="left:1174.57px;top:1250.90px;transform:scaleX(1.0260);">31.05.2022</div>
<div class="t r" style="left:1398.75px;top:1250.90px;transform:scaleX(1.0260);">20.05.2037</div>
<div class="t r" style="left:1670.58px;top:1250.90px;transform:scaleX(1.0250);">1 230 506</div>
<div class="t b" style="left:1857.58px;top:1250.90px;transform:scaleX(0.9615);">Pamatsumma</div>
<div class="t r" style="left:1856.79px;top:1302.20px;transform:scaleX(1.0017);">Procentu maksa</div>
<div class="t b" style="left:2220.35px;top:1250.90px;transform:scaleX(1.0250);">277 607</div>
<div class="t r" style="left:2239.83px;top:1302.20px;transform:scaleX(1.0250);">41 747</div>
<div class="t b" style="left:2490.90px;top:1250.90px;transform:scaleX(1.0250);">86 352</div>
<div class="t r" style="left:2491.93px;top:1302.20px;transform:scaleX(1.0250);">30 418</div>
<div class="t b" style="left:2689.70px;top:1250.90px;transform:scaleX(1.0250);">86 352</div>
<div class="t r" style="left:2690.72px;top:1302.20px;transform:scaleX(1.0250);">26 748</div>
<div class="t b" style="left:2940.00px;top:1250.90px;transform:scaleX(1.0250);">86 352</div>
<div class="t r" style="left:2941.03px;top:1302.20px;transform:scaleX(1.0250);">23 079</div>
<div class="t b" style="left:3138.60px;top:1250.90px;transform:scaleX(1.0250);">86 352</div>
<div class="t r" style="left:3139.62px;top:1302.20px;transform:scaleX(1.0250);">19 409</div>
<div class="t b" style="left:3337.60px;top:1250.90px;transform:scaleX(1.0250);">86 352</div>
<div class="t r" style="left:3338.62px;top:1302.20px;transform:scaleX(1.0250);">15 739</div>
<div class="t b" style="left:3536.00px;top:1250.90px;transform:scaleX(1.0250);">86 352</div>
<div class="t r" style="left:3537.03px;top:1302.20px;transform:scaleX(1.0250);">12 069</div>
<div class="t b" style="left:3754.85px;top:1250.90px;transform:scaleX(1.0250);">197 616</div>
<div class="t r" style="left:3774.33px;top:1302.20px;transform:scaleX(1.0250);">14 186</div>
<div class="t b" style="left:3977.05px;top:1250.90px;transform:scaleX(1.0250);">993 335</div>
<div class="t r" style="left:3977.05px;top:1302.20px;transform:scaleX(1.0250);">183 394</div>
<div class="t b" style="left:48.20px;top:1353.50px;transform:scaleX(1.0400);">47</div>
<div class="t b" style="left:100.87px;top:1353.50px;transform:scaleX(0.9336);">Gaujas ielas gājēju celiņa izbūve</div>
<div class="t r" style="left:715.70px;top:1353.50px;transform:scaleX(1.1158);">A2/1/22/165</div>
<div class="t r" style="left:950.51px;top:1353.50px;transform:scaleX(1.0640);">P-112/2022</div>
<div class="t r" style="left:1174.57px;top:1353.50px;transform:scaleX(1.0260);">04.07.2022</div>
<div class="t r" style="left:1398.75px;top:1353.50px;transform:scaleX(1.0260);">21.06.2027</div>
<div class="t r" style="left:1698.25px;top:1353.50px;transform:scaleX(1.0250);">156 436</div>
<div class="t b" style="left:1857.58px;top:1353.50px;transform:scaleX(0.9615);">Pamatsumma</div>
<div class="t r" style="left:1856.79px;top:1404.80px;transform:scaleX(1.0017);">Procentu maksa</div>
<div class="t b" style="left:2238.80px;top:1353.50px;transform:scaleX(1.0250);">37 076</div>
<div class="t r" style="left:2258.28px;top:1404.80px;transform:scaleX(1.0250);">3 312</div>
<div class="t b" style="left:2490.90px;top:1353.50px;transform:scaleX(1.0250);">37 076</div>
<div class="t r" style="left:2510.38px;top:1404.80px;transform:scaleX(1.0250);">2 033</div>
<div class="t b" style="left:2709.17px;top:1353.50px;transform:scaleX(1.0250);">8 137</div>
<div class="t r" style="left:2736.85px;top:1404.80px;transform:scaleX(1.0250);">366</div>
<div class="t b" style="left:2995.50px;top:1353.50px;">-</div>
<div class="t r" style="left:2995.50px;top:1404.80px;">-</div>
<div class="t b" style="left:3194.10px;top:1353.50px;">-</div>
<div class="t r" style="left:3194.10px;top:1404.80px;">-</div>
<div class="t b" style="left:3393.10px;top:1353.50px;">-</div>
<div class="t r" style="left:3393.10px;top:1404.80px;">-</div>
<div class="t b" style="left:3591.50px;top:1353.50px;">-</div>
<div class="t r" style="left:3591.50px;top:1404.80px;">-</div>
<div class="t b" style="left:3828.80px;top:1353.50px;">-</div>
<div class="t r" style="left:3828.80px;top:1404.80px;">-</div>
<div class="t b" style="left:3995.50px;top:1353.50px;transform:scaleX(1.0250);">82 289</div>
<div class="t r" style="left:4017.03px;top:1404.80px;transform:scaleX(1.0250);">5 711</div>
<div class="t b" style="left:47.16px;top:1456.10px;transform:scaleX(1.0400);">48</div>
<div class="t b" style="left:100.86px;top:1456.10px;transform:scaleX(0.9397);">Skolas ielas projektēšana izbūve -</div>
<div class="t b" style="left:100.80px;top:1507.40px;transform:scaleX(0.9981);">3.kārta</div>
<div class="t r" style="left:715.70px;top:1456.10px;transform:scaleX(1.1158);">A2/1/22/239</div>
<div class="t r" style="left:950.55px;top:1456.10px;transform:scaleX(1.0512);">P-160/2022</div>
<div class="t r" style="left:1173.55px;top:1456.10px;transform:scaleX(1.0260);">20.07.2022</div>
<div class="t r" style="left:1398.75px;top:1456.10px;transform:scaleX(1.0260);">20.07.2027</div>
<div class="t r" style="left:1717.73px;top:1456.10px;transform:scaleX(1.0250);">90 861</div>
<div class="t b" style="left:1857.58px;top:1456.10px;transform:scaleX(0.9615);">Pamatsumma</div>
<div class="t r" style="left:1856.79px;top:1507.40px;transform:scaleX(1.0017);">Procentu maksa</div>
<div class="t b" style="left:2238.80px;top:1456.10px;transform:scaleX(1.0250);">20 380</div>
<div class="t r" style="left:2258.28px;top:1507.40px;transform:scaleX(1.0250);">2 107</div>
<div class="t b" style="left:2490.90px;top:1456.10px;transform:scaleX(1.0250);">20 380</div>
<div class="t r" style="left:2510.38px;top:1507.40px;transform:scaleX(1.0250);">1 368</div>
<div class="t b" style="left:2709.17px;top:1456.10px;transform:scaleX(1.0250);">9 346</div>
<div class="t r" style="left:2736.85px;top:1507.40px;transform:scaleX(1.0250);">430</div>
<div class="t b" style="left:2995.50px;top:1456.10px;">-</div>
<div class="t r" style="left:2995.50px;top:1507.40px;">-</div>
<div class="t b" style="left:3194.10px;top:1456.10px;">-</div>
<div class="t r" style="left:3194.10px;top:1507.40px;">-</div>
<div class="t b" style="left:3393.10px;top:1456.10px;">-</div>
<div class="t r" style="left:3393.10px;top:1507.40px;">-</div>
<div class="t b" style="left:3591.50px;top:1456.10px;">-</div>
<div class="t r" style="left:3591.50px;top:1507.40px;">-</div>
<div class="t b" style="left:3828.80px;top:1456.10px;">-</div>
<div class="t r" style="left:3828.80px;top:1507.40px;">-</div>
<div class="t b" style="left:3995.50px;top:1456.10px;transform:scaleX(1.0250);">50 106</div>
<div class="t r" style="left:4014.97px;top:1507.40px;transform:scaleX(1.0250);">3 905</div>
<div class="t b" style="left:48.20px;top:1558.70px;transform:scaleX(1.0400);">49</div>
<div class="t b" style="left:100.89px;top:1558.70px;transform:scaleX(0.9105);">Skolas siltināšana</div>
<div class="t b" style="left:99.91px;top:1610.00px;transform:scaleX(0.9474);">un stadiona rekonstrukcija</div>
<div class="t r" style="left:715.70px;top:1558.70px;transform:scaleX(1.1158);">A2/1/22/250</div>
<div class="t r" style="left:950.55px;top:1558.70px;transform:scaleX(1.0512);">P-164/2022</div>
<div class="t r" style="left:1174.57px;top:1558.70px;transform:scaleX(1.0260);">03.08.2022</div>
<div class="t r" style="left:1398.75px;top:1558.70px;transform:scaleX(1.0260);">20.07.2032</div>
<div class="t r" style="left:1698.25px;top:1558.70px;transform:scaleX(1.0250);">496 340</div>
<div class="t b" style="left:1857.58px;top:1558.70px;transform:scaleX(0.9615);">Pamatsumma</div>
<div class="t r" style="left:1856.79px;top:1610.00px;transform:scaleX(1.0017);">Procentu maksa</div>
<div class="t b" style="left:2238.80px;top:1558.70px;transform:scaleX(1.0250);">53 660</div>
<div class="t r" style="left:2239.83px;top:1610.00px;transform:scaleX(1.0250);">19 163</div>
<div class="t b" style="left:2490.90px;top:1558.70px;transform:scaleX(1.0250);">53 660</div>
<div class="t r" style="left:2491.93px;top:1610.00px;transform:scaleX(1.0250);">17 277</div>
<div class="t b" style="left:2689.70px;top:1558.70px;transform:scaleX(1.0250);">53 660</div>
<div class="t r" style="left:2690.72px;top:1610.00px;transform:scaleX(1.0250);">14 718</div>
<div class="t b" style="left:2940.00px;top:1558.70px;transform:scaleX(1.0250);">53 660</div>
<div class="t r" style="left:2941.03px;top:1610.00px;transform:scaleX(1.0250);">12 158</div>
<div class="t b" style="left:3138.60px;top:1558.70px;transform:scaleX(1.0250);">53 660</div>
<div class="t r" style="left:3158.07px;top:1610.00px;transform:scaleX(1.0250);">9 598</div>
<div class="t b" style="left:3337.60px;top:1558.70px;transform:scaleX(1.0250);">53 660</div>
<div class="t r" style="left:3357.07px;top:1610.00px;transform:scaleX(1.0250);">7 039</div>
<div class="t b" style="left:3536.00px;top:1558.70px;transform:scaleX(1.0250);">53 660</div>
<div class="t r" style="left:3555.47px;top:1610.00px;transform:scaleX(1.0250);">4 479</div>
<div class="t b" style="left:3773.30px;top:1558.70px;transform:scaleX(1.0250);">40 245</div>
<div class="t r" style="left:3792.78px;top:1610.00px;transform:scaleX(1.0250);">1 920</div>
<div class="t b" style="left:3977.05px;top:1558.70px;transform:scaleX(1.0250);">415 865</div>
<div class="t r" style="left:3996.53px;top:1610.00px;transform:scaleX(1.0250);">86 352</div>
<div class="t b" style="left:48.20px;top:1661.30px;transform:scaleX(1.0400);">50</div>
<div class="t b" style="left:100.85px;top:1661.30px;transform:scaleX(0.9478);">Aizvēju ielas Garciemā,</div>
<div class="t b" style="left:109.44px;top:1712.60px;transform:scaleX(0.9600);">dubultā virsmas apstrāde (2.daļa)</div>
<div class="t r" style="left:715.70px;top:1661.30px;transform:scaleX(1.1158);">A2/1/22/265</div>
<div class="t r" style="left:950.55px;top:1661.30px;transform:scaleX(1.0512);">P-175/2022</div>
<div class="t r" style="left:1174.57px;top:1661.30px;transform:scaleX(1.0260);">08.08.2022</div>
<div class="t r" style="left:1398.75px;top:1661.30px;transform:scaleX(1.0260);">20.07.2029</div>
<div class="t r" style="left:1736.17px;top:1661.30px;transform:scaleX(1.0250);">6 469</div>
<div class="t b" style="left:1857.58px;top:1661.30px;transform:scaleX(0.9615);">Pamatsumma</div>
<div class="t r" style="left:1856.79px;top:1712.60px;transform:scaleX(1.0017);">Procentu maksa</div>
<div class="t b" style="left:2285.95px;top:1661.30px;transform:scaleX(1.0250);">928</div>
<div class="t r" style="left:2285.95px;top:1712.60px;transform:scaleX(1.0250);">193</div>
<div class="t b" style="left:2538.05px;top:1661.30px;transform:scaleX(1.0250);">928</div>
<div class="t r" style="left:2538.05px;top:1712.60px;transform:scaleX(1.0250);">159</div>
<div class="t b" style="left:2736.85px;top:1661.30px;transform:scaleX(1.0250);">928</div>
<div class="t r" style="left:2739.92px;top:1712.60px;transform:scaleX(1.0250);">117</div>
<div class="t b" style="left:2987.15px;top:1661.30px;transform:scaleX(1.0250);">928</div>
<div class="t r" style="left:3005.60px;top:1712.60px;transform:scaleX(1.0250);">74</div>
<div class="t b" style="left:3185.75px;top:1661.30px;transform:scaleX(1.0250);">696</div>
<div class="t r" style="left:3205.22px;top:1712.60px;transform:scaleX(1.0250);">32</div>
<div class="t b" style="left:3393.10px;top:1661.30px;">-</div>
<div class="t r" style="left:3393.10px;top:1712.60px;">-</div>
<div class="t b" style="left:3591.50px;top:1661.30px;">-</div>
<div class="t r" style="left:3591.50px;top:1712.60px;">-</div>
<div class="t b" style="left:3828.80px;top:1661.30px;">-</div>
<div class="t r" style="left:3828.80px;top:1712.60px;">-</div>
<div class="t b" style="left:4013.95px;top:1661.30px;transform:scaleX(1.0250);">4 408</div>
<div class="t r" style="left:4042.65px;top:1712.60px;transform:scaleX(1.0250);">575</div>
<div class="t b" style="left:47.16px;top:1763.90px;transform:scaleX(1.0400);">51</div>
<div class="t b" style="left:100.87px;top:1763.90px;transform:scaleX(0.9324);">Carnikavas stadiona rekonstrukcija</div>
<div class="t b" style="left:99.89px;top:1815.20px;transform:scaleX(0.9544);">(Prioritārais)</div>
<div class="t r" style="left:715.70px;top:1763.90px;transform:scaleX(1.1158);">A2/1/22/536</div>
<div class="t r" style="left:950.55px;top:1763.90px;transform:scaleX(1.0512);">P-363/2022</div>
<div class="t r" style="left:1173.55px;top:1763.90px;transform:scaleX(1.0260);">29.11.2022</div>
<div class="t r" style="left:1398.75px;top:1763.90px;transform:scaleX(1.0260);">20.11.2037</div>
<div class="t r" style="left:1698.25px;top:1763.90px;transform:scaleX(1.0250);">503 660</div>
<div class="t b" style="left:1857.58px;top:1763.90px;transform:scaleX(0.9615);">Pamatsumma</div>
<div class="t r" style="left:1856.79px;top:1815.20px;transform:scaleX(1.0017);">Procentu maksa</div>
<div class="t b" style="left:2238.80px;top:1763.90px;transform:scaleX(1.0250);">35 348</div>
<div class="t r" style="left:2239.83px;top:1815.20px;transform:scaleX(1.0250);">21 231</div>
<div class="t b" style="left:2490.90px;top:1763.90px;transform:scaleX(1.0250);">35 348</div>
<div class="t r" style="left:2491.93px;top:1815.20px;transform:scaleX(1.0250);">14 846</div>
<div class="t b" style="left:2689.70px;top:1763.90px;transform:scaleX(1.0250);">35 348</div>
<div class="t r" style="left:2690.72px;top:1815.20px;transform:scaleX(1.0250);">13 609</div>
<div class="t b" style="left:2940.00px;top:1763.90px;transform:scaleX(1.0250);">35 348</div>
<div class="t r" style="left:2941.03px;top:1815.20px;transform:scaleX(1.0250);">12 372</div>
<div class="t b" style="left:3138.60px;top:1763.90px;transform:scaleX(1.0250);">35 348</div>
<div class="t r" style="left:3141.67px;top:1815.20px;transform:scaleX(1.0250);">11 135</div>
<div class="t b" style="left:3337.60px;top:1763.90px;transform:scaleX(1.0250);">35 348</div>
<div class="t r" style="left:3357.07px;top:1815.20px;transform:scaleX(1.0250);">9 897</div>
<div class="t b" style="left:3536.00px;top:1763.90px;transform:scaleX(1.0250);">35 348</div>
<div class="t r" style="left:3555.47px;top:1815.20px;transform:scaleX(1.0250);">8 660</div>
<div class="t b" style="left:3754.85px;top:1763.90px;transform:scaleX(1.0250);">212 088</div>
<div class="t r" style="left:3774.33px;top:1815.20px;transform:scaleX(1.0250);">25 981</div>
<div class="t b" style="left:3976.03px;top:1763.90px;transform:scaleX(1.0250);">459 524</div>
<div class="t r" style="left:3980.12px;top:1815.20px;transform:scaleX(1.0250);">117 731</div>
<div class="t b" style="left:48.20px;top:1866.50px;transform:scaleX(1.0400);">52</div>
<div class="t b" style="left:100.87px;top:1866.50px;transform:scaleX(0.9324);">Carnikavas stadiona rekonstrukcija</div>
<div class="t b" style="left:99.86px;top:1917.80px;transform:scaleX(0.9680);">(Covid19)</div>
<div class="t r" style="left:715.70px;top:1866.50px;transform:scaleX(1.1158);">A2/1/22/538</div>
<div class="t r" style="left:950.55px;top:1866.50px;transform:scaleX(1.0512);">P-361/2022</div>
<div class="t r" style="left:1173.55px;top:1866.50px;transform:scaleX(1.0260);">29.11.2022</div>
<div class="t r" style="left:1398.75px;top:1866.50px;transform:scaleX(1.0260);">22.11.2032</div>
<div class="t r" style="left:1698.25px;top:1866.50px;transform:scaleX(1.0250);">300 000</div>
<div class="t b" style="left:1857.58px;top:1866.50px;transform:scaleX(0.9615);">Pamatsumma</div>
<div class="t r" style="left:1856.79px;top:1917.80px;transform:scaleX(1.0017);">Procentu maksa</div>
<div class="t b" style="left:2238.80px;top:1866.50px;transform:scaleX(1.0250);">32 436</div>
<div class="t r" style="left:2241.88px;top:1917.80px;transform:scaleX(1.0250);">11 346</div>
<div class="t b" style="left:2490.90px;top:1866.50px;transform:scaleX(1.0250);">32 436</div>
<div class="t r" style="left:2510.38px;top:1917.80px;transform:scaleX(1.0250);">7 947</div>
<div class="t b" style="left:2689.70px;top:1866.50px;transform:scaleX(1.0250);">32 436</div>
<div class="t r" style="left:2709.17px;top:1917.80px;transform:scaleX(1.0250);">6 812</div>
<div class="t b" style="left:2940.00px;top:1866.50px;transform:scaleX(1.0250);">32 436</div>
<div class="t r" style="left:2959.47px;top:1917.80px;transform:scaleX(1.0250);">5 676</div>
<div class="t b" style="left:3138.60px;top:1866.50px;transform:scaleX(1.0250);">32 436</div>
<div class="t r" style="left:3158.07px;top:1917.80px;transform:scaleX(1.0250);">4 541</div>
<div class="t b" style="left:3337.60px;top:1866.50px;transform:scaleX(1.0250);">32 436</div>
<div class="t r" style="left:3357.07px;top:1917.80px;transform:scaleX(1.0250);">3 406</div>
<div class="t b" style="left:3536.00px;top:1866.50px;transform:scaleX(1.0250);">32 436</div>
<div class="t r" style="left:3555.47px;top:1917.80px;transform:scaleX(1.0250);">2 271</div>
<div class="t b" style="left:3773.30px;top:1866.50px;transform:scaleX(1.0250);">32 436</div>
<div class="t r" style="left:3792.78px;top:1917.80px;transform:scaleX(1.0250);">1 135</div>
<div class="t b" style="left:3977.05px;top:1866.50px;transform:scaleX(1.0250);">259 488</div>
<div class="t r" style="left:3996.53px;top:1917.80px;transform:scaleX(1.0250);">43 133</div>
<div class="t b" style="left:48.20px;top:1969.10px;transform:scaleX(1.0400);">53</div>
<div class="t b" style="left:99.73px;top:1969.10px;transform:scaleX(1.0358);">ERAF projekta (Nr.5.1.1.0/17/I/009)</div>
<div class="t b" style="left:99.90px;top:2020.40px;transform:scaleX(0.9496);">“Novērst plūdu un krasta erozijas risku apdraudējumu Ādažu novadā, 1. daļa” īstenošanai</div>
<div class="t r" style="left:715.70px;top:1969.10px;transform:scaleX(1.1158);">A2/1/22/582</div>
<div class="t r" style="left:950.55px;top:1969.10px;transform:scaleX(1.0512);">P-389/2022</div>
<div class="t r" style="left:1173.55px;top:1969.10px;transform:scaleX(1.0260);">23.12.2022</div>
<div class="t r" style="left:1398.75px;top:1969.10px;transform:scaleX(1.0260);">21.12.2037</div>
<div class="t r" style="left:1698.25px;top:1969.10px;transform:scaleX(1.0250);">292 889</div>
<div class="t b" style="left:1857.58px;top:1969.10px;transform:scaleX(0.9615);">Pamatsumma</div>
<div class="t r" style="left:1856.79px;top:2020.40px;transform:scaleX(1.0017);">Procentu maksa</div>
<div class="t b" style="left:2238.80px;top:1969.10px;transform:scaleX(1.0250);">20 200</div>
<div class="t r" style="left:2258.28px;top:2020.40px;transform:scaleX(1.0250);">8 925</div>
<div class="t b" style="left:2490.90px;top:1969.10px;transform:scaleX(1.0250);">20 200</div>
<div class="t r" style="left:2510.38px;top:2020.40px;transform:scaleX(1.0250);">6 086</div>
<div class="t b" style="left:2689.70px;top:1969.10px;transform:scaleX(1.0250);">20 200</div>
<div class="t r" style="left:2709.17px;top:2020.40px;transform:scaleX(1.0250);">5 379</div>
<div class="t b" style="left:2940.00px;top:1969.10px;transform:scaleX(1.0250);">20 200</div>
<div class="t r" style="left:2959.47px;top:2020.40px;transform:scaleX(1.0250);">4 672</div>
<div class="t b" style="left:3138.60px;top:1969.10px;transform:scaleX(1.0250);">20 200</div>
<div class="t r" style="left:3158.07px;top:2020.40px;transform:scaleX(1.0250);">3 965</div>
<div class="t b" style="left:3337.60px;top:1969.10px;transform:scaleX(1.0250);">20 200</div>
<div class="t r" style="left:3357.07px;top:2020.40px;transform:scaleX(1.0250);">3 258</div>
<div class="t b" style="left:3536.00px;top:1969.10px;transform:scaleX(1.0250);">20 200</div>
<div class="t r" style="left:3555.47px;top:2020.40px;transform:scaleX(1.0250);">2 551</div>
<div class="t b" style="left:3772.28px;top:1969.10px;transform:scaleX(1.0250);">52 684</div>
<div class="t r" style="left:3794.83px;top:2020.40px;transform:scaleX(1.0250);">3 411</div>
<div class="t b" style="left:3976.03px;top:1969.10px;transform:scaleX(1.0250);">194 084</div>
<div class="t r" style="left:3996.53px;top:2020.40px;transform:scaleX(1.0250);">38 246</div>
<div class="t b" style="left:46.12px;top:2071.70px;transform:scaleX(1.0400);">54</div>
<div class="t b" style="left:100.87px;top:2071.70px;transform:scaleX(0.9324);">Carnikavas stadiona rekonstrukcija</div>
<div class="t b" style="left:108.44px;top:2123.00px;transform:scaleX(0.9777);">(Prioritārais 2023.g.)</div>
<div class="t r" style="left:715.70px;top:2071.70px;transform:scaleX(1.1158);">A2/1/23/156</div>
<div class="t r" style="left:950.55px;top:2071.70px;transform:scaleX(1.0512);">P-104/2023</div>
<div class="t r" style="left:1173.55px;top:2071.70px;transform:scaleX(1.0260);">26.06.2023</div>
<div class="t r" style="left:1398.75px;top:2071.70px;transform:scaleX(1.0260);">21.06.2038</div>
<div class="t r" style="left:1698.25px;top:2071.70px;transform:scaleX(1.0250);">495 501</div>
<div class="t b" style="left:1857.58px;top:2071.70px;transform:scaleX(0.9615);">Pamatsumma</div>
<div class="t r" style="left:1856.79px;top:2123.00px;transform:scaleX(1.0017);">Procentu maksa</div>
<div class="t b" style="left:2238.80px;top:2071.70px;transform:scaleX(1.0250);">34 772</div>
<div class="t r" style="left:2239.83px;top:2123.00px;transform:scaleX(1.0250);">22 121</div>
<div class="t b" style="left:2490.90px;top:2071.70px;transform:scaleX(1.0250);">34 772</div>
<div class="t r" style="left:2491.93px;top:2123.00px;transform:scaleX(1.0250);">21 693</div>
<div class="t b" style="left:2689.70px;top:2071.70px;transform:scaleX(1.0250);">34 772</div>
<div class="t r" style="left:2690.72px;top:2123.00px;transform:scaleX(1.0250);">19 958</div>
<div class="t b" style="left:2940.00px;top:2071.70px;transform:scaleX(1.0250);">34 772</div>
<div class="t r" style="left:2941.03px;top:2123.00px;transform:scaleX(1.0250);">18 222</div>
<div class="t b" style="left:3138.60px;top:2071.70px;transform:scaleX(1.0250);">34 772</div>
<div class="t r" style="left:3139.62px;top:2123.00px;transform:scaleX(1.0250);">16 487</div>
<div class="t b" style="left:3337.60px;top:2071.70px;transform:scaleX(1.0250);">34 772</div>
<div class="t r" style="left:3338.62px;top:2123.00px;transform:scaleX(1.0250);">14 751</div>
<div class="t b" style="left:3536.00px;top:2071.70px;transform:scaleX(1.0250);">34 772</div>
<div class="t r" style="left:3537.03px;top:2123.00px;transform:scaleX(1.0250);">13 016</div>
<div class="t b" style="left:3754.85px;top:2071.70px;transform:scaleX(1.0250);">226 018</div>
<div class="t r" style="left:3774.33px;top:2123.00px;transform:scaleX(1.0250);">42 519</div>
<div class="t b" style="left:3977.05px;top:2071.70px;transform:scaleX(1.0250);">469 422</div>
<div class="t r" style="left:3977.05px;top:2123.00px;transform:scaleX(1.0250);">168 769</div>
<div class="t b" style="left:47.16px;top:2174.30px;transform:scaleX(1.0400);">55</div>
<div class="t b" style="left:99.89px;top:2174.30px;transform:scaleX(0.9531);">Ķiršu ielas III kārta</div>
<div class="t b" style="left:99.88px;top:2225.60px;transform:scaleX(0.9600);">no Saules ielas līdz Attekas ielai 0.17km</div>
<div class="t r" style="left:715.70px;top:2174.30px;transform:scaleX(1.1158);">A2/1/23/290</div>
<div class="t r" style="left:950.55px;top:2174.30px;transform:scaleX(1.0512);">P-222/2023</div>
<div class="t r" style="left:1213.74px;top:2174.30px;transform:scaleX(1.0260);">21.08.2023</div>
<div class="t r" style="left:1398.75px;top:2174.30px;transform:scaleX(1.0260);">20.07.2033</div>
<div class="t r" style="left:1698.25px;top:2174.30px;transform:scaleX(1.0250);">165 176</div>
<div class="t b" style="left:1857.58px;top:2174.30px;transform:scaleX(0.9615);">Pamatsumma</div>
<div class="t r" style="left:1856.79px;top:2225.60px;transform:scaleX(1.0017);">Procentu maksa</div>
<div class="t b" style="left:2237.78px;top:2174.30px;transform:scaleX(1.0250);">31 084</div>
<div class="t r" style="left:2258.28px;top:2225.60px;transform:scaleX(1.0250);">6 100</div>
<div class="t b" style="left:2489.88px;top:2174.30px;transform:scaleX(1.0250);">31 084</div>
<div class="t r" style="left:2512.43px;top:2225.60px;transform:scaleX(1.0250);">5 011</div>
<div class="t b" style="left:2688.67px;top:2174.30px;transform:scaleX(1.0250);">31 084</div>
<div class="t r" style="left:2709.17px;top:2225.60px;transform:scaleX(1.0250);">3 697</div>
<div class="t b" style="left:2938.97px;top:2174.30px;transform:scaleX(1.0250);">31 084</div>
<div class="t r" style="left:2959.47px;top:2225.60px;transform:scaleX(1.0250);">2 383</div>
<div class="t b" style="left:3138.60px;top:2174.30px;transform:scaleX(1.0250);">25 298</div>
<div class="t r" style="left:3158.07px;top:2225.60px;transform:scaleX(1.0250);">1 069</div>
<div class="t b" style="left:3828.80px;top:2174.30px;">-</div>
<div class="t r" style="left:3828.80px;top:2225.60px;">-</div>
<div class="t b" style="left:3976.03px;top:2174.30px;transform:scaleX(1.0250);">149 634</div>
<div class="t r" style="left:3996.53px;top:2225.60px;transform:scaleX(1.0250);">18 261</div>
<div style="left:3660px;top:1347px;width:0;height:0;border-top:15px solid #128a12;border-right:15px solid transparent"></div>
<div style="left:3897px;top:1347px;width:0;height:0;border-top:15px solid #128a12;border-right:15px solid transparent"></div>
<div style="left:2363px;top:1398px;width:0;height:0;border-top:15px solid #128a12;border-right:15px solid transparent"></div>
<div style="left:2615px;top:1398px;width:0;height:0;border-top:15px solid #128a12;border-right:15px solid transparent"></div>
<div style="left:3660px;top:1398px;width:0;height:0;border-top:15px solid #128a12;border-right:15px solid transparent"></div>
<div style="left:3660px;top:1449px;width:0;height:0;border-top:15px solid #128a12;border-right:15px solid transparent"></div>
<div style="left:3897px;top:1449px;width:0;height:0;border-top:15px solid #128a12;border-right:15px solid transparent"></div>
<div style="left:2363px;top:1500px;width:0;height:0;border-top:15px solid #128a12;border-right:15px solid transparent"></div>
<div style="left:2615px;top:1500px;width:0;height:0;border-top:15px solid #128a12;border-right:15px solid transparent"></div>
<div style="left:3660px;top:1500px;width:0;height:0;border-top:15px solid #128a12;border-right:15px solid transparent"></div>
<div style="left:3660px;top:1552px;width:0;height:0;border-top:15px solid #128a12;border-right:15px solid transparent"></div>
<div style="left:3897px;top:1552px;width:0;height:0;border-top:15px solid #128a12;border-right:15px solid transparent"></div>
<div style="left:2363px;top:1603px;width:0;height:0;border-top:15px solid #128a12;border-right:15px solid transparent"></div>
<div style="left:2615px;top:1603px;width:0;height:0;border-top:15px solid #128a12;border-right:15px solid transparent"></div>
<div style="left:2814px;top:1603px;width:0;height:0;border-top:15px solid #128a12;border-right:15px solid transparent"></div>
<div style="left:3064px;top:1603px;width:0;height:0;border-top:15px solid #128a12;border-right:15px solid transparent"></div>
<div style="left:3263px;top:1603px;width:0;height:0;border-top:15px solid #128a12;border-right:15px solid transparent"></div>
<div style="left:3462px;top:1603px;width:0;height:0;border-top:15px solid #128a12;border-right:15px solid transparent"></div>
<div style="left:3660px;top:1654px;width:0;height:0;border-top:15px solid #128a12;border-right:15px solid transparent"></div>
<div style="left:3897px;top:1654px;width:0;height:0;border-top:15px solid #128a12;border-right:15px solid transparent"></div>
<div style="left:2363px;top:1706px;width:0;height:0;border-top:15px solid #128a12;border-right:15px solid transparent"></div>
<div style="left:2615px;top:1706px;width:0;height:0;border-top:15px solid #128a12;border-right:15px solid transparent"></div>
<div style="left:2814px;top:1706px;width:0;height:0;border-top:15px solid #128a12;border-right:15px solid transparent"></div>
<div style="left:3064px;top:1706px;width:0;height:0;border-top:15px solid #128a12;border-right:15px solid transparent"></div>
<div style="left:3660px;top:1706px;width:0;height:0;border-top:15px solid #128a12;border-right:15px solid transparent"></div>
<div style="left:3660px;top:1757px;width:0;height:0;border-top:15px solid #128a12;border-right:15px solid transparent"></div>
<div style="left:3897px;top:1757px;width:0;height:0;border-top:15px solid #128a12;border-right:15px solid transparent"></div>
<div style="left:2363px;top:1808px;width:0;height:0;border-top:15px solid #128a12;border-right:15px solid transparent"></div>
<div style="left:2615px;top:1808px;width:0;height:0;border-top:15px solid #128a12;border-right:15px solid transparent"></div>
<div style="left:2814px;top:1808px;width:0;height:0;border-top:15px solid #128a12;border-right:15px solid transparent"></div>
<div style="left:3064px;top:1808px;width:0;height:0;border-top:15px solid #128a12;border-right:15px solid transparent"></div>
<div style="left:3263px;top:1808px;width:0;height:0;border-top:15px solid #128a12;border-right:15px solid transparent"></div>
<div style="left:3462px;top:1808px;width:0;height:0;border-top:15px solid #128a12;border-right:15px solid transparent"></div>
<div style="left:3660px;top:1860px;width:0;height:0;border-top:15px solid #128a12;border-right:15px solid transparent"></div>
<div style="left:3897px;top:1860px;width:0;height:0;border-top:15px solid #128a12;border-right:15px solid transparent"></div>
<div style="left:2363px;top:1911px;width:0;height:0;border-top:15px solid #128a12;border-right:15px solid transparent"></div>
<div style="left:2615px;top:1911px;width:0;height:0;border-top:15px solid #128a12;border-right:15px solid transparent"></div>
<div style="left:2814px;top:1911px;width:0;height:0;border-top:15px solid #128a12;border-right:15px solid transparent"></div>
<div style="left:3064px;top:1911px;width:0;height:0;border-top:15px solid #128a12;border-right:15px solid transparent"></div>
<div style="left:3263px;top:1911px;width:0;height:0;border-top:15px solid #128a12;border-right:15px solid transparent"></div>
<div style="left:3462px;top:1911px;width:0;height:0;border-top:15px solid #128a12;border-right:15px solid transparent"></div>
<div style="left:3897px;top:1962px;width:0;height:0;border-top:15px solid #128a12;border-right:15px solid transparent"></div>
<div style="left:3660px;top:2065px;width:0;height:0;border-top:15px solid #128a12;border-right:15px solid transparent"></div>
<div style="left:3897px;top:2065px;width:0;height:0;border-top:15px solid #128a12;border-right:15px solid transparent"></div>
<div style="left:2363px;top:2116px;width:0;height:0;border-top:15px solid #128a12;border-right:15px solid transparent"></div>
<div style="left:2615px;top:2116px;width:0;height:0;border-top:15px solid #128a12;border-right:15px solid transparent"></div>
<div style="left:2814px;top:2116px;width:0;height:0;border-top:15px solid #128a12;border-right:15px solid transparent"></div>
<div style="left:3064px;top:2116px;width:0;height:0;border-top:15px solid #128a12;border-right:15px solid transparent"></div>
<div style="left:3263px;top:2116px;width:0;height:0;border-top:15px solid #128a12;border-right:15px solid transparent"></div>
<div style="left:3462px;top:2116px;width:0;height:0;border-top:15px solid #128a12;border-right:15px solid transparent"></div>
<div style="left:3064px;top:2167px;width:0;height:0;border-top:15px solid #128a12;border-right:15px solid transparent"></div>
</body></html>
